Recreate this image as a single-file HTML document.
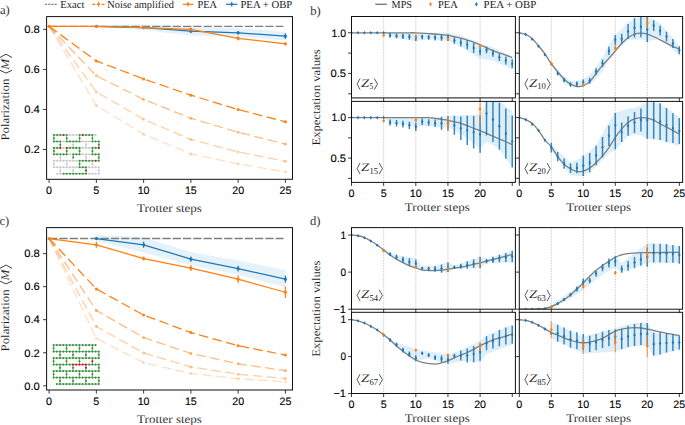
<!DOCTYPE html>
<html><head><meta charset="utf-8"><style>
html,body{margin:0;padding:0;background:#fff;}
svg{display:block;}
</style></head><body>
<svg text-rendering="geometricPrecision" width="685" height="425" viewBox="0 0 685 425">
<rect width="685" height="425" fill="#fff"/>
<polygon points="96.36,25.77 143.62,24.16 190.88,26.57 238.14,28.17 285.4,31.97 285.4,40.58 238.14,36.78 190.88,35.38 143.62,29.97 96.36,26.97" fill="#e6f2fa"/>
<line x1="49.1" y1="26.37" x2="283.4" y2="26.37" stroke="#7f7f7f" stroke-width="1.4" stroke-dasharray="8.2 2.1" />
<polyline points="49.1,26.37 96.36,60.9 143.62,79.02 190.88,95.14 238.14,109.45 285.4,121.86" fill="none" stroke="#ff7f0e" stroke-width="1.25" stroke-dasharray="9.5 4.5" stroke-opacity="1.0" stroke-linejoin="round" />
<circle cx="96.36" cy="60.9" r="1.5" fill="#ff7f0e" fill-opacity="1.0"/>
<circle cx="143.62" cy="79.02" r="1.5" fill="#ff7f0e" fill-opacity="1.0"/>
<circle cx="190.88" cy="95.14" r="1.5" fill="#ff7f0e" fill-opacity="1.0"/>
<circle cx="238.14" cy="109.45" r="1.5" fill="#ff7f0e" fill-opacity="1.0"/>
<circle cx="285.4" cy="121.86" r="1.5" fill="#ff7f0e" fill-opacity="1.0"/>
<polyline points="49.1,26.37 96.36,75.82 143.62,99.44 190.88,118.26 238.14,132.27 285.4,144.08" fill="none" stroke="#ff7f0e" stroke-width="1.25" stroke-dasharray="9.5 4.5" stroke-opacity="0.52" stroke-linejoin="round" />
<circle cx="96.36" cy="75.82" r="1.5" fill="#ff7f0e" fill-opacity="0.52"/>
<circle cx="143.62" cy="99.44" r="1.5" fill="#ff7f0e" fill-opacity="0.52"/>
<circle cx="190.88" cy="118.26" r="1.5" fill="#ff7f0e" fill-opacity="0.52"/>
<circle cx="238.14" cy="132.27" r="1.5" fill="#ff7f0e" fill-opacity="0.52"/>
<circle cx="285.4" cy="144.08" r="1.5" fill="#ff7f0e" fill-opacity="0.52"/>
<polyline points="49.1,26.37 96.36,92.03 143.62,119.26 190.88,139.48 238.14,151.89 285.4,161.3" fill="none" stroke="#ff7f0e" stroke-width="1.25" stroke-dasharray="9.5 4.5" stroke-opacity="0.38" stroke-linejoin="round" />
<circle cx="96.36" cy="92.03" r="1.5" fill="#ff7f0e" fill-opacity="0.38"/>
<circle cx="143.62" cy="119.26" r="1.5" fill="#ff7f0e" fill-opacity="0.38"/>
<circle cx="190.88" cy="139.48" r="1.5" fill="#ff7f0e" fill-opacity="0.38"/>
<circle cx="238.14" cy="151.89" r="1.5" fill="#ff7f0e" fill-opacity="0.38"/>
<circle cx="285.4" cy="161.3" r="1.5" fill="#ff7f0e" fill-opacity="0.38"/>
<polyline points="49.1,26.37 96.36,105.45 143.62,134.27 190.88,153.89 238.14,163.9 285.4,171.71" fill="none" stroke="#ff7f0e" stroke-width="1.25" stroke-dasharray="9.5 4.5" stroke-opacity="0.26" stroke-linejoin="round" />
<circle cx="96.36" cy="105.45" r="1.5" fill="#ff7f0e" fill-opacity="0.26"/>
<circle cx="143.62" cy="134.27" r="1.5" fill="#ff7f0e" fill-opacity="0.26"/>
<circle cx="190.88" cy="153.89" r="1.5" fill="#ff7f0e" fill-opacity="0.26"/>
<circle cx="238.14" cy="163.9" r="1.5" fill="#ff7f0e" fill-opacity="0.26"/>
<circle cx="285.4" cy="171.71" r="1.5" fill="#ff7f0e" fill-opacity="0.26"/>
<polyline points="96.36,26.37 143.62,27.57 190.88,31.17 238.14,32.77 285.4,36.18" fill="none" stroke="#1f77b4" stroke-width="1.25" stroke-linejoin="round" />
<line x1="96.36" y1="25.97" x2="96.36" y2="26.77" stroke="#1f77b4" stroke-width="1.2" />
<circle cx="96.36" cy="26.37" r="1.6" fill="#1f77b4"/>
<line x1="143.62" y1="26.77" x2="143.62" y2="28.37" stroke="#1f77b4" stroke-width="1.2" />
<circle cx="143.62" cy="27.57" r="1.6" fill="#1f77b4"/>
<line x1="190.88" y1="29.57" x2="190.88" y2="32.77" stroke="#1f77b4" stroke-width="1.2" />
<circle cx="190.88" cy="31.17" r="1.6" fill="#1f77b4"/>
<line x1="238.14" y1="30.97" x2="238.14" y2="34.58" stroke="#1f77b4" stroke-width="1.2" />
<circle cx="238.14" cy="32.77" r="1.6" fill="#1f77b4"/>
<line x1="285.4" y1="33.37" x2="285.4" y2="38.98" stroke="#1f77b4" stroke-width="1.2" />
<circle cx="285.4" cy="36.18" r="1.6" fill="#1f77b4"/>
<polyline points="49.1,26.37 96.36,26.37 143.62,27.57 190.88,29.37 238.14,38.38 285.4,43.78" fill="none" stroke="#ff7f0e" stroke-width="1.25" stroke-linejoin="round" />
<circle cx="49.1" cy="26.37" r="1.6" fill="#ff7f0e"/>
<line x1="96.36" y1="25.77" x2="96.36" y2="26.97" stroke="#ff7f0e" stroke-width="1.2" />
<circle cx="96.36" cy="26.37" r="1.6" fill="#ff7f0e"/>
<line x1="143.62" y1="26.77" x2="143.62" y2="28.37" stroke="#ff7f0e" stroke-width="1.2" />
<circle cx="143.62" cy="27.57" r="1.6" fill="#ff7f0e"/>
<line x1="190.88" y1="27.57" x2="190.88" y2="31.17" stroke="#ff7f0e" stroke-width="1.2" />
<circle cx="190.88" cy="29.37" r="1.6" fill="#ff7f0e"/>
<line x1="238.14" y1="36.18" x2="238.14" y2="40.58" stroke="#ff7f0e" stroke-width="1.2" />
<circle cx="238.14" cy="38.38" r="1.6" fill="#ff7f0e"/>
<line x1="285.4" y1="42.58" x2="285.4" y2="44.99" stroke="#ff7f0e" stroke-width="1.2" />
<circle cx="285.4" cy="43.78" r="1.6" fill="#ff7f0e"/>
<rect x="46.6" y="16.6" width="245.9" height="162.7" fill="none" stroke="#111" stroke-width="1.0"/>
<line x1="43.1" y1="29.37" x2="46.6" y2="29.37" stroke="#222" stroke-width="0.9" />
<text x="39.8" y="33.12" font-family='"Liberation Sans", sans-serif' font-size="10.8" text-anchor="end" textLength="15.6" lengthAdjust="spacingAndGlyphs" fill="#000" stroke="#000" stroke-width="0.22" stroke-opacity="0.6">0.8</text>
<line x1="43.1" y1="69.41" x2="46.6" y2="69.41" stroke="#222" stroke-width="0.9" />
<text x="39.8" y="73.16" font-family='"Liberation Sans", sans-serif' font-size="10.8" text-anchor="end" textLength="15.6" lengthAdjust="spacingAndGlyphs" fill="#000" stroke="#000" stroke-width="0.22" stroke-opacity="0.6">0.6</text>
<line x1="43.1" y1="109.45" x2="46.6" y2="109.45" stroke="#222" stroke-width="0.9" />
<text x="39.8" y="113.2" font-family='"Liberation Sans", sans-serif' font-size="10.8" text-anchor="end" textLength="15.6" lengthAdjust="spacingAndGlyphs" fill="#000" stroke="#000" stroke-width="0.22" stroke-opacity="0.6">0.4</text>
<line x1="43.1" y1="149.49" x2="46.6" y2="149.49" stroke="#222" stroke-width="0.9" />
<text x="39.8" y="153.24" font-family='"Liberation Sans", sans-serif' font-size="10.8" text-anchor="end" textLength="15.6" lengthAdjust="spacingAndGlyphs" fill="#000" stroke="#000" stroke-width="0.22" stroke-opacity="0.6">0.2</text>
<line x1="49.1" y1="179.3" x2="49.1" y2="182.9" stroke="#222" stroke-width="0.9" />
<text x="49.1" y="193.9" font-family='"Liberation Sans", sans-serif' font-size="10.8" text-anchor="middle" textLength="6" lengthAdjust="spacingAndGlyphs" fill="#000" stroke="#000" stroke-width="0.22" stroke-opacity="0.6">0</text>
<line x1="96.36" y1="179.3" x2="96.36" y2="182.9" stroke="#222" stroke-width="0.9" />
<text x="96.36" y="193.9" font-family='"Liberation Sans", sans-serif' font-size="10.8" text-anchor="middle" textLength="6" lengthAdjust="spacingAndGlyphs" fill="#000" stroke="#000" stroke-width="0.22" stroke-opacity="0.6">5</text>
<line x1="143.62" y1="179.3" x2="143.62" y2="182.9" stroke="#222" stroke-width="0.9" />
<text x="143.62" y="193.9" font-family='"Liberation Sans", sans-serif' font-size="10.8" text-anchor="middle" textLength="11.9" lengthAdjust="spacingAndGlyphs" fill="#000" stroke="#000" stroke-width="0.22" stroke-opacity="0.6">10</text>
<line x1="190.88" y1="179.3" x2="190.88" y2="182.9" stroke="#222" stroke-width="0.9" />
<text x="190.88" y="193.9" font-family='"Liberation Sans", sans-serif' font-size="10.8" text-anchor="middle" textLength="11.9" lengthAdjust="spacingAndGlyphs" fill="#000" stroke="#000" stroke-width="0.22" stroke-opacity="0.6">15</text>
<line x1="238.14" y1="179.3" x2="238.14" y2="182.9" stroke="#222" stroke-width="0.9" />
<text x="238.14" y="193.9" font-family='"Liberation Sans", sans-serif' font-size="10.8" text-anchor="middle" textLength="11.9" lengthAdjust="spacingAndGlyphs" fill="#000" stroke="#000" stroke-width="0.22" stroke-opacity="0.6">20</text>
<line x1="285.4" y1="179.3" x2="285.4" y2="182.9" stroke="#222" stroke-width="0.9" />
<text x="285.4" y="193.9" font-family='"Liberation Sans", sans-serif' font-size="10.8" text-anchor="middle" textLength="11.9" lengthAdjust="spacingAndGlyphs" fill="#000" stroke="#000" stroke-width="0.22" stroke-opacity="0.6">25</text>
<text x="169.5" y="211.9" font-family='"Liberation Serif", serif' font-size="11.7" text-anchor="middle" textLength="64.8" lengthAdjust="spacingAndGlyphs" fill="#1c1c1c" stroke="#fff" stroke-width="0.12" stroke-opacity="0.7">Trotter steps</text>
<polygon points="96.36,234.93 143.62,237.24 190.88,252.11 238.14,260.54 285.4,270.12 285.4,287.15 238.14,274.75 190.88,265.33 143.62,252.44 96.36,241.04" fill="#e6f2fa"/>
<line x1="49.1" y1="238.56" x2="283.4" y2="238.56" stroke="#7f7f7f" stroke-width="1.4" stroke-dasharray="8.2 2.1" />
<polyline points="49.1,238.56 96.36,288.96 143.62,315.07 190.88,332.59 238.14,345.64 285.4,355.06" fill="none" stroke="#ff7f0e" stroke-width="1.25" stroke-dasharray="9.5 4.5" stroke-opacity="1.0" stroke-linejoin="round" />
<circle cx="96.36" cy="288.96" r="1.5" fill="#ff7f0e" fill-opacity="1.0"/>
<circle cx="143.62" cy="315.07" r="1.5" fill="#ff7f0e" fill-opacity="1.0"/>
<circle cx="190.88" cy="332.59" r="1.5" fill="#ff7f0e" fill-opacity="1.0"/>
<circle cx="238.14" cy="345.64" r="1.5" fill="#ff7f0e" fill-opacity="1.0"/>
<circle cx="285.4" cy="355.06" r="1.5" fill="#ff7f0e" fill-opacity="1.0"/>
<polyline points="49.1,238.56 96.36,310.45 143.62,337.55 190.88,353.41 238.14,363.82 285.4,370.6" fill="none" stroke="#ff7f0e" stroke-width="1.25" stroke-dasharray="9.5 4.5" stroke-opacity="0.52" stroke-linejoin="round" />
<circle cx="96.36" cy="310.45" r="1.5" fill="#ff7f0e" fill-opacity="0.52"/>
<circle cx="143.62" cy="337.55" r="1.5" fill="#ff7f0e" fill-opacity="0.52"/>
<circle cx="190.88" cy="353.41" r="1.5" fill="#ff7f0e" fill-opacity="0.52"/>
<circle cx="238.14" cy="363.82" r="1.5" fill="#ff7f0e" fill-opacity="0.52"/>
<circle cx="285.4" cy="370.6" r="1.5" fill="#ff7f0e" fill-opacity="0.52"/>
<polyline points="49.1,238.56 96.36,326.48 143.62,352.92 190.88,366.96 238.14,374.23 285.4,378.53" fill="none" stroke="#ff7f0e" stroke-width="1.25" stroke-dasharray="9.5 4.5" stroke-opacity="0.38" stroke-linejoin="round" />
<circle cx="96.36" cy="326.48" r="1.5" fill="#ff7f0e" fill-opacity="0.38"/>
<circle cx="143.62" cy="352.92" r="1.5" fill="#ff7f0e" fill-opacity="0.38"/>
<circle cx="190.88" cy="366.96" r="1.5" fill="#ff7f0e" fill-opacity="0.38"/>
<circle cx="238.14" cy="374.23" r="1.5" fill="#ff7f0e" fill-opacity="0.38"/>
<circle cx="285.4" cy="378.53" r="1.5" fill="#ff7f0e" fill-opacity="0.38"/>
<polyline points="49.1,238.56 96.36,338.37 143.62,362.67 190.88,373.41 238.14,378.69 285.4,381.83" fill="none" stroke="#ff7f0e" stroke-width="1.25" stroke-dasharray="9.5 4.5" stroke-opacity="0.26" stroke-linejoin="round" />
<circle cx="96.36" cy="338.37" r="1.5" fill="#ff7f0e" fill-opacity="0.26"/>
<circle cx="143.62" cy="362.67" r="1.5" fill="#ff7f0e" fill-opacity="0.26"/>
<circle cx="190.88" cy="373.41" r="1.5" fill="#ff7f0e" fill-opacity="0.26"/>
<circle cx="238.14" cy="378.69" r="1.5" fill="#ff7f0e" fill-opacity="0.26"/>
<circle cx="285.4" cy="381.83" r="1.5" fill="#ff7f0e" fill-opacity="0.26"/>
<polyline points="96.36,238.56 143.62,244.84 190.88,259.05 238.14,268.64 285.4,279.21" fill="none" stroke="#1f77b4" stroke-width="1.25" stroke-linejoin="round" />
<line x1="96.36" y1="237.57" x2="96.36" y2="239.55" stroke="#1f77b4" stroke-width="1.2" />
<circle cx="96.36" cy="238.56" r="1.6" fill="#1f77b4"/>
<line x1="143.62" y1="241.87" x2="143.62" y2="247.82" stroke="#1f77b4" stroke-width="1.2" />
<circle cx="143.62" cy="244.84" r="1.6" fill="#1f77b4"/>
<line x1="190.88" y1="256.41" x2="190.88" y2="261.7" stroke="#1f77b4" stroke-width="1.2" />
<circle cx="190.88" cy="259.05" r="1.6" fill="#1f77b4"/>
<line x1="238.14" y1="265.66" x2="238.14" y2="271.61" stroke="#1f77b4" stroke-width="1.2" />
<circle cx="238.14" cy="268.64" r="1.6" fill="#1f77b4"/>
<line x1="285.4" y1="275.58" x2="285.4" y2="282.85" stroke="#1f77b4" stroke-width="1.2" />
<circle cx="285.4" cy="279.21" r="1.6" fill="#1f77b4"/>
<polyline points="49.1,238.56 96.36,244.84 143.62,258.56 190.88,268.14 238.14,279.21 285.4,292.27" fill="none" stroke="#ff7f0e" stroke-width="1.25" stroke-linejoin="round" />
<circle cx="49.1" cy="238.56" r="1.6" fill="#ff7f0e"/>
<line x1="96.36" y1="241.87" x2="96.36" y2="247.82" stroke="#ff7f0e" stroke-width="1.2" />
<circle cx="96.36" cy="244.84" r="1.6" fill="#ff7f0e"/>
<line x1="143.62" y1="256.57" x2="143.62" y2="260.54" stroke="#ff7f0e" stroke-width="1.2" />
<circle cx="143.62" cy="258.56" r="1.6" fill="#ff7f0e"/>
<line x1="190.88" y1="265.17" x2="190.88" y2="271.12" stroke="#ff7f0e" stroke-width="1.2" />
<circle cx="190.88" cy="268.14" r="1.6" fill="#ff7f0e"/>
<line x1="238.14" y1="275.25" x2="238.14" y2="283.18" stroke="#ff7f0e" stroke-width="1.2" />
<circle cx="238.14" cy="279.21" r="1.6" fill="#ff7f0e"/>
<line x1="285.4" y1="286.48" x2="285.4" y2="298.05" stroke="#ff7f0e" stroke-width="1.2" />
<circle cx="285.4" cy="292.27" r="1.6" fill="#ff7f0e"/>
<rect x="46.6" y="227.6" width="245.9" height="162.4" fill="none" stroke="#111" stroke-width="1.0"/>
<line x1="43.1" y1="253.6" x2="46.6" y2="253.6" stroke="#222" stroke-width="0.9" />
<text x="39.8" y="257.35" font-family='"Liberation Sans", sans-serif' font-size="10.8" text-anchor="end" textLength="15.6" lengthAdjust="spacingAndGlyphs" fill="#000" stroke="#000" stroke-width="0.22" stroke-opacity="0.6">0.8</text>
<line x1="43.1" y1="286.65" x2="46.6" y2="286.65" stroke="#222" stroke-width="0.9" />
<text x="39.8" y="290.4" font-family='"Liberation Sans", sans-serif' font-size="10.8" text-anchor="end" textLength="15.6" lengthAdjust="spacingAndGlyphs" fill="#000" stroke="#000" stroke-width="0.22" stroke-opacity="0.6">0.6</text>
<line x1="43.1" y1="319.7" x2="46.6" y2="319.7" stroke="#222" stroke-width="0.9" />
<text x="39.8" y="323.45" font-family='"Liberation Sans", sans-serif' font-size="10.8" text-anchor="end" textLength="15.6" lengthAdjust="spacingAndGlyphs" fill="#000" stroke="#000" stroke-width="0.22" stroke-opacity="0.6">0.4</text>
<line x1="43.1" y1="352.75" x2="46.6" y2="352.75" stroke="#222" stroke-width="0.9" />
<text x="39.8" y="356.5" font-family='"Liberation Sans", sans-serif' font-size="10.8" text-anchor="end" textLength="15.6" lengthAdjust="spacingAndGlyphs" fill="#000" stroke="#000" stroke-width="0.22" stroke-opacity="0.6">0.2</text>
<line x1="43.1" y1="385.8" x2="46.6" y2="385.8" stroke="#222" stroke-width="0.9" />
<text x="39.8" y="389.55" font-family='"Liberation Sans", sans-serif' font-size="10.8" text-anchor="end" textLength="15.6" lengthAdjust="spacingAndGlyphs" fill="#000" stroke="#000" stroke-width="0.22" stroke-opacity="0.6">0.0</text>
<line x1="49.1" y1="390" x2="49.1" y2="393.6" stroke="#222" stroke-width="0.9" />
<text x="49.1" y="404.6" font-family='"Liberation Sans", sans-serif' font-size="10.8" text-anchor="middle" textLength="6" lengthAdjust="spacingAndGlyphs" fill="#000" stroke="#000" stroke-width="0.22" stroke-opacity="0.6">0</text>
<line x1="96.36" y1="390" x2="96.36" y2="393.6" stroke="#222" stroke-width="0.9" />
<text x="96.36" y="404.6" font-family='"Liberation Sans", sans-serif' font-size="10.8" text-anchor="middle" textLength="6" lengthAdjust="spacingAndGlyphs" fill="#000" stroke="#000" stroke-width="0.22" stroke-opacity="0.6">5</text>
<line x1="143.62" y1="390" x2="143.62" y2="393.6" stroke="#222" stroke-width="0.9" />
<text x="143.62" y="404.6" font-family='"Liberation Sans", sans-serif' font-size="10.8" text-anchor="middle" textLength="11.9" lengthAdjust="spacingAndGlyphs" fill="#000" stroke="#000" stroke-width="0.22" stroke-opacity="0.6">10</text>
<line x1="190.88" y1="390" x2="190.88" y2="393.6" stroke="#222" stroke-width="0.9" />
<text x="190.88" y="404.6" font-family='"Liberation Sans", sans-serif' font-size="10.8" text-anchor="middle" textLength="11.9" lengthAdjust="spacingAndGlyphs" fill="#000" stroke="#000" stroke-width="0.22" stroke-opacity="0.6">15</text>
<line x1="238.14" y1="390" x2="238.14" y2="393.6" stroke="#222" stroke-width="0.9" />
<text x="238.14" y="404.6" font-family='"Liberation Sans", sans-serif' font-size="10.8" text-anchor="middle" textLength="11.9" lengthAdjust="spacingAndGlyphs" fill="#000" stroke="#000" stroke-width="0.22" stroke-opacity="0.6">20</text>
<line x1="285.4" y1="390" x2="285.4" y2="393.6" stroke="#222" stroke-width="0.9" />
<text x="285.4" y="404.6" font-family='"Liberation Sans", sans-serif' font-size="10.8" text-anchor="middle" textLength="11.9" lengthAdjust="spacingAndGlyphs" fill="#000" stroke="#000" stroke-width="0.22" stroke-opacity="0.6">25</text>
<text x="169.5" y="422.6" font-family='"Liberation Serif", serif' font-size="11.7" text-anchor="middle" textLength="64.8" lengthAdjust="spacingAndGlyphs" fill="#1c1c1c" stroke="#fff" stroke-width="0.12" stroke-opacity="0.7">Trotter steps</text>
<g transform="translate(8.9,97.75) rotate(-90)">
<text x="-42.85" y="0" font-family='"Liberation Serif", serif' font-size="11.7" textLength="62" lengthAdjust="spacingAndGlyphs" fill="#1c1c1c" stroke="#fff" stroke-width="0.12" stroke-opacity="0.7">Polarization</text>
<polyline points="27.45,-8.9 24.65,-2.9 27.45,3.1" fill="none" stroke="#000" stroke-width="0.75"/>
<text x="28.1" y="0" font-family='"Liberation Serif", serif' font-size="11.7" textLength="11" lengthAdjust="spacingAndGlyphs" font-style="italic" fill="#1c1c1c" stroke="#fff" stroke-width="0.12" stroke-opacity="0.7">M</text>
<polyline points="40.25,-8.9 43.55,-2.9 40.25,3.1" fill="none" stroke="#000" stroke-width="0.75"/>
</g>
<g transform="translate(8.9,308.6) rotate(-90)">
<text x="-42.85" y="0" font-family='"Liberation Serif", serif' font-size="11.7" textLength="62" lengthAdjust="spacingAndGlyphs" fill="#1c1c1c" stroke="#fff" stroke-width="0.12" stroke-opacity="0.7">Polarization</text>
<polyline points="27.45,-8.9 24.65,-2.9 27.45,3.1" fill="none" stroke="#000" stroke-width="0.75"/>
<text x="28.1" y="0" font-family='"Liberation Serif", serif' font-size="11.7" textLength="11" lengthAdjust="spacingAndGlyphs" font-style="italic" fill="#1c1c1c" stroke="#fff" stroke-width="0.12" stroke-opacity="0.7">M</text>
<polyline points="40.25,-8.9 43.55,-2.9 40.25,3.1" fill="none" stroke="#000" stroke-width="0.75"/>
</g>
<text x="0" y="14" font-family='"Liberation Serif", serif' font-size="12.6" fill="#1c1c1c" stroke="#fff" stroke-width="0.12" stroke-opacity="0.7">a)</text>
<text x="-0.5" y="225.2" font-family='"Liberation Serif", serif' font-size="12.6" fill="#1c1c1c" stroke="#fff" stroke-width="0.12" stroke-opacity="0.7">c)</text>
<text x="310.2" y="14.5" font-family='"Liberation Serif", serif' font-size="12.6" fill="#1c1c1c" stroke="#fff" stroke-width="0.12" stroke-opacity="0.7">b)</text>
<text x="310" y="225.2" font-family='"Liberation Serif", serif' font-size="12.6" fill="#1c1c1c" stroke="#fff" stroke-width="0.12" stroke-opacity="0.7">d)</text>
<line x1="44.9" y1="4.3" x2="47.1" y2="4.3" stroke="#555" stroke-width="0.9" />
<line x1="48.1" y1="4.3" x2="50.3" y2="4.3" stroke="#555" stroke-width="0.9" />
<line x1="51.3" y1="4.3" x2="53.5" y2="4.3" stroke="#555" stroke-width="0.9" />
<line x1="54.5" y1="4.3" x2="56.7" y2="4.3" stroke="#555" stroke-width="0.9" />
<text x="60.2" y="7.55" font-family='"Liberation Serif", serif' font-size="10.6" textLength="24.3" lengthAdjust="spacingAndGlyphs" fill="#1c1c1c" >Exact</text>
<line x1="92.3" y1="4.3" x2="104.9" y2="4.3" stroke="#ff7f0e" stroke-width="1.2" stroke-dasharray="3 1.6" />
<line x1="98.6" y1="2" x2="98.6" y2="6.6" stroke="#ff7f0e" stroke-width="1.1" />
<circle cx="98.6" cy="4.3" r="1.3" fill="#ff7f0e"/>
<text x="107.3" y="7.55" font-family='"Liberation Serif", serif' font-size="10.6" textLength="66.7" lengthAdjust="spacingAndGlyphs" fill="#1c1c1c" >Noise amplified</text>
<line x1="182.7" y1="4.3" x2="193.6" y2="4.3" stroke="#ff7f0e" stroke-width="1.2" />
<line x1="188.1" y1="2" x2="188.1" y2="6.6" stroke="#ff7f0e" stroke-width="1.1" />
<circle cx="188.1" cy="4.3" r="1.3" fill="#ff7f0e"/>
<text x="197.4" y="7.55" font-family='"Liberation Serif", serif' font-size="10.6" textLength="19.6" lengthAdjust="spacingAndGlyphs" fill="#1c1c1c" >PEA</text>
<line x1="226" y1="4.3" x2="237.4" y2="4.3" stroke="#1f77b4" stroke-width="1.2" />
<line x1="231.7" y1="2" x2="231.7" y2="6.6" stroke="#1f77b4" stroke-width="1.1" />
<circle cx="231.7" cy="4.3" r="1.3" fill="#1f77b4"/>
<text x="240.4" y="7.55" font-family='"Liberation Serif", serif' font-size="10.6" textLength="51.9" lengthAdjust="spacingAndGlyphs" fill="#1c1c1c" >PEA + OBP</text>
<line x1="375.3" y1="4.3" x2="386.9" y2="4.3" stroke="#7f7f7f" stroke-width="1.5" />
<text x="391.6" y="7.55" font-family='"Liberation Serif", serif' font-size="10.6" textLength="20.4" lengthAdjust="spacingAndGlyphs" fill="#1c1c1c" >MPS</text>
<polygon points="430.5,2 431.9,4.3 430.5,6.6 429.1,4.3" fill="#ff7f0e"/>
<text x="438" y="7.55" font-family='"Liberation Serif", serif' font-size="10.6" textLength="19.7" lengthAdjust="spacingAndGlyphs" fill="#1c1c1c" >PEA</text>
<polygon points="476.4,2 477.8,4.3 476.4,6.6 475,4.3" fill="#1f77b4"/>
<text x="483.6" y="7.55" font-family='"Liberation Serif", serif' font-size="10.6" textLength="52.6" lengthAdjust="spacingAndGlyphs" fill="#1c1c1c" >PEA + OBP</text>
<clipPath id="cp016"><rect x="351.5" y="16.5" width="163.9" height="81.4"/></clipPath>
<g clip-path="url(#cp016)">
<polygon points="383.65,32.78 390.08,32.78 396.51,32.78 402.94,33.05 409.37,33.32 415.8,33.59 422.23,33.19 428.66,32.78 435.09,32.78 441.52,32.78 447.95,32.78 454.38,34 460.81,35.22 467.24,37.94 473.67,40.65 480.1,43.36 486.53,45.4 492.96,47.43 499.39,50.42 505.82,53.4 512.25,56.39 512.25,69.41 505.82,66.43 499.39,63.44 492.96,60.46 486.53,59.64 480.1,58.83 473.67,54.76 467.24,50.69 460.81,46.62 454.38,43.77 447.95,40.92 441.52,40.38 435.09,39.83 428.66,39.29 422.23,40.11 415.8,40.92 409.37,40.11 402.94,39.29 396.51,38.48 390.08,35.63 383.65,32.78" fill="#dfeff9"/>
<line x1="383.65" y1="16.5" x2="383.65" y2="97.9" stroke="#000" stroke-width="0.9" stroke-opacity="0.05"/>
<line x1="383.65" y1="16.5" x2="383.65" y2="97.9" stroke="#c4c4c4" stroke-width="0.8" stroke-dasharray="1.2 1.5" />
<line x1="415.8" y1="16.5" x2="415.8" y2="97.9" stroke="#000" stroke-width="0.9" stroke-opacity="0.05"/>
<line x1="415.8" y1="16.5" x2="415.8" y2="97.9" stroke="#c4c4c4" stroke-width="0.8" stroke-dasharray="1.2 1.5" />
<line x1="447.95" y1="16.5" x2="447.95" y2="97.9" stroke="#000" stroke-width="0.9" stroke-opacity="0.05"/>
<line x1="447.95" y1="16.5" x2="447.95" y2="97.9" stroke="#c4c4c4" stroke-width="0.8" stroke-dasharray="1.2 1.5" />
<line x1="480.1" y1="16.5" x2="480.1" y2="97.9" stroke="#000" stroke-width="0.9" stroke-opacity="0.05"/>
<line x1="480.1" y1="16.5" x2="480.1" y2="97.9" stroke="#c4c4c4" stroke-width="0.8" stroke-dasharray="1.2 1.5" />
<path d="M351.5,32.78 C352.57,32.78 355.79,32.78 357.93,32.78 C360.07,32.78 362.22,32.78 364.36,32.78 C366.5,32.78 368.65,32.78 370.79,32.78 C372.93,32.78 375.08,32.78 377.22,32.78 C379.36,32.78 381.51,32.78 383.65,32.78 C385.79,32.78 387.94,32.78 390.08,32.78 C392.22,32.78 394.37,32.78 396.51,32.78 C398.65,32.78 400.8,32.78 402.94,32.78 C405.08,32.78 407.23,32.78 409.37,32.78 C411.51,32.78 413.66,32.71 415.8,32.78 C417.94,32.85 420.09,33.05 422.23,33.19 C424.37,33.32 426.52,33.46 428.66,33.59 C430.8,33.73 432.95,33.82 435.09,34 C437.23,34.18 439.38,34.44 441.52,34.65 C443.66,34.87 445.81,34.96 447.95,35.3 C450.09,35.64 452.24,36.21 454.38,36.69 C456.52,37.16 458.67,37.58 460.81,38.15 C462.95,38.72 465.1,39.44 467.24,40.11 C469.38,40.77 471.53,41.37 473.67,42.14 C475.81,42.91 477.96,43.8 480.1,44.75 C482.24,45.7 484.39,46.85 486.53,47.84 C488.67,48.83 490.82,49.83 492.96,50.69 C495.1,51.54 497.25,52.22 499.39,52.97 C501.53,53.71 503.68,54.41 505.82,55.16 C507.96,55.92 511.18,57.13 512.25,57.53" fill="none" stroke="#7f7f7f" stroke-width="1.3" stroke-linejoin="round" />
<polygon points="351.5,30.98 352.8,32.78 351.5,34.58 350.2,32.78" fill="#1f77b4"/>
<polygon points="357.93,30.98 359.23,32.78 357.93,34.58 356.63,32.78" fill="#1f77b4"/>
<polygon points="364.36,30.98 365.66,32.78 364.36,34.58 363.06,32.78" fill="#1f77b4"/>
<polygon points="370.79,30.98 372.09,32.78 370.79,34.58 369.49,32.78" fill="#1f77b4"/>
<polygon points="377.22,30.98 378.52,32.78 377.22,34.58 375.92,32.78" fill="#1f77b4"/>
<line x1="383.65" y1="32.37" x2="383.65" y2="33.19" stroke="#1f77b4" stroke-width="1.5" stroke-opacity="0.88"/>
<polygon points="383.65,30.98 384.95,32.78 383.65,34.58 382.35,32.78" fill="#1f77b4"/>
<line x1="390.08" y1="33.11" x2="390.08" y2="37.66" stroke="#1f77b4" stroke-width="1.5" stroke-opacity="0.88"/>
<polygon points="390.08,33.58 391.38,35.38 390.08,37.18 388.78,35.38" fill="#1f77b4"/>
<line x1="396.51" y1="33.43" x2="396.51" y2="38.32" stroke="#1f77b4" stroke-width="1.5" stroke-opacity="0.88"/>
<polygon points="396.51,34.07 397.81,35.87 396.51,37.67 395.21,35.87" fill="#1f77b4"/>
<line x1="402.94" y1="33.76" x2="402.94" y2="38.97" stroke="#1f77b4" stroke-width="1.5" stroke-opacity="0.88"/>
<polygon points="402.94,34.56 404.24,36.36 402.94,38.16 401.64,36.36" fill="#1f77b4"/>
<line x1="409.37" y1="34" x2="409.37" y2="39.7" stroke="#1f77b4" stroke-width="1.5" stroke-opacity="0.88"/>
<polygon points="409.37,35.05 410.67,36.85 409.37,38.65 408.07,36.85" fill="#1f77b4"/>
<line x1="415.8" y1="34.73" x2="415.8" y2="40.92" stroke="#1f77b4" stroke-width="1.5" stroke-opacity="0.88"/>
<polygon points="415.8,36.03 417.1,37.83 415.8,39.63 414.5,37.83" fill="#1f77b4"/>
<line x1="422.23" y1="34.41" x2="422.23" y2="39.29" stroke="#1f77b4" stroke-width="1.5" stroke-opacity="0.88"/>
<polygon points="422.23,35.05 423.53,36.85 422.23,38.65 420.93,36.85" fill="#1f77b4"/>
<line x1="428.66" y1="34.9" x2="428.66" y2="39.78" stroke="#1f77b4" stroke-width="1.5" stroke-opacity="0.88"/>
<polygon points="428.66,35.54 429.96,37.34 428.66,39.14 427.36,37.34" fill="#1f77b4"/>
<line x1="435.09" y1="34.73" x2="435.09" y2="40.43" stroke="#1f77b4" stroke-width="1.5" stroke-opacity="0.88"/>
<polygon points="435.09,35.78 436.39,37.58 435.09,39.38 433.79,37.58" fill="#1f77b4"/>
<line x1="441.52" y1="34.49" x2="441.52" y2="40.68" stroke="#1f77b4" stroke-width="1.5" stroke-opacity="0.88"/>
<polygon points="441.52,35.78 442.82,37.58 441.52,39.38 440.22,37.58" fill="#1f77b4"/>
<line x1="447.95" y1="34.41" x2="447.95" y2="40.92" stroke="#1f77b4" stroke-width="1.5" stroke-opacity="0.88"/>
<polygon points="447.95,35.86 449.25,37.66 447.95,39.46 446.65,37.66" fill="#1f77b4"/>
<line x1="454.38" y1="37.26" x2="454.38" y2="43.77" stroke="#1f77b4" stroke-width="1.5" stroke-opacity="0.88"/>
<polygon points="454.38,38.71 455.68,40.51 454.38,42.31 453.08,40.51" fill="#1f77b4"/>
<line x1="460.81" y1="38.8" x2="460.81" y2="46.62" stroke="#1f77b4" stroke-width="1.5" stroke-opacity="0.88"/>
<polygon points="460.81,40.91 462.11,42.71 460.81,44.51 459.51,42.71" fill="#1f77b4"/>
<line x1="467.24" y1="40.27" x2="467.24" y2="49.22" stroke="#1f77b4" stroke-width="1.5" stroke-opacity="0.88"/>
<polygon points="467.24,42.95 468.54,44.75 467.24,46.55 465.94,44.75" fill="#1f77b4"/>
<line x1="473.67" y1="43.12" x2="473.67" y2="52.89" stroke="#1f77b4" stroke-width="1.5" stroke-opacity="0.88"/>
<polygon points="473.67,46.2 474.97,48 473.67,49.8 472.37,48" fill="#1f77b4"/>
<line x1="480.1" y1="47.19" x2="480.1" y2="55.33" stroke="#1f77b4" stroke-width="1.5" stroke-opacity="0.88"/>
<polygon points="480.1,49.46 481.4,51.26 480.1,53.06 478.8,51.26" fill="#1f77b4"/>
<line x1="486.53" y1="46.54" x2="486.53" y2="53.37" stroke="#1f77b4" stroke-width="1.5" stroke-opacity="0.88"/>
<polygon points="486.53,48.16 487.83,49.96 486.53,51.76 485.23,49.96" fill="#1f77b4"/>
<line x1="492.96" y1="49.87" x2="492.96" y2="56.71" stroke="#1f77b4" stroke-width="1.5" stroke-opacity="0.88"/>
<polygon points="492.96,51.49 494.26,53.29 492.96,55.09 491.66,53.29" fill="#1f77b4"/>
<line x1="499.39" y1="53.46" x2="499.39" y2="60.94" stroke="#1f77b4" stroke-width="1.5" stroke-opacity="0.88"/>
<polygon points="499.39,55.4 500.69,57.2 499.39,59 498.09,57.2" fill="#1f77b4"/>
<line x1="505.82" y1="56.39" x2="505.82" y2="64.53" stroke="#1f77b4" stroke-width="1.5" stroke-opacity="0.88"/>
<polygon points="505.82,58.66 507.12,60.46 505.82,62.26 504.52,60.46" fill="#1f77b4"/>
<line x1="512.25" y1="59.23" x2="512.25" y2="68.19" stroke="#1f77b4" stroke-width="1.5" stroke-opacity="0.88"/>
<polygon points="512.25,61.91 513.55,63.71 512.25,65.51 510.95,63.71" fill="#1f77b4"/>
<line x1="383.65" y1="34.65" x2="383.65" y2="36.28" stroke="#ff7f0e" stroke-width="1.3" stroke-opacity="0.7"/>
<line x1="415.8" y1="35.63" x2="415.8" y2="38.07" stroke="#ff7f0e" stroke-width="1.3" stroke-opacity="0.7"/>
<line x1="447.95" y1="37.18" x2="447.95" y2="40.43" stroke="#ff7f0e" stroke-width="1.3" stroke-opacity="0.7"/>
<line x1="480.1" y1="44.66" x2="480.1" y2="47.92" stroke="#ff7f0e" stroke-width="1.3" stroke-opacity="0.7"/>
<polygon points="383.65,33.57 385.15,35.47 383.65,37.37 382.15,35.47" fill="#ff7f0e"/>
<polygon points="415.8,34.95 417.3,36.85 415.8,38.75 414.3,36.85" fill="#ff7f0e"/>
<polygon points="447.95,36.9 449.45,38.8 447.95,40.7 446.45,38.8" fill="#ff7f0e"/>
<polygon points="480.1,44.39 481.6,46.29 480.1,48.19 478.6,46.29" fill="#ff7f0e"/>
</g>
<rect x="351.5" y="16.5" width="163.9" height="81.4" fill="none" stroke="#111" stroke-width="1.0"/>
<line x1="348.1" y1="93.83" x2="351.5" y2="93.83" stroke="#222" stroke-width="0.9" />
<line x1="348.1" y1="73.48" x2="351.5" y2="73.48" stroke="#222" stroke-width="0.9" />
<line x1="348.1" y1="53.13" x2="351.5" y2="53.13" stroke="#222" stroke-width="0.9" />
<line x1="348.1" y1="32.78" x2="351.5" y2="32.78" stroke="#222" stroke-width="0.9" />
<text x="346" y="36.53" font-family='"Liberation Sans", sans-serif' font-size="10.8" text-anchor="end" textLength="14.6" lengthAdjust="spacingAndGlyphs" fill="#000" stroke="#000" stroke-width="0.22" stroke-opacity="0.6">1.0</text>
<text x="346" y="77.23" font-family='"Liberation Sans", sans-serif' font-size="10.8" text-anchor="end" textLength="15.6" lengthAdjust="spacingAndGlyphs" fill="#000" stroke="#000" stroke-width="0.22" stroke-opacity="0.6">0.5</text>
<line x1="351.5" y1="97.9" x2="351.5" y2="101.4" stroke="#222" stroke-width="0.9" />
<line x1="383.65" y1="97.9" x2="383.65" y2="101.4" stroke="#222" stroke-width="0.9" />
<line x1="415.8" y1="97.9" x2="415.8" y2="101.4" stroke="#222" stroke-width="0.9" />
<line x1="447.95" y1="97.9" x2="447.95" y2="101.4" stroke="#222" stroke-width="0.9" />
<line x1="480.1" y1="97.9" x2="480.1" y2="101.4" stroke="#222" stroke-width="0.9" />
<line x1="512.25" y1="97.9" x2="512.25" y2="101.4" stroke="#222" stroke-width="0.9" />
<polyline points="360.1,78.5 357.1,84.1 360.1,89.7" fill="none" stroke="#111" stroke-width="0.7"/>
<text x="361.1" y="86.7" font-family='"Liberation Serif", serif' font-size="12.0" textLength="8.2" lengthAdjust="spacingAndGlyphs" font-style="italic" fill="#1c1c1c" stroke="#fff" stroke-width="0.12" stroke-opacity="0.7">Z</text>
<text x="369.4" y="89.3" font-family='"Liberation Serif", serif' font-size="9.0" textLength="3.7" lengthAdjust="spacingAndGlyphs" fill="#1c1c1c" >5</text>
<polyline points="374.3,78.5 377.5,84.1 374.3,89.7" fill="none" stroke="#111" stroke-width="0.7"/>
<clipPath id="cp116"><rect x="519.3" y="16.5" width="163.3" height="81.4"/></clipPath>
<g clip-path="url(#cp116)">
<polygon points="551.3,61.68 557.7,70.22 564.1,76.08 570.5,80.81 576.9,81.62 583.3,79.18 589.7,74.62 596.1,66.97 602.5,57.85 608.9,44.18 615.3,35.22 621.7,28.71 628.1,22.2 634.5,19.35 640.9,16.5 647.3,16.5 653.7,19.76 660.1,23.01 666.5,30.61 672.9,38.21 679.3,45.8 679.3,55.57 672.9,50.15 666.5,44.72 660.1,39.29 653.7,40.11 647.3,40.92 640.9,39.29 634.5,39.7 628.1,40.11 621.7,45.93 615.3,51.75 608.9,60.86 602.5,71.53 596.1,79.18 589.7,83.66 583.3,86.75 576.9,87.56 570.5,86.75 564.1,83.41 557.7,75.35 551.3,65.34" fill="#dfeff9"/>
<line x1="551.3" y1="16.5" x2="551.3" y2="97.9" stroke="#000" stroke-width="0.9" stroke-opacity="0.05"/>
<line x1="551.3" y1="16.5" x2="551.3" y2="97.9" stroke="#c4c4c4" stroke-width="0.8" stroke-dasharray="1.2 1.5" />
<line x1="583.3" y1="16.5" x2="583.3" y2="97.9" stroke="#000" stroke-width="0.9" stroke-opacity="0.05"/>
<line x1="583.3" y1="16.5" x2="583.3" y2="97.9" stroke="#c4c4c4" stroke-width="0.8" stroke-dasharray="1.2 1.5" />
<line x1="615.3" y1="16.5" x2="615.3" y2="97.9" stroke="#000" stroke-width="0.9" stroke-opacity="0.05"/>
<line x1="615.3" y1="16.5" x2="615.3" y2="97.9" stroke="#c4c4c4" stroke-width="0.8" stroke-dasharray="1.2 1.5" />
<line x1="647.3" y1="16.5" x2="647.3" y2="97.9" stroke="#000" stroke-width="0.9" stroke-opacity="0.05"/>
<line x1="647.3" y1="16.5" x2="647.3" y2="97.9" stroke="#c4c4c4" stroke-width="0.8" stroke-dasharray="1.2 1.5" />
<path d="M519.3,32.78 C520.37,33.05 523.57,33.46 525.7,34.41 C527.83,35.36 529.97,36.58 532.1,38.48 C534.23,40.38 536.37,43.23 538.5,45.8 C540.63,48.38 542.77,50.96 544.9,53.94 C547.03,56.93 549.17,60.73 551.3,63.71 C553.43,66.7 555.57,69.27 557.7,71.85 C559.83,74.43 561.97,77.14 564.1,79.18 C566.23,81.21 568.37,82.84 570.5,84.06 C572.63,85.28 574.77,86.23 576.9,86.5 C579.03,86.78 581.17,86.5 583.3,85.69 C585.43,84.88 587.57,83.66 589.7,81.62 C591.83,79.59 593.97,76.19 596.1,73.48 C598.23,70.77 600.37,67.85 602.5,65.34 C604.63,62.83 606.77,60.82 608.9,58.42 C611.03,56.02 613.17,53.43 615.3,50.93 C617.43,48.44 619.57,45.65 621.7,43.44 C623.83,41.23 625.97,39.21 628.1,37.66 C630.23,36.12 632.37,34.91 634.5,34.16 C636.63,33.42 638.77,33.19 640.9,33.19 C643.03,33.19 645.17,33.57 647.3,34.16 C649.43,34.76 651.57,35.82 653.7,36.77 C655.83,37.72 657.97,38.8 660.1,39.86 C662.23,40.92 664.37,42.05 666.5,43.12 C668.63,44.19 670.77,45.3 672.9,46.29 C675.03,47.28 678.23,48.6 679.3,49.06" fill="none" stroke="#7f7f7f" stroke-width="1.3" stroke-linejoin="round" />
<polygon points="519.3,30.98 520.6,32.78 519.3,34.58 518,32.78" fill="#1f77b4"/>
<line x1="525.7" y1="33.92" x2="525.7" y2="34.9" stroke="#1f77b4" stroke-width="1.5" stroke-opacity="0.88"/>
<polygon points="525.7,32.61 527,34.41 525.7,36.21 524.4,34.41" fill="#1f77b4"/>
<line x1="532.1" y1="38.64" x2="532.1" y2="39.94" stroke="#1f77b4" stroke-width="1.5" stroke-opacity="0.88"/>
<polygon points="532.1,37.49 533.4,39.29 532.1,41.09 530.8,39.29" fill="#1f77b4"/>
<line x1="538.5" y1="45.4" x2="538.5" y2="47.03" stroke="#1f77b4" stroke-width="1.5" stroke-opacity="0.88"/>
<polygon points="538.5,44.41 539.8,46.21 538.5,48.01 537.2,46.21" fill="#1f77b4"/>
<line x1="544.9" y1="53.78" x2="544.9" y2="55.73" stroke="#1f77b4" stroke-width="1.5" stroke-opacity="0.88"/>
<polygon points="544.9,52.96 546.2,54.76 544.9,56.56 543.6,54.76" fill="#1f77b4"/>
<line x1="551.3" y1="62.08" x2="551.3" y2="65.34" stroke="#1f77b4" stroke-width="1.5" stroke-opacity="0.88"/>
<polygon points="551.3,61.91 552.6,63.71 551.3,65.51 550,63.71" fill="#1f77b4"/>
<line x1="557.7" y1="71.69" x2="557.7" y2="75.27" stroke="#1f77b4" stroke-width="1.5" stroke-opacity="0.88"/>
<polygon points="557.7,71.68 559,73.48 557.7,75.28 556.4,73.48" fill="#1f77b4"/>
<line x1="564.1" y1="77.71" x2="564.1" y2="82.27" stroke="#1f77b4" stroke-width="1.5" stroke-opacity="0.88"/>
<polygon points="564.1,78.19 565.4,79.99 564.1,81.79 562.8,79.99" fill="#1f77b4"/>
<line x1="570.5" y1="82.19" x2="570.5" y2="86.75" stroke="#1f77b4" stroke-width="1.5" stroke-opacity="0.88"/>
<polygon points="570.5,82.67 571.8,84.47 570.5,86.27 569.2,84.47" fill="#1f77b4"/>
<line x1="576.9" y1="81.29" x2="576.9" y2="86.83" stroke="#1f77b4" stroke-width="1.5" stroke-opacity="0.88"/>
<polygon points="576.9,82.26 578.2,84.06 576.9,85.86 575.6,84.06" fill="#1f77b4"/>
<line x1="583.3" y1="79.42" x2="583.3" y2="85.45" stroke="#1f77b4" stroke-width="1.5" stroke-opacity="0.88"/>
<polygon points="583.3,80.63 584.6,82.43 583.3,84.23 582,82.43" fill="#1f77b4"/>
<line x1="589.7" y1="77.79" x2="589.7" y2="83.82" stroke="#1f77b4" stroke-width="1.5" stroke-opacity="0.88"/>
<polygon points="589.7,79.01 591,80.81 589.7,82.61 588.4,80.81" fill="#1f77b4"/>
<line x1="596.1" y1="68.27" x2="596.1" y2="74.78" stroke="#1f77b4" stroke-width="1.5" stroke-opacity="0.88"/>
<polygon points="596.1,69.73 597.4,71.53 596.1,73.33 594.8,71.53" fill="#1f77b4"/>
<line x1="602.5" y1="59.4" x2="602.5" y2="67.05" stroke="#1f77b4" stroke-width="1.5" stroke-opacity="0.88"/>
<polygon points="602.5,61.42 603.8,63.22 602.5,65.02 601.2,63.22" fill="#1f77b4"/>
<line x1="608.9" y1="46.86" x2="608.9" y2="55" stroke="#1f77b4" stroke-width="1.5" stroke-opacity="0.88"/>
<polygon points="608.9,49.13 610.2,50.93 608.9,52.73 607.6,50.93" fill="#1f77b4"/>
<line x1="615.3" y1="34.98" x2="615.3" y2="44.75" stroke="#1f77b4" stroke-width="1.5" stroke-opacity="0.88"/>
<polygon points="615.3,38.06 616.6,39.86 615.3,41.66 614,39.86" fill="#1f77b4"/>
<line x1="621.7" y1="33.84" x2="621.7" y2="43.61" stroke="#1f77b4" stroke-width="1.5" stroke-opacity="0.88"/>
<polygon points="621.7,36.92 623,38.72 621.7,40.52 620.4,38.72" fill="#1f77b4"/>
<line x1="628.1" y1="23.99" x2="628.1" y2="38.64" stroke="#1f77b4" stroke-width="1.5" stroke-opacity="0.88"/>
<polygon points="628.1,29.51 629.4,31.31 628.1,33.11 626.8,31.31" fill="#1f77b4"/>
<line x1="634.5" y1="17.97" x2="634.5" y2="37.5" stroke="#1f77b4" stroke-width="1.5" stroke-opacity="0.88"/>
<polygon points="634.5,25.93 635.8,27.73 634.5,29.53 633.2,27.73" fill="#1f77b4"/>
<line x1="640.9" y1="16.17" x2="640.9" y2="37.34" stroke="#1f77b4" stroke-width="1.5" stroke-opacity="0.88"/>
<polygon points="640.9,24.96 642.2,26.76 640.9,28.56 639.6,26.76" fill="#1f77b4"/>
<line x1="647.3" y1="16.17" x2="647.3" y2="42.22" stroke="#1f77b4" stroke-width="1.5" stroke-opacity="0.88"/>
<polygon points="647.3,27.4 648.6,29.2 647.3,31 646,29.2" fill="#1f77b4"/>
<line x1="653.7" y1="20.33" x2="653.7" y2="30.91" stroke="#1f77b4" stroke-width="1.5" stroke-opacity="0.88"/>
<polygon points="653.7,23.82 655,25.62 653.7,27.42 652.4,25.62" fill="#1f77b4"/>
<line x1="660.1" y1="25.7" x2="660.1" y2="35.47" stroke="#1f77b4" stroke-width="1.5" stroke-opacity="0.88"/>
<polygon points="660.1,28.78 661.4,30.58 660.1,32.38 658.8,30.58" fill="#1f77b4"/>
<line x1="666.5" y1="31.64" x2="666.5" y2="41.41" stroke="#1f77b4" stroke-width="1.5" stroke-opacity="0.88"/>
<polygon points="666.5,34.72 667.8,36.52 666.5,38.32 665.2,36.52" fill="#1f77b4"/>
<line x1="672.9" y1="38.97" x2="672.9" y2="47.92" stroke="#1f77b4" stroke-width="1.5" stroke-opacity="0.88"/>
<polygon points="672.9,41.64 674.2,43.44 672.9,45.24 671.6,43.44" fill="#1f77b4"/>
<line x1="679.3" y1="46.21" x2="679.3" y2="54.35" stroke="#1f77b4" stroke-width="1.5" stroke-opacity="0.88"/>
<polygon points="679.3,48.48 680.6,50.28 679.3,52.08 678,50.28" fill="#1f77b4"/>
<line x1="551.3" y1="62.49" x2="551.3" y2="64.93" stroke="#ff7f0e" stroke-width="1.3" stroke-opacity="0.7"/>
<line x1="583.3" y1="83.25" x2="583.3" y2="86.5" stroke="#ff7f0e" stroke-width="1.3" stroke-opacity="0.7"/>
<line x1="615.3" y1="43.93" x2="615.3" y2="52.07" stroke="#ff7f0e" stroke-width="1.3" stroke-opacity="0.7"/>
<line x1="647.3" y1="17.31" x2="647.3" y2="28.71" stroke="#ff7f0e" stroke-width="1.3" stroke-opacity="0.7"/>
<polygon points="551.3,61.81 552.8,63.71 551.3,65.61 549.8,63.71" fill="#ff7f0e"/>
<polygon points="583.3,82.98 584.8,84.88 583.3,86.78 581.8,84.88" fill="#ff7f0e"/>
<polygon points="615.3,46.1 616.8,48 615.3,49.9 613.8,48" fill="#ff7f0e"/>
<polygon points="647.3,21.11 648.8,23.01 647.3,24.91 645.8,23.01" fill="#ff7f0e"/>
</g>
<rect x="519.3" y="16.5" width="163.3" height="81.4" fill="none" stroke="#111" stroke-width="1.0"/>
<line x1="515.9" y1="93.83" x2="519.3" y2="93.83" stroke="#222" stroke-width="0.9" />
<line x1="515.9" y1="73.48" x2="519.3" y2="73.48" stroke="#222" stroke-width="0.9" />
<line x1="515.9" y1="53.13" x2="519.3" y2="53.13" stroke="#222" stroke-width="0.9" />
<line x1="515.9" y1="32.78" x2="519.3" y2="32.78" stroke="#222" stroke-width="0.9" />
<line x1="519.3" y1="97.9" x2="519.3" y2="101.4" stroke="#222" stroke-width="0.9" />
<line x1="551.3" y1="97.9" x2="551.3" y2="101.4" stroke="#222" stroke-width="0.9" />
<line x1="583.3" y1="97.9" x2="583.3" y2="101.4" stroke="#222" stroke-width="0.9" />
<line x1="615.3" y1="97.9" x2="615.3" y2="101.4" stroke="#222" stroke-width="0.9" />
<line x1="647.3" y1="97.9" x2="647.3" y2="101.4" stroke="#222" stroke-width="0.9" />
<line x1="679.3" y1="97.9" x2="679.3" y2="101.4" stroke="#222" stroke-width="0.9" />
<polyline points="527.9,78.5 524.9,84.1 527.9,89.7" fill="none" stroke="#111" stroke-width="0.7"/>
<text x="528.9" y="86.7" font-family='"Liberation Serif", serif' font-size="12.0" textLength="8.2" lengthAdjust="spacingAndGlyphs" font-style="italic" fill="#1c1c1c" stroke="#fff" stroke-width="0.12" stroke-opacity="0.7">Z</text>
<text x="537.2" y="89.3" font-family='"Liberation Serif", serif' font-size="9.0" textLength="8.6" lengthAdjust="spacingAndGlyphs" fill="#1c1c1c" >10</text>
<polyline points="547,78.5 550.2,84.1 547,89.7" fill="none" stroke="#111" stroke-width="0.7"/>
<clipPath id="cp0101"><rect x="351.5" y="101.4" width="163.9" height="81"/></clipPath>
<g clip-path="url(#cp0101)">
<polygon points="383.65,117.6 390.08,117.6 396.51,117.6 402.94,117.6 409.37,117.6 415.8,117.6 422.23,116.79 428.66,116.79 435.09,116.79 441.52,116.79 447.95,115.98 454.38,115.58 460.81,115.17 467.24,114.9 473.67,114.63 480.1,114.36 486.53,101.4 492.96,101.4 499.39,101.4 505.82,106.26 512.25,111.12 512.25,167.82 505.82,158.1 499.39,148.38 492.96,145.14 486.53,141.9 480.1,148.38 473.67,143.52 467.24,138.66 460.81,133.8 454.38,130.56 447.95,127.32 441.52,127.32 435.09,126.78 428.66,126.24 422.23,125.7 415.8,126.92 409.37,126 402.94,125.09 396.51,124.18 390.08,123.27 383.65,117.6" fill="#dfeff9"/>
<line x1="383.65" y1="101.4" x2="383.65" y2="182.4" stroke="#000" stroke-width="0.9" stroke-opacity="0.05"/>
<line x1="383.65" y1="101.4" x2="383.65" y2="182.4" stroke="#c4c4c4" stroke-width="0.8" stroke-dasharray="1.2 1.5" />
<line x1="415.8" y1="101.4" x2="415.8" y2="182.4" stroke="#000" stroke-width="0.9" stroke-opacity="0.05"/>
<line x1="415.8" y1="101.4" x2="415.8" y2="182.4" stroke="#c4c4c4" stroke-width="0.8" stroke-dasharray="1.2 1.5" />
<line x1="447.95" y1="101.4" x2="447.95" y2="182.4" stroke="#000" stroke-width="0.9" stroke-opacity="0.05"/>
<line x1="447.95" y1="101.4" x2="447.95" y2="182.4" stroke="#c4c4c4" stroke-width="0.8" stroke-dasharray="1.2 1.5" />
<line x1="480.1" y1="101.4" x2="480.1" y2="182.4" stroke="#000" stroke-width="0.9" stroke-opacity="0.05"/>
<line x1="480.1" y1="101.4" x2="480.1" y2="182.4" stroke="#c4c4c4" stroke-width="0.8" stroke-dasharray="1.2 1.5" />
<path d="M351.5,117.6 C352.57,117.6 355.79,117.6 357.93,117.6 C360.07,117.6 362.22,117.6 364.36,117.6 C366.5,117.6 368.65,117.6 370.79,117.6 C372.93,117.6 375.08,117.6 377.22,117.6 C379.36,117.6 381.51,117.6 383.65,117.6 C385.79,117.6 387.94,117.6 390.08,117.6 C392.22,117.6 394.37,117.6 396.51,117.6 C398.65,117.6 400.8,117.6 402.94,117.6 C405.08,117.6 407.23,117.6 409.37,117.6 C411.51,117.6 413.66,117.6 415.8,117.6 C417.94,117.6 420.09,117.6 422.23,117.6 C424.37,117.6 426.52,117.46 428.66,117.6 C430.8,117.73 432.95,118.11 435.09,118.41 C437.23,118.71 439.38,119.06 441.52,119.38 C443.66,119.71 445.81,119.95 447.95,120.35 C450.09,120.76 452.24,121.31 454.38,121.81 C456.52,122.31 458.67,122.7 460.81,123.35 C462.95,124 465.1,124.88 467.24,125.7 C469.38,126.52 471.53,127.47 473.67,128.29 C475.81,129.12 477.96,129.79 480.1,130.64 C482.24,131.49 484.39,132.46 486.53,133.4 C488.67,134.33 490.82,135.3 492.96,136.23 C495.1,137.16 497.25,138.07 499.39,138.98 C501.53,139.9 503.68,140.78 505.82,141.74 C507.96,142.7 511.18,144.24 512.25,144.74" fill="none" stroke="#7f7f7f" stroke-width="1.3" stroke-linejoin="round" />
<polygon points="351.5,115.8 352.8,117.6 351.5,119.4 350.2,117.6" fill="#1f77b4"/>
<polygon points="357.93,115.8 359.23,117.6 357.93,119.4 356.63,117.6" fill="#1f77b4"/>
<polygon points="364.36,115.8 365.66,117.6 364.36,119.4 363.06,117.6" fill="#1f77b4"/>
<polygon points="370.79,115.8 372.09,117.6 370.79,119.4 369.49,117.6" fill="#1f77b4"/>
<polygon points="377.22,115.8 378.52,117.6 377.22,119.4 375.92,117.6" fill="#1f77b4"/>
<polygon points="383.65,115.8 384.95,117.6 383.65,119.4 382.35,117.6" fill="#1f77b4"/>
<line x1="390.08" y1="119.46" x2="390.08" y2="125.46" stroke="#1f77b4" stroke-width="1.5" stroke-opacity="0.88"/>
<polygon points="390.08,120.66 391.38,122.46 390.08,124.26 388.78,122.46" fill="#1f77b4"/>
<line x1="396.51" y1="120.03" x2="396.51" y2="126.51" stroke="#1f77b4" stroke-width="1.5" stroke-opacity="0.88"/>
<polygon points="396.51,121.47 397.81,123.27 396.51,125.07 395.21,123.27" fill="#1f77b4"/>
<line x1="402.94" y1="120.68" x2="402.94" y2="127.48" stroke="#1f77b4" stroke-width="1.5" stroke-opacity="0.88"/>
<polygon points="402.94,122.28 404.24,124.08 402.94,125.88 401.64,124.08" fill="#1f77b4"/>
<line x1="409.37" y1="121.65" x2="409.37" y2="128.94" stroke="#1f77b4" stroke-width="1.5" stroke-opacity="0.88"/>
<polygon points="409.37,123.5 410.67,125.3 409.37,127.09 408.07,125.3" fill="#1f77b4"/>
<line x1="415.8" y1="122.86" x2="415.8" y2="130.97" stroke="#1f77b4" stroke-width="1.5" stroke-opacity="0.88"/>
<polygon points="415.8,125.12 417.1,126.92 415.8,128.72 414.5,126.92" fill="#1f77b4"/>
<line x1="422.23" y1="118.41" x2="422.23" y2="124.89" stroke="#1f77b4" stroke-width="1.5" stroke-opacity="0.88"/>
<polygon points="422.23,119.85 423.53,121.65 422.23,123.45 420.93,121.65" fill="#1f77b4"/>
<line x1="428.66" y1="119.22" x2="428.66" y2="125.7" stroke="#1f77b4" stroke-width="1.5" stroke-opacity="0.88"/>
<polygon points="428.66,120.66 429.96,122.46 428.66,124.26 427.36,122.46" fill="#1f77b4"/>
<line x1="435.09" y1="119.62" x2="435.09" y2="126.92" stroke="#1f77b4" stroke-width="1.5" stroke-opacity="0.88"/>
<polygon points="435.09,121.47 436.39,123.27 435.09,125.07 433.79,123.27" fill="#1f77b4"/>
<line x1="441.52" y1="116.87" x2="441.52" y2="129.83" stroke="#1f77b4" stroke-width="1.5" stroke-opacity="0.88"/>
<polygon points="441.52,121.55 442.82,123.35 441.52,125.15 440.22,123.35" fill="#1f77b4"/>
<line x1="447.95" y1="115.98" x2="447.95" y2="130.56" stroke="#1f77b4" stroke-width="1.5" stroke-opacity="0.88"/>
<polygon points="447.95,121.47 449.25,123.27 447.95,125.07 446.65,123.27" fill="#1f77b4"/>
<line x1="454.38" y1="115.9" x2="454.38" y2="134.69" stroke="#1f77b4" stroke-width="1.5" stroke-opacity="0.88"/>
<polygon points="454.38,123.5 455.68,125.3 454.38,127.09 453.08,125.3" fill="#1f77b4"/>
<line x1="460.81" y1="116.47" x2="460.81" y2="140.12" stroke="#1f77b4" stroke-width="1.5" stroke-opacity="0.88"/>
<polygon points="460.81,126.49 462.11,128.29 460.81,130.09 459.51,128.29" fill="#1f77b4"/>
<line x1="467.24" y1="115.74" x2="467.24" y2="144.9" stroke="#1f77b4" stroke-width="1.5" stroke-opacity="0.88"/>
<polygon points="467.24,128.52 468.54,130.32 467.24,132.12 465.94,130.32" fill="#1f77b4"/>
<line x1="473.67" y1="115.98" x2="473.67" y2="148.38" stroke="#1f77b4" stroke-width="1.5" stroke-opacity="0.88"/>
<polygon points="473.67,130.38 474.97,132.18 473.67,133.98 472.37,132.18" fill="#1f77b4"/>
<line x1="480.1" y1="115.57" x2="480.1" y2="152.84" stroke="#1f77b4" stroke-width="1.5" stroke-opacity="0.88"/>
<polygon points="480.1,132.4 481.4,134.2 480.1,136 478.8,134.2" fill="#1f77b4"/>
<line x1="486.53" y1="91.68" x2="486.53" y2="135.42" stroke="#1f77b4" stroke-width="1.5" stroke-opacity="0.88"/>
<polygon points="486.53,111.75 487.83,113.55 486.53,115.35 485.23,113.55" fill="#1f77b4"/>
<line x1="492.96" y1="96.7" x2="492.96" y2="142.06" stroke="#1f77b4" stroke-width="1.5" stroke-opacity="0.88"/>
<polygon points="492.96,117.58 494.26,119.38 492.96,121.18 491.66,119.38" fill="#1f77b4"/>
<line x1="499.39" y1="102.86" x2="499.39" y2="149.84" stroke="#1f77b4" stroke-width="1.5" stroke-opacity="0.88"/>
<polygon points="499.39,124.55 500.69,126.35 499.39,128.15 498.09,126.35" fill="#1f77b4"/>
<line x1="505.82" y1="108.53" x2="505.82" y2="158.75" stroke="#1f77b4" stroke-width="1.5" stroke-opacity="0.88"/>
<polygon points="505.82,131.84 507.12,133.64 505.82,135.44 504.52,133.64" fill="#1f77b4"/>
<line x1="512.25" y1="115.58" x2="512.25" y2="167.42" stroke="#1f77b4" stroke-width="1.5" stroke-opacity="0.88"/>
<polygon points="512.25,139.69 513.55,141.5 512.25,143.3 510.95,141.5" fill="#1f77b4"/>
<line x1="383.65" y1="119.62" x2="383.65" y2="122.06" stroke="#ff7f0e" stroke-width="1.3" stroke-opacity="0.7"/>
<line x1="415.8" y1="117.6" x2="415.8" y2="122.46" stroke="#ff7f0e" stroke-width="1.3" stroke-opacity="0.7"/>
<line x1="447.95" y1="116.3" x2="447.95" y2="130.88" stroke="#ff7f0e" stroke-width="1.3" stroke-opacity="0.7"/>
<line x1="480.1" y1="92.9" x2="480.1" y2="125.3" stroke="#ff7f0e" stroke-width="1.3" stroke-opacity="0.7"/>
<polygon points="383.65,118.94 385.15,120.84 383.65,122.74 382.15,120.84" fill="#ff7f0e"/>
<polygon points="415.8,118.13 417.3,120.03 415.8,121.93 414.3,120.03" fill="#ff7f0e"/>
<polygon points="447.95,121.69 449.45,123.59 447.95,125.49 446.45,123.59" fill="#ff7f0e"/>
<polygon points="480.1,107.19 481.6,109.09 480.1,111 478.6,109.09" fill="#ff7f0e"/>
</g>
<rect x="351.5" y="101.4" width="163.9" height="81" fill="none" stroke="#111" stroke-width="1.0"/>
<line x1="348.1" y1="178.35" x2="351.5" y2="178.35" stroke="#222" stroke-width="0.9" />
<line x1="348.1" y1="158.1" x2="351.5" y2="158.1" stroke="#222" stroke-width="0.9" />
<line x1="348.1" y1="137.85" x2="351.5" y2="137.85" stroke="#222" stroke-width="0.9" />
<line x1="348.1" y1="117.6" x2="351.5" y2="117.6" stroke="#222" stroke-width="0.9" />
<text x="346" y="121.35" font-family='"Liberation Sans", sans-serif' font-size="10.8" text-anchor="end" textLength="14.6" lengthAdjust="spacingAndGlyphs" fill="#000" stroke="#000" stroke-width="0.22" stroke-opacity="0.6">1.0</text>
<text x="346" y="161.85" font-family='"Liberation Sans", sans-serif' font-size="10.8" text-anchor="end" textLength="15.6" lengthAdjust="spacingAndGlyphs" fill="#000" stroke="#000" stroke-width="0.22" stroke-opacity="0.6">0.5</text>
<line x1="351.5" y1="182.4" x2="351.5" y2="185.9" stroke="#222" stroke-width="0.9" />
<text x="351.5" y="196.6" font-family='"Liberation Sans", sans-serif' font-size="10.8" text-anchor="middle" textLength="6" lengthAdjust="spacingAndGlyphs" fill="#000" stroke="#000" stroke-width="0.22" stroke-opacity="0.6">0</text>
<line x1="383.65" y1="182.4" x2="383.65" y2="185.9" stroke="#222" stroke-width="0.9" />
<text x="383.65" y="196.6" font-family='"Liberation Sans", sans-serif' font-size="10.8" text-anchor="middle" textLength="6" lengthAdjust="spacingAndGlyphs" fill="#000" stroke="#000" stroke-width="0.22" stroke-opacity="0.6">5</text>
<line x1="415.8" y1="182.4" x2="415.8" y2="185.9" stroke="#222" stroke-width="0.9" />
<text x="415.8" y="196.6" font-family='"Liberation Sans", sans-serif' font-size="10.8" text-anchor="middle" textLength="11.9" lengthAdjust="spacingAndGlyphs" fill="#000" stroke="#000" stroke-width="0.22" stroke-opacity="0.6">10</text>
<line x1="447.95" y1="182.4" x2="447.95" y2="185.9" stroke="#222" stroke-width="0.9" />
<text x="447.95" y="196.6" font-family='"Liberation Sans", sans-serif' font-size="10.8" text-anchor="middle" textLength="11.9" lengthAdjust="spacingAndGlyphs" fill="#000" stroke="#000" stroke-width="0.22" stroke-opacity="0.6">15</text>
<line x1="480.1" y1="182.4" x2="480.1" y2="185.9" stroke="#222" stroke-width="0.9" />
<text x="480.1" y="196.6" font-family='"Liberation Sans", sans-serif' font-size="10.8" text-anchor="middle" textLength="11.9" lengthAdjust="spacingAndGlyphs" fill="#000" stroke="#000" stroke-width="0.22" stroke-opacity="0.6">20</text>
<line x1="512.25" y1="182.4" x2="512.25" y2="185.9" stroke="#222" stroke-width="0.9" />
<polyline points="360.1,163 357.1,168.6 360.1,174.2" fill="none" stroke="#111" stroke-width="0.7"/>
<text x="361.1" y="171.2" font-family='"Liberation Serif", serif' font-size="12.0" textLength="8.2" lengthAdjust="spacingAndGlyphs" font-style="italic" fill="#1c1c1c" stroke="#fff" stroke-width="0.12" stroke-opacity="0.7">Z</text>
<text x="369.4" y="173.8" font-family='"Liberation Serif", serif' font-size="9.0" textLength="8.6" lengthAdjust="spacingAndGlyphs" fill="#1c1c1c" >15</text>
<polyline points="379.2,163 382.4,168.6 379.2,174.2" fill="none" stroke="#111" stroke-width="0.7"/>
<clipPath id="cp1101"><rect x="519.3" y="101.4" width="163.3" height="81"/></clipPath>
<g clip-path="url(#cp1101)">
<polygon points="551.3,144.33 557.7,150.46 564.1,156.59 570.5,162.72 576.9,159.68 583.3,156.64 589.7,151.09 596.1,145.55 602.5,133.6 608.9,121.65 615.3,112.74 621.7,110.72 628.1,108.69 634.5,107.88 640.9,105.45 647.3,102.21 653.7,102.21 660.1,103.83 666.5,107.88 672.9,112.34 679.3,116.79 679.3,146.27 672.9,144.09 666.5,141.9 660.1,140.28 653.7,139.47 647.3,139.06 640.9,135.42 634.5,134.61 628.1,136.23 621.7,143.12 615.3,150 608.9,153.24 602.5,160.12 596.1,167.01 589.7,171.67 583.3,176.32 576.9,175.92 570.5,175.52 564.1,167.28 557.7,159.05 551.3,150.81" fill="#dfeff9"/>
<line x1="551.3" y1="101.4" x2="551.3" y2="182.4" stroke="#000" stroke-width="0.9" stroke-opacity="0.05"/>
<line x1="551.3" y1="101.4" x2="551.3" y2="182.4" stroke="#c4c4c4" stroke-width="0.8" stroke-dasharray="1.2 1.5" />
<line x1="583.3" y1="101.4" x2="583.3" y2="182.4" stroke="#000" stroke-width="0.9" stroke-opacity="0.05"/>
<line x1="583.3" y1="101.4" x2="583.3" y2="182.4" stroke="#c4c4c4" stroke-width="0.8" stroke-dasharray="1.2 1.5" />
<line x1="615.3" y1="101.4" x2="615.3" y2="182.4" stroke="#000" stroke-width="0.9" stroke-opacity="0.05"/>
<line x1="615.3" y1="101.4" x2="615.3" y2="182.4" stroke="#c4c4c4" stroke-width="0.8" stroke-dasharray="1.2 1.5" />
<line x1="647.3" y1="101.4" x2="647.3" y2="182.4" stroke="#000" stroke-width="0.9" stroke-opacity="0.05"/>
<line x1="647.3" y1="101.4" x2="647.3" y2="182.4" stroke="#c4c4c4" stroke-width="0.8" stroke-dasharray="1.2 1.5" />
<path d="M519.3,117.6 C520.37,117.94 523.57,118.68 525.7,119.62 C527.83,120.57 529.97,121.45 532.1,123.27 C534.23,125.09 536.37,127.77 538.5,130.56 C540.63,133.35 542.77,137.32 544.9,140.04 C547.03,142.75 549.17,144.07 551.3,146.84 C553.43,149.61 555.57,153.75 557.7,156.64 C559.83,159.53 561.97,162.16 564.1,164.18 C566.23,166.19 568.37,167.5 570.5,168.71 C572.63,169.93 574.77,171.07 576.9,171.47 C579.03,171.86 581.17,171.63 583.3,171.06 C585.43,170.49 587.57,169.45 589.7,168.06 C591.83,166.67 593.97,164.74 596.1,162.72 C598.23,160.69 600.37,158.44 602.5,155.91 C604.63,153.39 606.77,150.65 608.9,147.57 C611.03,144.49 613.17,140.55 615.3,137.44 C617.43,134.34 619.57,131.44 621.7,128.94 C623.83,126.44 625.97,124.15 628.1,122.46 C630.23,120.77 632.37,119.62 634.5,118.81 C636.63,118 638.77,117.72 640.9,117.6 C643.03,117.48 645.17,117.64 647.3,118.09 C649.43,118.53 651.57,119.31 653.7,120.27 C655.83,121.23 657.97,122.69 660.1,123.84 C662.23,124.98 664.37,126.02 666.5,127.16 C668.63,128.29 670.77,129.49 672.9,130.64 C675.03,131.79 678.23,133.48 679.3,134.04" fill="none" stroke="#7f7f7f" stroke-width="1.3" stroke-linejoin="round" />
<polygon points="519.3,115.8 520.6,117.6 519.3,119.4 518,117.6" fill="#1f77b4"/>
<line x1="525.7" y1="119.22" x2="525.7" y2="120.03" stroke="#1f77b4" stroke-width="1.5" stroke-opacity="0.88"/>
<polygon points="525.7,117.83 527,119.62 525.7,121.42 524.4,119.62" fill="#1f77b4"/>
<line x1="532.1" y1="123.59" x2="532.1" y2="124.57" stroke="#1f77b4" stroke-width="1.5" stroke-opacity="0.88"/>
<polygon points="532.1,122.28 533.4,124.08 532.1,125.88 530.8,124.08" fill="#1f77b4"/>
<line x1="538.5" y1="129.91" x2="538.5" y2="131.21" stroke="#1f77b4" stroke-width="1.5" stroke-opacity="0.88"/>
<polygon points="538.5,128.76 539.8,130.56 538.5,132.36 537.2,130.56" fill="#1f77b4"/>
<line x1="544.9" y1="139.47" x2="544.9" y2="141.09" stroke="#1f77b4" stroke-width="1.5" stroke-opacity="0.88"/>
<polygon points="544.9,138.48 546.2,140.28 544.9,142.08 543.6,140.28" fill="#1f77b4"/>
<line x1="551.3" y1="142.71" x2="551.3" y2="152.43" stroke="#1f77b4" stroke-width="1.5" stroke-opacity="0.88"/>
<polygon points="551.3,145.77 552.6,147.57 551.3,149.37 550,147.57" fill="#1f77b4"/>
<line x1="557.7" y1="151.94" x2="557.7" y2="161.34" stroke="#1f77b4" stroke-width="1.5" stroke-opacity="0.88"/>
<polygon points="557.7,154.84 559,156.64 557.7,158.44 556.4,156.64" fill="#1f77b4"/>
<line x1="564.1" y1="158.42" x2="564.1" y2="168.63" stroke="#1f77b4" stroke-width="1.5" stroke-opacity="0.88"/>
<polygon points="564.1,161.73 565.4,163.53 564.1,165.33 562.8,163.53" fill="#1f77b4"/>
<line x1="570.5" y1="163.2" x2="570.5" y2="172.92" stroke="#1f77b4" stroke-width="1.5" stroke-opacity="0.88"/>
<polygon points="570.5,166.26 571.8,168.06 570.5,169.86 569.2,168.06" fill="#1f77b4"/>
<line x1="576.9" y1="162.8" x2="576.9" y2="173.33" stroke="#1f77b4" stroke-width="1.5" stroke-opacity="0.88"/>
<polygon points="576.9,166.26 578.2,168.06 576.9,169.86 575.6,168.06" fill="#1f77b4"/>
<line x1="583.3" y1="155.59" x2="583.3" y2="176" stroke="#1f77b4" stroke-width="1.5" stroke-opacity="0.88"/>
<polygon points="583.3,164 584.6,165.8 583.3,167.6 582,165.8" fill="#1f77b4"/>
<line x1="589.7" y1="153" x2="589.7" y2="172.44" stroke="#1f77b4" stroke-width="1.5" stroke-opacity="0.88"/>
<polygon points="589.7,160.92 591,162.72 589.7,164.52 588.4,162.72" fill="#1f77b4"/>
<line x1="596.1" y1="145.79" x2="596.1" y2="165.23" stroke="#1f77b4" stroke-width="1.5" stroke-opacity="0.88"/>
<polygon points="596.1,153.71 597.4,155.51 596.1,157.31 594.8,155.51" fill="#1f77b4"/>
<line x1="602.5" y1="137.04" x2="602.5" y2="157.45" stroke="#1f77b4" stroke-width="1.5" stroke-opacity="0.88"/>
<polygon points="602.5,145.45 603.8,147.25 602.5,149.05 601.2,147.25" fill="#1f77b4"/>
<line x1="608.9" y1="125.38" x2="608.9" y2="146.11" stroke="#1f77b4" stroke-width="1.5" stroke-opacity="0.88"/>
<polygon points="608.9,133.94 610.2,135.74 608.9,137.54 607.6,135.74" fill="#1f77b4"/>
<line x1="615.3" y1="113.06" x2="615.3" y2="149.19" stroke="#1f77b4" stroke-width="1.5" stroke-opacity="0.88"/>
<polygon points="615.3,123.5 616.6,125.3 615.3,127.09 614,125.3" fill="#1f77b4"/>
<line x1="621.7" y1="122.46" x2="621.7" y2="141.9" stroke="#1f77b4" stroke-width="1.5" stroke-opacity="0.88"/>
<polygon points="621.7,130.38 623,132.18 621.7,133.98 620.4,132.18" fill="#1f77b4"/>
<line x1="628.1" y1="116.3" x2="628.1" y2="135.74" stroke="#1f77b4" stroke-width="1.5" stroke-opacity="0.88"/>
<polygon points="628.1,124.22 629.4,126.02 628.1,127.82 626.8,126.02" fill="#1f77b4"/>
<line x1="634.5" y1="111.93" x2="634.5" y2="132.99" stroke="#1f77b4" stroke-width="1.5" stroke-opacity="0.88"/>
<polygon points="634.5,120.66 635.8,122.46 634.5,124.26 633.2,122.46" fill="#1f77b4"/>
<line x1="640.9" y1="108.45" x2="640.9" y2="131.61" stroke="#1f77b4" stroke-width="1.5" stroke-opacity="0.88"/>
<polygon points="640.9,118.23 642.2,120.03 640.9,121.83 639.6,120.03" fill="#1f77b4"/>
<line x1="647.3" y1="101.4" x2="647.3" y2="138.66" stroke="#1f77b4" stroke-width="1.5" stroke-opacity="0.88"/>
<polygon points="647.3,118.23 648.6,120.03 647.3,121.83 646,120.03" fill="#1f77b4"/>
<line x1="653.7" y1="101.4" x2="653.7" y2="138.66" stroke="#1f77b4" stroke-width="1.5" stroke-opacity="0.88"/>
<polygon points="653.7,118.23 655,120.03 653.7,121.83 652.4,120.03" fill="#1f77b4"/>
<line x1="660.1" y1="103.34" x2="660.1" y2="140.12" stroke="#1f77b4" stroke-width="1.5" stroke-opacity="0.88"/>
<polygon points="660.1,119.93 661.4,121.73 660.1,123.53 658.8,121.73" fill="#1f77b4"/>
<line x1="666.5" y1="107.88" x2="666.5" y2="141.9" stroke="#1f77b4" stroke-width="1.5" stroke-opacity="0.88"/>
<polygon points="666.5,123.09 667.8,124.89 666.5,126.69 665.2,124.89" fill="#1f77b4"/>
<line x1="672.9" y1="113.31" x2="672.9" y2="142.95" stroke="#1f77b4" stroke-width="1.5" stroke-opacity="0.88"/>
<polygon points="672.9,126.33 674.2,128.13 672.9,129.93 671.6,128.13" fill="#1f77b4"/>
<line x1="679.3" y1="118.09" x2="679.3" y2="144.01" stroke="#1f77b4" stroke-width="1.5" stroke-opacity="0.88"/>
<polygon points="679.3,129.25 680.6,131.05 679.3,132.85 678,131.05" fill="#1f77b4"/>
</g>
<rect x="519.3" y="101.4" width="163.3" height="81" fill="none" stroke="#111" stroke-width="1.0"/>
<line x1="515.9" y1="178.35" x2="519.3" y2="178.35" stroke="#222" stroke-width="0.9" />
<line x1="515.9" y1="158.1" x2="519.3" y2="158.1" stroke="#222" stroke-width="0.9" />
<line x1="515.9" y1="137.85" x2="519.3" y2="137.85" stroke="#222" stroke-width="0.9" />
<line x1="515.9" y1="117.6" x2="519.3" y2="117.6" stroke="#222" stroke-width="0.9" />
<line x1="519.3" y1="182.4" x2="519.3" y2="185.9" stroke="#222" stroke-width="0.9" />
<text x="519.3" y="196.6" font-family='"Liberation Sans", sans-serif' font-size="10.8" text-anchor="middle" textLength="6" lengthAdjust="spacingAndGlyphs" fill="#000" stroke="#000" stroke-width="0.22" stroke-opacity="0.6">0</text>
<line x1="551.3" y1="182.4" x2="551.3" y2="185.9" stroke="#222" stroke-width="0.9" />
<text x="551.3" y="196.6" font-family='"Liberation Sans", sans-serif' font-size="10.8" text-anchor="middle" textLength="6" lengthAdjust="spacingAndGlyphs" fill="#000" stroke="#000" stroke-width="0.22" stroke-opacity="0.6">5</text>
<line x1="583.3" y1="182.4" x2="583.3" y2="185.9" stroke="#222" stroke-width="0.9" />
<text x="583.3" y="196.6" font-family='"Liberation Sans", sans-serif' font-size="10.8" text-anchor="middle" textLength="11.9" lengthAdjust="spacingAndGlyphs" fill="#000" stroke="#000" stroke-width="0.22" stroke-opacity="0.6">10</text>
<line x1="615.3" y1="182.4" x2="615.3" y2="185.9" stroke="#222" stroke-width="0.9" />
<text x="615.3" y="196.6" font-family='"Liberation Sans", sans-serif' font-size="10.8" text-anchor="middle" textLength="11.9" lengthAdjust="spacingAndGlyphs" fill="#000" stroke="#000" stroke-width="0.22" stroke-opacity="0.6">15</text>
<line x1="647.3" y1="182.4" x2="647.3" y2="185.9" stroke="#222" stroke-width="0.9" />
<text x="647.3" y="196.6" font-family='"Liberation Sans", sans-serif' font-size="10.8" text-anchor="middle" textLength="11.9" lengthAdjust="spacingAndGlyphs" fill="#000" stroke="#000" stroke-width="0.22" stroke-opacity="0.6">20</text>
<line x1="679.3" y1="182.4" x2="679.3" y2="185.9" stroke="#222" stroke-width="0.9" />
<text x="679.3" y="196.6" font-family='"Liberation Sans", sans-serif' font-size="10.8" text-anchor="middle" textLength="11.9" lengthAdjust="spacingAndGlyphs" fill="#000" stroke="#000" stroke-width="0.22" stroke-opacity="0.6">25</text>
<polyline points="527.9,163 524.9,168.6 527.9,174.2" fill="none" stroke="#111" stroke-width="0.7"/>
<text x="528.9" y="171.2" font-family='"Liberation Serif", serif' font-size="12.0" textLength="8.2" lengthAdjust="spacingAndGlyphs" font-style="italic" fill="#1c1c1c" stroke="#fff" stroke-width="0.12" stroke-opacity="0.7">Z</text>
<text x="537.2" y="173.8" font-family='"Liberation Serif", serif' font-size="9.0" textLength="8.6" lengthAdjust="spacingAndGlyphs" fill="#1c1c1c" >20</text>
<polyline points="547,163 550.2,168.6 547,174.2" fill="none" stroke="#111" stroke-width="0.7"/>
<clipPath id="cp0227"><rect x="351.5" y="227.6" width="163.9" height="81.6"/></clipPath>
<g clip-path="url(#cp0227)">
<polygon points="383.65,249.85 390.08,252.82 396.51,254.68 402.94,256.53 409.37,257.27 415.8,258.01 422.23,266.17 428.66,265.99 435.09,265.8 441.52,263.95 447.95,262.09 454.38,265.43 460.81,263.39 467.24,261.35 473.67,259.31 480.1,257.27 486.53,258.76 492.96,256.72 499.39,254.68 505.82,252.64 512.25,250.6 512.25,262.47 505.82,262.65 499.39,262.84 492.96,263.02 486.53,263.21 480.1,267.66 473.67,267.94 467.24,268.21 460.81,268.49 454.38,268.77 447.95,272.85 441.52,272.11 435.09,271.37 428.66,270.63 422.23,269.88 415.8,268.4 409.37,265.62 402.94,262.84 396.51,259.31 390.08,255.79 383.65,250.6" fill="#dfeff9"/>
<line x1="383.65" y1="227.6" x2="383.65" y2="309.2" stroke="#000" stroke-width="0.9" stroke-opacity="0.05"/>
<line x1="383.65" y1="227.6" x2="383.65" y2="309.2" stroke="#c4c4c4" stroke-width="0.8" stroke-dasharray="1.2 1.5" />
<line x1="415.8" y1="227.6" x2="415.8" y2="309.2" stroke="#000" stroke-width="0.9" stroke-opacity="0.05"/>
<line x1="415.8" y1="227.6" x2="415.8" y2="309.2" stroke="#c4c4c4" stroke-width="0.8" stroke-dasharray="1.2 1.5" />
<line x1="447.95" y1="227.6" x2="447.95" y2="309.2" stroke="#000" stroke-width="0.9" stroke-opacity="0.05"/>
<line x1="447.95" y1="227.6" x2="447.95" y2="309.2" stroke="#c4c4c4" stroke-width="0.8" stroke-dasharray="1.2 1.5" />
<line x1="480.1" y1="227.6" x2="480.1" y2="309.2" stroke="#000" stroke-width="0.9" stroke-opacity="0.05"/>
<line x1="480.1" y1="227.6" x2="480.1" y2="309.2" stroke="#c4c4c4" stroke-width="0.8" stroke-dasharray="1.2 1.5" />
<path d="M351.5,235.02 C352.57,235.14 355.79,235.33 357.93,235.76 C360.07,236.19 362.22,236.75 364.36,237.61 C366.5,238.48 368.65,239.72 370.79,240.95 C372.93,242.19 375.08,243.52 377.22,245.03 C379.36,246.54 381.51,248.33 383.65,250 C385.79,251.67 387.94,253.51 390.08,255.05 C392.22,256.58 394.37,257.92 396.51,259.2 C398.65,260.48 400.8,261.62 402.94,262.73 C405.08,263.83 407.23,264.95 409.37,265.8 C411.51,266.66 413.66,267.13 415.8,267.84 C417.94,268.56 420.09,269.66 422.23,270.11 C424.37,270.55 426.52,270.42 428.66,270.51 C430.8,270.61 432.95,270.77 435.09,270.7 C437.23,270.63 439.38,270.35 441.52,270.11 C443.66,269.86 445.81,269.53 447.95,269.22 C450.09,268.9 452.24,268.57 454.38,268.21 C456.52,267.86 458.67,267.5 460.81,267.1 C462.95,266.7 465.1,266.27 467.24,265.8 C469.38,265.34 471.53,264.81 473.67,264.32 C475.81,263.83 477.96,263.36 480.1,262.84 C482.24,262.31 484.39,261.72 486.53,261.17 C488.67,260.61 490.82,260.05 492.96,259.5 C495.1,258.94 497.25,258.39 499.39,257.83 C501.53,257.27 503.68,256.73 505.82,256.16 C507.96,255.59 511.18,254.71 512.25,254.42" fill="none" stroke="#7f7f7f" stroke-width="1.3" stroke-linejoin="round" />
<line x1="351.5" y1="234.83" x2="351.5" y2="235.2" stroke="#1f77b4" stroke-width="1.5" stroke-opacity="0.88"/>
<polygon points="351.5,233.22 352.8,235.02 351.5,236.82 350.2,235.02" fill="#1f77b4"/>
<line x1="357.93" y1="235.57" x2="357.93" y2="235.95" stroke="#1f77b4" stroke-width="1.5" stroke-opacity="0.88"/>
<polygon points="357.93,233.96 359.23,235.76 357.93,237.56 356.63,235.76" fill="#1f77b4"/>
<line x1="364.36" y1="237.58" x2="364.36" y2="237.95" stroke="#1f77b4" stroke-width="1.5" stroke-opacity="0.88"/>
<polygon points="364.36,235.96 365.66,237.76 364.36,239.56 363.06,237.76" fill="#1f77b4"/>
<line x1="370.79" y1="240.8" x2="370.79" y2="241.18" stroke="#1f77b4" stroke-width="1.5" stroke-opacity="0.88"/>
<polygon points="370.79,239.19 372.09,240.99 370.79,242.79 369.49,240.99" fill="#1f77b4"/>
<line x1="377.22" y1="245.03" x2="377.22" y2="245.4" stroke="#1f77b4" stroke-width="1.5" stroke-opacity="0.88"/>
<polygon points="377.22,243.42 378.52,245.22 377.22,247.02 375.92,245.22" fill="#1f77b4"/>
<line x1="383.65" y1="250" x2="383.65" y2="250.37" stroke="#1f77b4" stroke-width="1.5" stroke-opacity="0.88"/>
<polygon points="383.65,248.39 384.95,250.19 383.65,251.99 382.35,250.19" fill="#1f77b4"/>
<line x1="390.08" y1="252.53" x2="390.08" y2="256.09" stroke="#1f77b4" stroke-width="1.5" stroke-opacity="0.88"/>
<polygon points="390.08,252.51 391.38,254.31 390.08,256.11 388.78,254.31" fill="#1f77b4"/>
<line x1="396.51" y1="254.79" x2="396.51" y2="259.76" stroke="#1f77b4" stroke-width="1.5" stroke-opacity="0.88"/>
<polygon points="396.51,255.47 397.81,257.27 396.51,259.07 395.21,257.27" fill="#1f77b4"/>
<line x1="402.94" y1="256.68" x2="402.94" y2="263.06" stroke="#1f77b4" stroke-width="1.5" stroke-opacity="0.88"/>
<polygon points="402.94,258.07 404.24,259.87 402.94,261.67 401.64,259.87" fill="#1f77b4"/>
<line x1="409.37" y1="258.2" x2="409.37" y2="265.99" stroke="#1f77b4" stroke-width="1.5" stroke-opacity="0.88"/>
<polygon points="409.37,260.29 410.67,262.09 409.37,263.89 408.07,262.09" fill="#1f77b4"/>
<line x1="415.8" y1="259.87" x2="415.8" y2="267.29" stroke="#1f77b4" stroke-width="1.5" stroke-opacity="0.88"/>
<polygon points="415.8,261.78 417.1,263.58 415.8,265.38 414.5,263.58" fill="#1f77b4"/>
<line x1="422.23" y1="267.1" x2="422.23" y2="269.33" stroke="#1f77b4" stroke-width="1.5" stroke-opacity="0.88"/>
<polygon points="422.23,266.41 423.53,268.21 422.23,270.01 420.93,268.21" fill="#1f77b4"/>
<line x1="428.66" y1="266.84" x2="428.66" y2="270.55" stroke="#1f77b4" stroke-width="1.5" stroke-opacity="0.88"/>
<polygon points="428.66,266.9 429.96,268.7 428.66,270.5 427.36,268.7" fill="#1f77b4"/>
<line x1="435.09" y1="266.1" x2="435.09" y2="271.66" stroke="#1f77b4" stroke-width="1.5" stroke-opacity="0.88"/>
<polygon points="435.09,267.08 436.39,268.88 435.09,270.68 433.79,268.88" fill="#1f77b4"/>
<line x1="441.52" y1="264.51" x2="441.52" y2="272.67" stroke="#1f77b4" stroke-width="1.5" stroke-opacity="0.88"/>
<polygon points="441.52,266.79 442.82,268.59 441.52,270.39 440.22,268.59" fill="#1f77b4"/>
<line x1="447.95" y1="262.47" x2="447.95" y2="272.11" stroke="#1f77b4" stroke-width="1.5" stroke-opacity="0.88"/>
<polygon points="447.95,265.49 449.25,267.29 447.95,269.09 446.65,267.29" fill="#1f77b4"/>
<line x1="454.38" y1="265.66" x2="454.38" y2="268.92" stroke="#1f77b4" stroke-width="1.5" stroke-opacity="0.88"/>
<polygon points="454.38,265.49 455.68,267.29 454.38,269.09 453.08,267.29" fill="#1f77b4"/>
<line x1="460.81" y1="263.84" x2="460.81" y2="268.73" stroke="#1f77b4" stroke-width="1.5" stroke-opacity="0.88"/>
<polygon points="460.81,264.49 462.11,266.29 460.81,268.09 459.51,266.29" fill="#1f77b4"/>
<line x1="467.24" y1="261.35" x2="467.24" y2="268.77" stroke="#1f77b4" stroke-width="1.5" stroke-opacity="0.88"/>
<polygon points="467.24,263.26 468.54,265.06 467.24,266.86 465.94,265.06" fill="#1f77b4"/>
<line x1="473.67" y1="259.13" x2="473.67" y2="268.03" stroke="#1f77b4" stroke-width="1.5" stroke-opacity="0.88"/>
<polygon points="473.67,261.78 474.97,263.58 473.67,265.38 472.37,263.58" fill="#1f77b4"/>
<line x1="480.1" y1="256.86" x2="480.1" y2="268.36" stroke="#1f77b4" stroke-width="1.5" stroke-opacity="0.88"/>
<polygon points="480.1,260.81 481.4,262.61 480.1,264.41 478.8,262.61" fill="#1f77b4"/>
<line x1="486.53" y1="259.09" x2="486.53" y2="263.17" stroke="#1f77b4" stroke-width="1.5" stroke-opacity="0.88"/>
<polygon points="486.53,259.33 487.83,261.13 486.53,262.93 485.23,261.13" fill="#1f77b4"/>
<line x1="492.96" y1="256.83" x2="492.96" y2="262.98" stroke="#1f77b4" stroke-width="1.5" stroke-opacity="0.88"/>
<polygon points="492.96,258.11 494.26,259.91 492.96,261.71 491.66,259.91" fill="#1f77b4"/>
<line x1="499.39" y1="254.79" x2="499.39" y2="262.21" stroke="#1f77b4" stroke-width="1.5" stroke-opacity="0.88"/>
<polygon points="499.39,256.7 500.69,258.5 499.39,260.3 498.09,258.5" fill="#1f77b4"/>
<line x1="505.82" y1="253.04" x2="505.82" y2="261.95" stroke="#1f77b4" stroke-width="1.5" stroke-opacity="0.88"/>
<polygon points="505.82,255.7 507.12,257.5 505.82,259.3 504.52,257.5" fill="#1f77b4"/>
<line x1="512.25" y1="250.63" x2="512.25" y2="262.13" stroke="#1f77b4" stroke-width="1.5" stroke-opacity="0.88"/>
<polygon points="512.25,254.58 513.55,256.38 512.25,258.18 510.95,256.38" fill="#1f77b4"/>
<line x1="383.65" y1="249.93" x2="383.65" y2="251.41" stroke="#ff7f0e" stroke-width="1.3" stroke-opacity="0.7"/>
<line x1="415.8" y1="265.17" x2="415.8" y2="267.4" stroke="#ff7f0e" stroke-width="1.3" stroke-opacity="0.7"/>
<line x1="447.95" y1="267.18" x2="447.95" y2="269.4" stroke="#ff7f0e" stroke-width="1.3" stroke-opacity="0.7"/>
<line x1="480.1" y1="261.54" x2="480.1" y2="264.51" stroke="#ff7f0e" stroke-width="1.3" stroke-opacity="0.7"/>
<polygon points="383.65,248.77 385.15,250.67 383.65,252.57 382.15,250.67" fill="#ff7f0e"/>
<polygon points="415.8,264.39 417.3,266.29 415.8,268.19 414.3,266.29" fill="#ff7f0e"/>
<polygon points="447.95,266.39 449.45,268.29 447.95,270.19 446.45,268.29" fill="#ff7f0e"/>
<polygon points="480.1,261.12 481.6,263.02 480.1,264.92 478.6,263.02" fill="#ff7f0e"/>
</g>
<rect x="351.5" y="227.6" width="163.9" height="81.6" fill="none" stroke="#111" stroke-width="1.0"/>
<line x1="348.1" y1="309.2" x2="351.5" y2="309.2" stroke="#222" stroke-width="0.9" />
<line x1="348.1" y1="272.11" x2="351.5" y2="272.11" stroke="#222" stroke-width="0.9" />
<line x1="348.1" y1="235.02" x2="351.5" y2="235.02" stroke="#222" stroke-width="0.9" />
<text x="346" y="238.77" font-family='"Liberation Sans", sans-serif' font-size="10.8" text-anchor="end" textLength="5.6" lengthAdjust="spacingAndGlyphs" fill="#000" stroke="#000" stroke-width="0.22" stroke-opacity="0.6">1</text>
<text x="346" y="275.86" font-family='"Liberation Sans", sans-serif' font-size="10.8" text-anchor="end" textLength="5.6" lengthAdjust="spacingAndGlyphs" fill="#000" stroke="#000" stroke-width="0.22" stroke-opacity="0.6">0</text>
<text x="346" y="312.95" font-family='"Liberation Sans", sans-serif' font-size="10.8" text-anchor="end" textLength="12.6" lengthAdjust="spacingAndGlyphs" fill="#000" stroke="#000" stroke-width="0.22" stroke-opacity="0.6">−1</text>
<line x1="351.5" y1="309.2" x2="351.5" y2="312.7" stroke="#222" stroke-width="0.9" />
<line x1="383.65" y1="309.2" x2="383.65" y2="312.7" stroke="#222" stroke-width="0.9" />
<line x1="415.8" y1="309.2" x2="415.8" y2="312.7" stroke="#222" stroke-width="0.9" />
<line x1="447.95" y1="309.2" x2="447.95" y2="312.7" stroke="#222" stroke-width="0.9" />
<line x1="480.1" y1="309.2" x2="480.1" y2="312.7" stroke="#222" stroke-width="0.9" />
<line x1="512.25" y1="309.2" x2="512.25" y2="312.7" stroke="#222" stroke-width="0.9" />
<polyline points="360.1,289.8 357.1,295.4 360.1,301" fill="none" stroke="#111" stroke-width="0.7"/>
<text x="361.1" y="298" font-family='"Liberation Serif", serif' font-size="12.0" textLength="8.2" lengthAdjust="spacingAndGlyphs" font-style="italic" fill="#1c1c1c" stroke="#fff" stroke-width="0.12" stroke-opacity="0.7">Z</text>
<text x="369.4" y="300.6" font-family='"Liberation Serif", serif' font-size="9.0" textLength="8.6" lengthAdjust="spacingAndGlyphs" fill="#1c1c1c" >54</text>
<polyline points="379.2,289.8 382.4,295.4 379.2,301" fill="none" stroke="#111" stroke-width="0.7"/>
<clipPath id="cp1227"><rect x="519.3" y="227.6" width="163.3" height="81.6"/></clipPath>
<g clip-path="url(#cp1227)">
<polygon points="551.3,305.49 557.7,300.67 564.1,295.85 570.5,291.4 576.9,286.02 583.3,280.64 589.7,274.89 596.1,269.14 602.5,264.88 608.9,260.61 615.3,255.05 621.7,263.02 628.1,258.06 634.5,253.1 640.9,248.14 647.3,243.18 653.7,243.55 660.1,244.2 666.5,244.85 672.9,245.5 679.3,246.15 679.3,263.02 672.9,262.98 666.5,262.93 660.1,262.88 653.7,262.84 647.3,263.02 640.9,265.34 634.5,267.66 628.1,269.98 621.7,272.29 615.3,267.66 608.9,270.63 602.5,274.89 596.1,279.16 589.7,284.53 583.3,289.91 576.9,294.36 570.5,298.81 564.1,301.78 557.7,304.56 551.3,307.35" fill="#dfeff9"/>
<line x1="551.3" y1="227.6" x2="551.3" y2="309.2" stroke="#000" stroke-width="0.9" stroke-opacity="0.05"/>
<line x1="551.3" y1="227.6" x2="551.3" y2="309.2" stroke="#c4c4c4" stroke-width="0.8" stroke-dasharray="1.2 1.5" />
<line x1="583.3" y1="227.6" x2="583.3" y2="309.2" stroke="#000" stroke-width="0.9" stroke-opacity="0.05"/>
<line x1="583.3" y1="227.6" x2="583.3" y2="309.2" stroke="#c4c4c4" stroke-width="0.8" stroke-dasharray="1.2 1.5" />
<line x1="615.3" y1="227.6" x2="615.3" y2="309.2" stroke="#000" stroke-width="0.9" stroke-opacity="0.05"/>
<line x1="615.3" y1="227.6" x2="615.3" y2="309.2" stroke="#c4c4c4" stroke-width="0.8" stroke-dasharray="1.2 1.5" />
<line x1="647.3" y1="227.6" x2="647.3" y2="309.2" stroke="#000" stroke-width="0.9" stroke-opacity="0.05"/>
<line x1="647.3" y1="227.6" x2="647.3" y2="309.2" stroke="#c4c4c4" stroke-width="0.8" stroke-dasharray="1.2 1.5" />
<path d="M519.3,309.2 C520.37,309.2 523.57,309.2 525.7,309.2 C527.83,309.2 529.97,309.23 532.1,309.2 C534.23,309.17 536.37,309.14 538.5,309.01 C540.63,308.89 542.77,308.86 544.9,308.46 C547.03,308.06 549.17,307.41 551.3,306.6 C553.43,305.8 555.57,304.81 557.7,303.64 C559.83,302.46 561.97,300.98 564.1,299.56 C566.23,298.13 568.37,296.87 570.5,295.11 C572.63,293.34 574.77,291.03 576.9,288.99 C579.03,286.95 581.17,285 583.3,282.87 C585.43,280.73 587.57,278.29 589.7,276.19 C591.83,274.09 593.97,272.05 596.1,270.25 C598.23,268.46 600.37,266.92 602.5,265.43 C604.63,263.95 606.77,262.71 608.9,261.35 C611.03,259.99 613.17,258.35 615.3,257.27 C617.43,256.2 619.57,255.5 621.7,254.9 C623.83,254.3 625.97,253.98 628.1,253.67 C630.23,253.37 632.37,253.24 634.5,253.08 C636.63,252.92 638.77,252.78 640.9,252.71 C643.03,252.64 645.17,252.66 647.3,252.64 C649.43,252.61 651.57,252.58 653.7,252.56 C655.83,252.54 657.97,252.54 660.1,252.53 C662.23,252.51 664.37,252.5 666.5,252.49 C668.63,252.48 670.77,252.46 672.9,252.45 C675.03,252.44 678.23,252.45 679.3,252.45" fill="none" stroke="#7f7f7f" stroke-width="1.3" stroke-linejoin="round" />
<line x1="519.3" y1="309.01" x2="519.3" y2="309.39" stroke="#1f77b4" stroke-width="1.5" stroke-opacity="0.88"/>
<polygon points="519.3,307.4 520.6,309.2 519.3,311 518,309.2" fill="#1f77b4"/>
<line x1="525.7" y1="309.01" x2="525.7" y2="309.39" stroke="#1f77b4" stroke-width="1.5" stroke-opacity="0.88"/>
<polygon points="525.7,307.4 527,309.2 525.7,311 524.4,309.2" fill="#1f77b4"/>
<line x1="532.1" y1="309.01" x2="532.1" y2="309.39" stroke="#1f77b4" stroke-width="1.5" stroke-opacity="0.88"/>
<polygon points="532.1,307.4 533.4,309.2 532.1,311 530.8,309.2" fill="#1f77b4"/>
<line x1="538.5" y1="309.01" x2="538.5" y2="309.39" stroke="#1f77b4" stroke-width="1.5" stroke-opacity="0.88"/>
<polygon points="538.5,307.4 539.8,309.2 538.5,311 537.2,309.2" fill="#1f77b4"/>
<line x1="544.9" y1="308.64" x2="544.9" y2="309.01" stroke="#1f77b4" stroke-width="1.5" stroke-opacity="0.88"/>
<polygon points="544.9,307.03 546.2,308.83 544.9,310.63 543.6,308.83" fill="#1f77b4"/>
<line x1="551.3" y1="306.6" x2="551.3" y2="308.09" stroke="#1f77b4" stroke-width="1.5" stroke-opacity="0.88"/>
<polygon points="551.3,305.55 552.6,307.35 551.3,309.15 550,307.35" fill="#1f77b4"/>
<line x1="557.7" y1="302.52" x2="557.7" y2="304.75" stroke="#1f77b4" stroke-width="1.5" stroke-opacity="0.88"/>
<polygon points="557.7,301.84 559,303.64 557.7,305.44 556.4,303.64" fill="#1f77b4"/>
<line x1="564.1" y1="298.07" x2="564.1" y2="301.04" stroke="#1f77b4" stroke-width="1.5" stroke-opacity="0.88"/>
<polygon points="564.1,297.76 565.4,299.56 564.1,301.36 562.8,299.56" fill="#1f77b4"/>
<line x1="570.5" y1="292.88" x2="570.5" y2="296.59" stroke="#1f77b4" stroke-width="1.5" stroke-opacity="0.88"/>
<polygon points="570.5,292.93 571.8,294.73 570.5,296.53 569.2,294.73" fill="#1f77b4"/>
<line x1="576.9" y1="286.39" x2="576.9" y2="291.58" stroke="#1f77b4" stroke-width="1.5" stroke-opacity="0.88"/>
<polygon points="576.9,287.19 578.2,288.99 576.9,290.79 575.6,288.99" fill="#1f77b4"/>
<line x1="583.3" y1="278.41" x2="583.3" y2="285.83" stroke="#1f77b4" stroke-width="1.5" stroke-opacity="0.88"/>
<polygon points="583.3,280.32 584.6,282.12 583.3,283.92 582,282.12" fill="#1f77b4"/>
<line x1="589.7" y1="278.04" x2="589.7" y2="283.24" stroke="#1f77b4" stroke-width="1.5" stroke-opacity="0.88"/>
<polygon points="589.7,278.84 591,280.64 589.7,282.44 588.4,280.64" fill="#1f77b4"/>
<line x1="596.1" y1="270.63" x2="596.1" y2="276.56" stroke="#1f77b4" stroke-width="1.5" stroke-opacity="0.88"/>
<polygon points="596.1,271.79 597.4,273.59 596.1,275.39 594.8,273.59" fill="#1f77b4"/>
<line x1="602.5" y1="263.95" x2="602.5" y2="271.37" stroke="#1f77b4" stroke-width="1.5" stroke-opacity="0.88"/>
<polygon points="602.5,265.86 603.8,267.66 602.5,269.46 601.2,267.66" fill="#1f77b4"/>
<line x1="608.9" y1="258.57" x2="608.9" y2="267.47" stroke="#1f77b4" stroke-width="1.5" stroke-opacity="0.88"/>
<polygon points="608.9,261.22 610.2,263.02 608.9,264.82 607.6,263.02" fill="#1f77b4"/>
<line x1="615.3" y1="256.16" x2="615.3" y2="266.55" stroke="#1f77b4" stroke-width="1.5" stroke-opacity="0.88"/>
<polygon points="615.3,259.55 616.6,261.35 615.3,263.15 614,261.35" fill="#1f77b4"/>
<line x1="621.7" y1="265.43" x2="621.7" y2="272.85" stroke="#1f77b4" stroke-width="1.5" stroke-opacity="0.88"/>
<polygon points="621.7,267.34 623,269.14 621.7,270.94 620.4,269.14" fill="#1f77b4"/>
<line x1="628.1" y1="260.98" x2="628.1" y2="270.63" stroke="#1f77b4" stroke-width="1.5" stroke-opacity="0.88"/>
<polygon points="628.1,264 629.4,265.8 628.1,267.6 626.8,265.8" fill="#1f77b4"/>
<line x1="634.5" y1="257.05" x2="634.5" y2="268.18" stroke="#1f77b4" stroke-width="1.5" stroke-opacity="0.88"/>
<polygon points="634.5,260.81 635.8,262.61 634.5,264.41 633.2,262.61" fill="#1f77b4"/>
<line x1="640.9" y1="253.19" x2="640.9" y2="265.8" stroke="#1f77b4" stroke-width="1.5" stroke-opacity="0.88"/>
<polygon points="640.9,257.7 642.2,259.5 640.9,261.3 639.6,259.5" fill="#1f77b4"/>
<line x1="647.3" y1="247.44" x2="647.3" y2="266.73" stroke="#1f77b4" stroke-width="1.5" stroke-opacity="0.88"/>
<polygon points="647.3,255.29 648.6,257.09 647.3,258.89 646,257.09" fill="#1f77b4"/>
<line x1="653.7" y1="243.66" x2="653.7" y2="262.5" stroke="#1f77b4" stroke-width="1.5" stroke-opacity="0.88"/>
<polygon points="653.7,251.28 655,253.08 653.7,254.88 652.4,253.08" fill="#1f77b4"/>
<line x1="660.1" y1="243.81" x2="660.1" y2="262.35" stroke="#1f77b4" stroke-width="1.5" stroke-opacity="0.88"/>
<polygon points="660.1,251.28 661.4,253.08 660.1,254.88 658.8,253.08" fill="#1f77b4"/>
<line x1="666.5" y1="244.11" x2="666.5" y2="262.65" stroke="#1f77b4" stroke-width="1.5" stroke-opacity="0.88"/>
<polygon points="666.5,251.58 667.8,253.38 666.5,255.18 665.2,253.38" fill="#1f77b4"/>
<line x1="672.9" y1="245.03" x2="672.9" y2="262.84" stroke="#1f77b4" stroke-width="1.5" stroke-opacity="0.88"/>
<polygon points="672.9,252.13 674.2,253.93 672.9,255.73 671.6,253.93" fill="#1f77b4"/>
<line x1="679.3" y1="246" x2="679.3" y2="263.8" stroke="#1f77b4" stroke-width="1.5" stroke-opacity="0.88"/>
<polygon points="679.3,253.1 680.6,254.9 679.3,256.7 678,254.9" fill="#1f77b4"/>
<line x1="551.3" y1="305.86" x2="551.3" y2="307.35" stroke="#ff7f0e" stroke-width="1.3" stroke-opacity="0.7"/>
<line x1="583.3" y1="284.72" x2="583.3" y2="288.43" stroke="#ff7f0e" stroke-width="1.3" stroke-opacity="0.7"/>
<line x1="615.3" y1="271" x2="615.3" y2="274.71" stroke="#ff7f0e" stroke-width="1.3" stroke-opacity="0.7"/>
<line x1="647.3" y1="244.29" x2="647.3" y2="262.84" stroke="#ff7f0e" stroke-width="1.3" stroke-opacity="0.7"/>
<polygon points="551.3,304.7 552.8,306.6 551.3,308.5 549.8,306.6" fill="#ff7f0e"/>
<polygon points="583.3,284.67 584.8,286.57 583.3,288.47 581.8,286.57" fill="#ff7f0e"/>
<polygon points="615.3,270.95 616.8,272.85 615.3,274.75 613.8,272.85" fill="#ff7f0e"/>
<polygon points="647.3,251.66 648.8,253.56 647.3,255.46 645.8,253.56" fill="#ff7f0e"/>
</g>
<rect x="519.3" y="227.6" width="163.3" height="81.6" fill="none" stroke="#111" stroke-width="1.0"/>
<line x1="515.9" y1="309.2" x2="519.3" y2="309.2" stroke="#222" stroke-width="0.9" />
<line x1="515.9" y1="272.11" x2="519.3" y2="272.11" stroke="#222" stroke-width="0.9" />
<line x1="515.9" y1="235.02" x2="519.3" y2="235.02" stroke="#222" stroke-width="0.9" />
<line x1="519.3" y1="309.2" x2="519.3" y2="312.7" stroke="#222" stroke-width="0.9" />
<line x1="551.3" y1="309.2" x2="551.3" y2="312.7" stroke="#222" stroke-width="0.9" />
<line x1="583.3" y1="309.2" x2="583.3" y2="312.7" stroke="#222" stroke-width="0.9" />
<line x1="615.3" y1="309.2" x2="615.3" y2="312.7" stroke="#222" stroke-width="0.9" />
<line x1="647.3" y1="309.2" x2="647.3" y2="312.7" stroke="#222" stroke-width="0.9" />
<line x1="679.3" y1="309.2" x2="679.3" y2="312.7" stroke="#222" stroke-width="0.9" />
<polyline points="527.9,289.8 524.9,295.4 527.9,301" fill="none" stroke="#111" stroke-width="0.7"/>
<text x="528.9" y="298" font-family='"Liberation Serif", serif' font-size="12.0" textLength="8.2" lengthAdjust="spacingAndGlyphs" font-style="italic" fill="#1c1c1c" stroke="#fff" stroke-width="0.12" stroke-opacity="0.7">Z</text>
<text x="537.2" y="300.6" font-family='"Liberation Serif", serif' font-size="9.0" textLength="8.6" lengthAdjust="spacingAndGlyphs" fill="#1c1c1c" >63</text>
<polyline points="547,289.8 550.2,295.4 547,301" fill="none" stroke="#111" stroke-width="0.7"/>
<clipPath id="cp0312"><rect x="351.5" y="312.3" width="163.9" height="81.2"/></clipPath>
<g clip-path="url(#cp0312)">
<polygon points="383.65,334.08 390.08,338.51 396.51,342.93 402.94,344.9 409.37,346.87 415.8,348.84 422.23,350.13 428.66,351.42 435.09,352.32 441.52,353.22 447.95,354.12 454.38,352.22 460.81,350.32 467.24,346.99 473.67,343.67 480.1,340.35 486.53,335.55 492.96,332.88 499.39,330.2 505.82,327.52 512.25,324.85 512.25,344.78 505.82,347.09 499.39,349.39 492.96,351.7 486.53,354.01 480.1,362.5 473.67,362 467.24,361.51 460.81,361.02 454.38,362.87 447.95,364.71 441.52,362.62 435.09,360.53 428.66,358.44 422.23,359.82 415.8,361.2 409.37,356.34 402.94,351.49 396.51,346.63 390.08,340.9 383.65,335.18" fill="#dfeff9"/>
<line x1="383.65" y1="312.3" x2="383.65" y2="393.5" stroke="#000" stroke-width="0.9" stroke-opacity="0.05"/>
<line x1="383.65" y1="312.3" x2="383.65" y2="393.5" stroke="#c4c4c4" stroke-width="0.8" stroke-dasharray="1.2 1.5" />
<line x1="415.8" y1="312.3" x2="415.8" y2="393.5" stroke="#000" stroke-width="0.9" stroke-opacity="0.05"/>
<line x1="415.8" y1="312.3" x2="415.8" y2="393.5" stroke="#c4c4c4" stroke-width="0.8" stroke-dasharray="1.2 1.5" />
<line x1="447.95" y1="312.3" x2="447.95" y2="393.5" stroke="#000" stroke-width="0.9" stroke-opacity="0.05"/>
<line x1="447.95" y1="312.3" x2="447.95" y2="393.5" stroke="#c4c4c4" stroke-width="0.8" stroke-dasharray="1.2 1.5" />
<line x1="480.1" y1="312.3" x2="480.1" y2="393.5" stroke="#000" stroke-width="0.9" stroke-opacity="0.05"/>
<line x1="480.1" y1="312.3" x2="480.1" y2="393.5" stroke="#c4c4c4" stroke-width="0.8" stroke-dasharray="1.2 1.5" />
<path d="M351.5,319.68 C352.57,319.87 355.79,320.24 357.93,320.79 C360.07,321.34 362.22,322.08 364.36,323 C366.5,323.93 368.65,325.16 370.79,326.33 C372.93,327.49 375.08,328.62 377.22,330.02 C379.36,331.41 381.51,333.04 383.65,334.7 C385.79,336.37 387.94,338.15 390.08,340.02 C392.22,341.88 394.37,344.02 396.51,345.89 C398.65,347.75 400.8,349.53 402.94,351.2 C405.08,352.88 407.23,354.46 409.37,355.93 C411.51,357.4 413.66,358.95 415.8,360.02 C417.94,361.1 420.09,361.8 422.23,362.39 C424.37,362.97 426.52,363.24 428.66,363.53 C430.8,363.82 432.95,364.23 435.09,364.12 C437.23,364.01 439.38,363.41 441.52,362.87 C443.66,362.32 445.81,361.68 447.95,360.84 C450.09,359.99 452.24,358.76 454.38,357.81 C456.52,356.86 458.67,355.99 460.81,355.11 C462.95,354.23 465.1,353.48 467.24,352.53 C469.38,351.58 471.53,350.55 473.67,349.39 C475.81,348.24 477.96,346.73 480.1,345.59 C482.24,344.45 484.39,343.53 486.53,342.57 C488.67,341.6 490.82,340.58 492.96,339.8 C495.1,339.02 497.25,338.49 499.39,337.88 C501.53,337.26 503.68,336.74 505.82,336.11 C507.96,335.47 511.18,334.41 512.25,334.08" fill="none" stroke="#7f7f7f" stroke-width="1.3" stroke-linejoin="round" />
<line x1="351.5" y1="319.5" x2="351.5" y2="319.87" stroke="#1f77b4" stroke-width="1.5" stroke-opacity="0.88"/>
<polygon points="351.5,317.88 352.8,319.68 351.5,321.48 350.2,319.68" fill="#1f77b4"/>
<line x1="357.93" y1="320.6" x2="357.93" y2="320.97" stroke="#1f77b4" stroke-width="1.5" stroke-opacity="0.88"/>
<polygon points="357.93,318.99 359.23,320.79 357.93,322.59 356.63,320.79" fill="#1f77b4"/>
<line x1="364.36" y1="322.82" x2="364.36" y2="323.19" stroke="#1f77b4" stroke-width="1.5" stroke-opacity="0.88"/>
<polygon points="364.36,321.2 365.66,323 364.36,324.8 363.06,323" fill="#1f77b4"/>
<line x1="370.79" y1="326.14" x2="370.79" y2="326.51" stroke="#1f77b4" stroke-width="1.5" stroke-opacity="0.88"/>
<polygon points="370.79,324.53 372.09,326.33 370.79,328.13 369.49,326.33" fill="#1f77b4"/>
<line x1="377.22" y1="329.83" x2="377.22" y2="330.2" stroke="#1f77b4" stroke-width="1.5" stroke-opacity="0.88"/>
<polygon points="377.22,328.22 378.52,330.02 377.22,331.82 375.92,330.02" fill="#1f77b4"/>
<line x1="383.65" y1="334.93" x2="383.65" y2="335.66" stroke="#1f77b4" stroke-width="1.5" stroke-opacity="0.88"/>
<polygon points="383.65,333.49 384.95,335.29 383.65,337.09 382.35,335.29" fill="#1f77b4"/>
<line x1="390.08" y1="338.25" x2="390.08" y2="341.79" stroke="#1f77b4" stroke-width="1.5" stroke-opacity="0.88"/>
<polygon points="390.08,338.22 391.38,340.02 390.08,341.82 388.78,340.02" fill="#1f77b4"/>
<line x1="396.51" y1="342.6" x2="396.51" y2="346.81" stroke="#1f77b4" stroke-width="1.5" stroke-opacity="0.88"/>
<polygon points="396.51,342.91 397.81,344.71 396.51,346.51 395.21,344.71" fill="#1f77b4"/>
<line x1="402.94" y1="347.66" x2="402.94" y2="352.38" stroke="#1f77b4" stroke-width="1.5" stroke-opacity="0.88"/>
<polygon points="402.94,348.22 404.24,350.02 402.94,351.82 401.64,350.02" fill="#1f77b4"/>
<line x1="409.37" y1="351.53" x2="409.37" y2="356.7" stroke="#1f77b4" stroke-width="1.5" stroke-opacity="0.88"/>
<polygon points="409.37,352.32 410.67,354.12 409.37,355.92 408.07,354.12" fill="#1f77b4"/>
<line x1="415.8" y1="355.26" x2="415.8" y2="361.17" stroke="#1f77b4" stroke-width="1.5" stroke-opacity="0.88"/>
<polygon points="415.8,356.41 417.1,358.21 415.8,360.01 414.5,358.21" fill="#1f77b4"/>
<line x1="422.23" y1="351.87" x2="422.23" y2="354.67" stroke="#1f77b4" stroke-width="1.5" stroke-opacity="0.88"/>
<polygon points="422.23,351.47 423.53,353.27 422.23,355.07 420.93,353.27" fill="#1f77b4"/>
<line x1="428.66" y1="353.34" x2="428.66" y2="356.89" stroke="#1f77b4" stroke-width="1.5" stroke-opacity="0.88"/>
<polygon points="428.66,353.31 429.96,355.11 428.66,356.91 427.36,355.11" fill="#1f77b4"/>
<line x1="435.09" y1="355.26" x2="435.09" y2="359.99" stroke="#1f77b4" stroke-width="1.5" stroke-opacity="0.88"/>
<polygon points="435.09,355.82 436.39,357.62 435.09,359.42 433.79,357.62" fill="#1f77b4"/>
<line x1="441.52" y1="355.48" x2="441.52" y2="362.13" stroke="#1f77b4" stroke-width="1.5" stroke-opacity="0.88"/>
<polygon points="441.52,357.01 442.82,358.81 441.52,360.61 440.22,358.81" fill="#1f77b4"/>
<line x1="447.95" y1="356.04" x2="447.95" y2="363.42" stroke="#1f77b4" stroke-width="1.5" stroke-opacity="0.88"/>
<polygon points="447.95,357.93 449.25,359.73 447.95,361.53 446.65,359.73" fill="#1f77b4"/>
<line x1="454.38" y1="353.79" x2="454.38" y2="358.21" stroke="#1f77b4" stroke-width="1.5" stroke-opacity="0.88"/>
<polygon points="454.38,354.2 455.68,356 454.38,357.8 453.08,356" fill="#1f77b4"/>
<line x1="460.81" y1="350.5" x2="460.81" y2="360.47" stroke="#1f77b4" stroke-width="1.5" stroke-opacity="0.88"/>
<polygon points="460.81,353.68 462.11,355.48 460.81,357.28 459.51,355.48" fill="#1f77b4"/>
<line x1="467.24" y1="348.47" x2="467.24" y2="362.5" stroke="#1f77b4" stroke-width="1.5" stroke-opacity="0.88"/>
<polygon points="467.24,353.68 468.54,355.48 467.24,357.28 465.94,355.48" fill="#1f77b4"/>
<line x1="473.67" y1="345.89" x2="473.67" y2="362.13" stroke="#1f77b4" stroke-width="1.5" stroke-opacity="0.88"/>
<polygon points="473.67,352.21 474.97,354.01 473.67,355.81 472.37,354.01" fill="#1f77b4"/>
<line x1="480.1" y1="343.16" x2="480.1" y2="360.87" stroke="#1f77b4" stroke-width="1.5" stroke-opacity="0.88"/>
<polygon points="480.1,350.21 481.4,352.01 480.1,353.81 478.8,352.01" fill="#1f77b4"/>
<line x1="486.53" y1="336.29" x2="486.53" y2="350.32" stroke="#1f77b4" stroke-width="1.5" stroke-opacity="0.88"/>
<polygon points="486.53,341.5 487.83,343.3 486.53,345.1 485.23,343.3" fill="#1f77b4"/>
<line x1="492.96" y1="333.71" x2="492.96" y2="348.47" stroke="#1f77b4" stroke-width="1.5" stroke-opacity="0.88"/>
<polygon points="492.96,339.29 494.26,341.09 492.96,342.89 491.66,341.09" fill="#1f77b4"/>
<line x1="499.39" y1="330.09" x2="499.39" y2="346.33" stroke="#1f77b4" stroke-width="1.5" stroke-opacity="0.88"/>
<polygon points="499.39,336.41 500.69,338.21 499.39,340.01 498.09,338.21" fill="#1f77b4"/>
<line x1="505.82" y1="327.62" x2="505.82" y2="344.6" stroke="#1f77b4" stroke-width="1.5" stroke-opacity="0.88"/>
<polygon points="505.82,334.31 507.12,336.11 505.82,337.91 504.52,336.11" fill="#1f77b4"/>
<line x1="512.25" y1="325.4" x2="512.25" y2="343.86" stroke="#1f77b4" stroke-width="1.5" stroke-opacity="0.88"/>
<polygon points="512.25,332.83 513.55,334.63 512.25,336.43 510.95,334.63" fill="#1f77b4"/>
<line x1="383.65" y1="333.71" x2="383.65" y2="335.18" stroke="#ff7f0e" stroke-width="1.3" stroke-opacity="0.7"/>
<line x1="415.8" y1="349.1" x2="415.8" y2="351.31" stroke="#ff7f0e" stroke-width="1.3" stroke-opacity="0.7"/>
<line x1="447.95" y1="353.82" x2="447.95" y2="356.78" stroke="#ff7f0e" stroke-width="1.3" stroke-opacity="0.7"/>
<line x1="480.1" y1="342.2" x2="480.1" y2="351.05" stroke="#ff7f0e" stroke-width="1.3" stroke-opacity="0.7"/>
<polygon points="383.65,332.55 385.15,334.45 383.65,336.35 382.15,334.45" fill="#ff7f0e"/>
<polygon points="415.8,348.31 417.3,350.21 415.8,352.11 414.3,350.21" fill="#ff7f0e"/>
<polygon points="447.95,353.4 449.45,355.3 447.95,357.2 446.45,355.3" fill="#ff7f0e"/>
<polygon points="480.1,344.73 481.6,346.63 480.1,348.53 478.6,346.63" fill="#ff7f0e"/>
</g>
<rect x="351.5" y="312.3" width="163.9" height="81.2" fill="none" stroke="#111" stroke-width="1.0"/>
<line x1="348.1" y1="393.5" x2="351.5" y2="393.5" stroke="#222" stroke-width="0.9" />
<line x1="348.1" y1="356.59" x2="351.5" y2="356.59" stroke="#222" stroke-width="0.9" />
<line x1="348.1" y1="319.68" x2="351.5" y2="319.68" stroke="#222" stroke-width="0.9" />
<text x="346" y="323.43" font-family='"Liberation Sans", sans-serif' font-size="10.8" text-anchor="end" textLength="5.6" lengthAdjust="spacingAndGlyphs" fill="#000" stroke="#000" stroke-width="0.22" stroke-opacity="0.6">1</text>
<text x="346" y="360.34" font-family='"Liberation Sans", sans-serif' font-size="10.8" text-anchor="end" textLength="5.6" lengthAdjust="spacingAndGlyphs" fill="#000" stroke="#000" stroke-width="0.22" stroke-opacity="0.6">0</text>
<text x="346" y="397.25" font-family='"Liberation Sans", sans-serif' font-size="10.8" text-anchor="end" textLength="12.6" lengthAdjust="spacingAndGlyphs" fill="#000" stroke="#000" stroke-width="0.22" stroke-opacity="0.6">−1</text>
<line x1="351.5" y1="393.5" x2="351.5" y2="397" stroke="#222" stroke-width="0.9" />
<text x="351.5" y="407.7" font-family='"Liberation Sans", sans-serif' font-size="10.8" text-anchor="middle" textLength="6" lengthAdjust="spacingAndGlyphs" fill="#000" stroke="#000" stroke-width="0.22" stroke-opacity="0.6">0</text>
<line x1="383.65" y1="393.5" x2="383.65" y2="397" stroke="#222" stroke-width="0.9" />
<text x="383.65" y="407.7" font-family='"Liberation Sans", sans-serif' font-size="10.8" text-anchor="middle" textLength="6" lengthAdjust="spacingAndGlyphs" fill="#000" stroke="#000" stroke-width="0.22" stroke-opacity="0.6">5</text>
<line x1="415.8" y1="393.5" x2="415.8" y2="397" stroke="#222" stroke-width="0.9" />
<text x="415.8" y="407.7" font-family='"Liberation Sans", sans-serif' font-size="10.8" text-anchor="middle" textLength="11.9" lengthAdjust="spacingAndGlyphs" fill="#000" stroke="#000" stroke-width="0.22" stroke-opacity="0.6">10</text>
<line x1="447.95" y1="393.5" x2="447.95" y2="397" stroke="#222" stroke-width="0.9" />
<text x="447.95" y="407.7" font-family='"Liberation Sans", sans-serif' font-size="10.8" text-anchor="middle" textLength="11.9" lengthAdjust="spacingAndGlyphs" fill="#000" stroke="#000" stroke-width="0.22" stroke-opacity="0.6">15</text>
<line x1="480.1" y1="393.5" x2="480.1" y2="397" stroke="#222" stroke-width="0.9" />
<text x="480.1" y="407.7" font-family='"Liberation Sans", sans-serif' font-size="10.8" text-anchor="middle" textLength="11.9" lengthAdjust="spacingAndGlyphs" fill="#000" stroke="#000" stroke-width="0.22" stroke-opacity="0.6">20</text>
<line x1="512.25" y1="393.5" x2="512.25" y2="397" stroke="#222" stroke-width="0.9" />
<polyline points="360.1,374.1 357.1,379.7 360.1,385.3" fill="none" stroke="#111" stroke-width="0.7"/>
<text x="361.1" y="382.3" font-family='"Liberation Serif", serif' font-size="12.0" textLength="8.2" lengthAdjust="spacingAndGlyphs" font-style="italic" fill="#1c1c1c" stroke="#fff" stroke-width="0.12" stroke-opacity="0.7">Z</text>
<text x="369.4" y="384.9" font-family='"Liberation Serif", serif' font-size="9.0" textLength="8.6" lengthAdjust="spacingAndGlyphs" fill="#1c1c1c" >67</text>
<polyline points="379.2,374.1 382.4,379.7 379.2,385.3" fill="none" stroke="#111" stroke-width="0.7"/>
<clipPath id="cp1312"><rect x="519.3" y="312.3" width="163.3" height="81.2"/></clipPath>
<g clip-path="url(#cp1312)">
<polygon points="551.3,321.9 557.7,324.85 564.1,327.8 570.5,330.75 576.9,333.71 583.3,336.66 589.7,334.96 596.1,333.26 602.5,331.57 608.9,329.87 615.3,328.17 621.7,326.33 628.1,324.48 634.5,322.63 640.9,322.63 647.3,322.63 653.7,332.6 660.1,333.13 666.5,333.65 672.9,334.18 679.3,334.7 679.3,349.58 672.9,351.33 666.5,353.08 660.1,354.84 653.7,356.59 647.3,346 640.9,346 634.5,346 628.1,347.87 621.7,349.74 615.3,351.61 608.9,352.01 602.5,352.42 596.1,352.83 589.7,353.23 583.3,353.64 576.9,350.54 570.5,347.44 564.1,344.34 557.7,341.24 551.3,338.14" fill="#dfeff9"/>
<line x1="551.3" y1="312.3" x2="551.3" y2="393.5" stroke="#000" stroke-width="0.9" stroke-opacity="0.05"/>
<line x1="551.3" y1="312.3" x2="551.3" y2="393.5" stroke="#c4c4c4" stroke-width="0.8" stroke-dasharray="1.2 1.5" />
<line x1="583.3" y1="312.3" x2="583.3" y2="393.5" stroke="#000" stroke-width="0.9" stroke-opacity="0.05"/>
<line x1="583.3" y1="312.3" x2="583.3" y2="393.5" stroke="#c4c4c4" stroke-width="0.8" stroke-dasharray="1.2 1.5" />
<line x1="615.3" y1="312.3" x2="615.3" y2="393.5" stroke="#000" stroke-width="0.9" stroke-opacity="0.05"/>
<line x1="615.3" y1="312.3" x2="615.3" y2="393.5" stroke="#c4c4c4" stroke-width="0.8" stroke-dasharray="1.2 1.5" />
<line x1="647.3" y1="312.3" x2="647.3" y2="393.5" stroke="#000" stroke-width="0.9" stroke-opacity="0.05"/>
<line x1="647.3" y1="312.3" x2="647.3" y2="393.5" stroke="#c4c4c4" stroke-width="0.8" stroke-dasharray="1.2 1.5" />
<path d="M519.3,319.68 C520.37,319.8 523.57,319.99 525.7,320.42 C527.83,320.85 529.97,321.47 532.1,322.27 C534.23,323.07 536.37,324.11 538.5,325.22 C540.63,326.33 542.77,327.68 544.9,328.91 C547.03,330.14 549.17,331.57 551.3,332.6 C553.43,333.63 555.57,334.22 557.7,335.11 C559.83,336 561.97,337.04 564.1,337.91 C566.23,338.79 568.37,339.64 570.5,340.35 C572.63,341.06 574.77,341.8 576.9,342.2 C579.03,342.6 581.17,342.75 583.3,342.75 C585.43,342.75 587.57,342.53 589.7,342.2 C591.83,341.86 593.97,341.38 596.1,340.72 C598.23,340.06 600.37,339.21 602.5,338.21 C604.63,337.21 606.77,335.88 608.9,334.7 C611.03,333.52 613.17,332.06 615.3,331.12 C617.43,330.19 619.57,329.6 621.7,329.09 C623.83,328.59 625.97,328.34 628.1,328.1 C630.23,327.85 632.37,327.63 634.5,327.62 C636.63,327.6 638.77,327.79 640.9,328.02 C643.03,328.26 645.17,328.61 647.3,329.02 C649.43,329.43 651.57,330.02 653.7,330.5 C655.83,330.98 657.97,331.43 660.1,331.9 C662.23,332.37 664.37,332.94 666.5,333.34 C668.63,333.74 670.77,333.95 672.9,334.3 C675.03,334.64 678.23,335.22 679.3,335.41" fill="none" stroke="#7f7f7f" stroke-width="1.3" stroke-linejoin="round" />
<line x1="519.3" y1="319.5" x2="519.3" y2="319.87" stroke="#1f77b4" stroke-width="1.5" stroke-opacity="0.88"/>
<polygon points="519.3,317.88 520.6,319.68 519.3,321.48 518,319.68" fill="#1f77b4"/>
<line x1="525.7" y1="320.24" x2="525.7" y2="320.6" stroke="#1f77b4" stroke-width="1.5" stroke-opacity="0.88"/>
<polygon points="525.7,318.62 527,320.42 525.7,322.22 524.4,320.42" fill="#1f77b4"/>
<line x1="532.1" y1="322.08" x2="532.1" y2="322.45" stroke="#1f77b4" stroke-width="1.5" stroke-opacity="0.88"/>
<polygon points="532.1,320.47 533.4,322.27 532.1,324.07 530.8,322.27" fill="#1f77b4"/>
<line x1="538.5" y1="325.03" x2="538.5" y2="325.4" stroke="#1f77b4" stroke-width="1.5" stroke-opacity="0.88"/>
<polygon points="538.5,323.42 539.8,325.22 538.5,327.02 537.2,325.22" fill="#1f77b4"/>
<line x1="544.9" y1="328.72" x2="544.9" y2="329.09" stroke="#1f77b4" stroke-width="1.5" stroke-opacity="0.88"/>
<polygon points="544.9,327.11 546.2,328.91 544.9,330.71 543.6,328.91" fill="#1f77b4"/>
<line x1="551.3" y1="332.23" x2="551.3" y2="334.45" stroke="#1f77b4" stroke-width="1.5" stroke-opacity="0.88"/>
<polygon points="551.3,331.54 552.6,333.34 551.3,335.14 550,333.34" fill="#1f77b4"/>
<line x1="557.7" y1="324.85" x2="557.7" y2="341.83" stroke="#1f77b4" stroke-width="1.5" stroke-opacity="0.88"/>
<polygon points="557.7,331.54 559,333.34 557.7,335.14 556.4,333.34" fill="#1f77b4"/>
<line x1="564.1" y1="327.62" x2="564.1" y2="344.6" stroke="#1f77b4" stroke-width="1.5" stroke-opacity="0.88"/>
<polygon points="564.1,334.31 565.4,336.11 564.1,337.91 562.8,336.11" fill="#1f77b4"/>
<line x1="570.5" y1="330.83" x2="570.5" y2="347.81" stroke="#1f77b4" stroke-width="1.5" stroke-opacity="0.88"/>
<polygon points="570.5,337.52 571.8,339.32 570.5,341.12 569.2,339.32" fill="#1f77b4"/>
<line x1="576.9" y1="332.23" x2="576.9" y2="349.21" stroke="#1f77b4" stroke-width="1.5" stroke-opacity="0.88"/>
<polygon points="576.9,338.92 578.2,340.72 576.9,342.52 575.6,340.72" fill="#1f77b4"/>
<line x1="583.3" y1="334.08" x2="583.3" y2="350.32" stroke="#1f77b4" stroke-width="1.5" stroke-opacity="0.88"/>
<polygon points="583.3,340.4 584.6,342.2 583.3,344 582,342.2" fill="#1f77b4"/>
<line x1="589.7" y1="335.7" x2="589.7" y2="351.94" stroke="#1f77b4" stroke-width="1.5" stroke-opacity="0.88"/>
<polygon points="589.7,342.02 591,343.82 589.7,345.62 588.4,343.82" fill="#1f77b4"/>
<line x1="596.1" y1="334.08" x2="596.1" y2="350.32" stroke="#1f77b4" stroke-width="1.5" stroke-opacity="0.88"/>
<polygon points="596.1,340.4 597.4,342.2 596.1,344 594.8,342.2" fill="#1f77b4"/>
<line x1="602.5" y1="331.86" x2="602.5" y2="348.1" stroke="#1f77b4" stroke-width="1.5" stroke-opacity="0.88"/>
<polygon points="602.5,338.18 603.8,339.98 602.5,341.78 601.2,339.98" fill="#1f77b4"/>
<line x1="608.9" y1="330.09" x2="608.9" y2="346.33" stroke="#1f77b4" stroke-width="1.5" stroke-opacity="0.88"/>
<polygon points="608.9,336.41 610.2,338.21 608.9,340.01 607.6,338.21" fill="#1f77b4"/>
<line x1="615.3" y1="329.43" x2="615.3" y2="344.19" stroke="#1f77b4" stroke-width="1.5" stroke-opacity="0.88"/>
<polygon points="615.3,335.01 616.6,336.81 615.3,338.61 614,336.81" fill="#1f77b4"/>
<line x1="621.7" y1="328.95" x2="621.7" y2="348.88" stroke="#1f77b4" stroke-width="1.5" stroke-opacity="0.88"/>
<polygon points="621.7,337.11 623,338.91 621.7,340.71 620.4,338.91" fill="#1f77b4"/>
<line x1="628.1" y1="325.7" x2="628.1" y2="347.11" stroke="#1f77b4" stroke-width="1.5" stroke-opacity="0.88"/>
<polygon points="628.1,334.6 629.4,336.4 628.1,338.2 626.8,336.4" fill="#1f77b4"/>
<line x1="634.5" y1="323.93" x2="634.5" y2="346.07" stroke="#1f77b4" stroke-width="1.5" stroke-opacity="0.88"/>
<polygon points="634.5,333.2 635.8,335 634.5,336.8 633.2,335" fill="#1f77b4"/>
<line x1="640.9" y1="322.93" x2="640.9" y2="345.08" stroke="#1f77b4" stroke-width="1.5" stroke-opacity="0.88"/>
<polygon points="640.9,332.2 642.2,334 640.9,335.8 639.6,334" fill="#1f77b4"/>
<line x1="647.3" y1="322.93" x2="647.3" y2="345.08" stroke="#1f77b4" stroke-width="1.5" stroke-opacity="0.88"/>
<polygon points="647.3,332.2 648.6,334 647.3,335.8 646,334" fill="#1f77b4"/>
<line x1="653.7" y1="332.67" x2="653.7" y2="355.56" stroke="#1f77b4" stroke-width="1.5" stroke-opacity="0.88"/>
<polygon points="653.7,342.32 655,344.12 653.7,345.92 652.4,344.12" fill="#1f77b4"/>
<line x1="660.1" y1="332.34" x2="660.1" y2="354.49" stroke="#1f77b4" stroke-width="1.5" stroke-opacity="0.88"/>
<polygon points="660.1,341.61 661.4,343.41 660.1,345.21 658.8,343.41" fill="#1f77b4"/>
<line x1="666.5" y1="333.34" x2="666.5" y2="352.53" stroke="#1f77b4" stroke-width="1.5" stroke-opacity="0.88"/>
<polygon points="666.5,341.13 667.8,342.93 666.5,344.73 665.2,342.93" fill="#1f77b4"/>
<line x1="672.9" y1="334.08" x2="672.9" y2="351.05" stroke="#1f77b4" stroke-width="1.5" stroke-opacity="0.88"/>
<polygon points="672.9,340.77 674.2,342.57 672.9,344.37 671.6,342.57" fill="#1f77b4"/>
<line x1="679.3" y1="335.55" x2="679.3" y2="349.58" stroke="#1f77b4" stroke-width="1.5" stroke-opacity="0.88"/>
<polygon points="679.3,340.77 680.6,342.57 679.3,344.37 678,342.57" fill="#1f77b4"/>
<line x1="551.3" y1="321.16" x2="551.3" y2="338.14" stroke="#ff7f0e" stroke-width="1.3" stroke-opacity="0.7"/>
<line x1="583.3" y1="337.88" x2="583.3" y2="354.12" stroke="#ff7f0e" stroke-width="1.3" stroke-opacity="0.7"/>
<line x1="615.3" y1="332.23" x2="615.3" y2="352.16" stroke="#ff7f0e" stroke-width="1.3" stroke-opacity="0.7"/>
<line x1="647.3" y1="334.63" x2="647.3" y2="357.14" stroke="#ff7f0e" stroke-width="1.3" stroke-opacity="0.7"/>
<polygon points="551.3,327.75 552.8,329.65 551.3,331.55 549.8,329.65" fill="#ff7f0e"/>
<polygon points="583.3,344.1 584.8,346 583.3,347.9 581.8,346" fill="#ff7f0e"/>
<polygon points="615.3,340.3 616.8,342.2 615.3,344.1 613.8,342.2" fill="#ff7f0e"/>
<polygon points="647.3,343.99 648.8,345.89 647.3,347.79 645.8,345.89" fill="#ff7f0e"/>
</g>
<rect x="519.3" y="312.3" width="163.3" height="81.2" fill="none" stroke="#111" stroke-width="1.0"/>
<line x1="515.9" y1="393.5" x2="519.3" y2="393.5" stroke="#222" stroke-width="0.9" />
<line x1="515.9" y1="356.59" x2="519.3" y2="356.59" stroke="#222" stroke-width="0.9" />
<line x1="515.9" y1="319.68" x2="519.3" y2="319.68" stroke="#222" stroke-width="0.9" />
<line x1="519.3" y1="393.5" x2="519.3" y2="397" stroke="#222" stroke-width="0.9" />
<text x="519.3" y="407.7" font-family='"Liberation Sans", sans-serif' font-size="10.8" text-anchor="middle" textLength="6" lengthAdjust="spacingAndGlyphs" fill="#000" stroke="#000" stroke-width="0.22" stroke-opacity="0.6">0</text>
<line x1="551.3" y1="393.5" x2="551.3" y2="397" stroke="#222" stroke-width="0.9" />
<text x="551.3" y="407.7" font-family='"Liberation Sans", sans-serif' font-size="10.8" text-anchor="middle" textLength="6" lengthAdjust="spacingAndGlyphs" fill="#000" stroke="#000" stroke-width="0.22" stroke-opacity="0.6">5</text>
<line x1="583.3" y1="393.5" x2="583.3" y2="397" stroke="#222" stroke-width="0.9" />
<text x="583.3" y="407.7" font-family='"Liberation Sans", sans-serif' font-size="10.8" text-anchor="middle" textLength="11.9" lengthAdjust="spacingAndGlyphs" fill="#000" stroke="#000" stroke-width="0.22" stroke-opacity="0.6">10</text>
<line x1="615.3" y1="393.5" x2="615.3" y2="397" stroke="#222" stroke-width="0.9" />
<text x="615.3" y="407.7" font-family='"Liberation Sans", sans-serif' font-size="10.8" text-anchor="middle" textLength="11.9" lengthAdjust="spacingAndGlyphs" fill="#000" stroke="#000" stroke-width="0.22" stroke-opacity="0.6">15</text>
<line x1="647.3" y1="393.5" x2="647.3" y2="397" stroke="#222" stroke-width="0.9" />
<text x="647.3" y="407.7" font-family='"Liberation Sans", sans-serif' font-size="10.8" text-anchor="middle" textLength="11.9" lengthAdjust="spacingAndGlyphs" fill="#000" stroke="#000" stroke-width="0.22" stroke-opacity="0.6">20</text>
<line x1="679.3" y1="393.5" x2="679.3" y2="397" stroke="#222" stroke-width="0.9" />
<text x="679.3" y="407.7" font-family='"Liberation Sans", sans-serif' font-size="10.8" text-anchor="middle" textLength="11.9" lengthAdjust="spacingAndGlyphs" fill="#000" stroke="#000" stroke-width="0.22" stroke-opacity="0.6">25</text>
<polyline points="527.9,374.1 524.9,379.7 527.9,385.3" fill="none" stroke="#111" stroke-width="0.7"/>
<text x="528.9" y="382.3" font-family='"Liberation Serif", serif' font-size="12.0" textLength="8.2" lengthAdjust="spacingAndGlyphs" font-style="italic" fill="#1c1c1c" stroke="#fff" stroke-width="0.12" stroke-opacity="0.7">Z</text>
<text x="537.2" y="384.9" font-family='"Liberation Serif", serif' font-size="9.0" textLength="8.6" lengthAdjust="spacingAndGlyphs" fill="#1c1c1c" >85</text>
<polyline points="547,374.1 550.2,379.7 547,385.3" fill="none" stroke="#111" stroke-width="0.7"/>
<text x="437.3" y="211.2" font-family='"Liberation Serif", serif' font-size="11.7" text-anchor="middle" textLength="64.9" lengthAdjust="spacingAndGlyphs" fill="#1c1c1c" stroke="#fff" stroke-width="0.12" stroke-opacity="0.7">Trotter steps</text>
<text x="598.7" y="211.2" font-family='"Liberation Serif", serif' font-size="11.7" text-anchor="middle" textLength="64.9" lengthAdjust="spacingAndGlyphs" fill="#1c1c1c" stroke="#fff" stroke-width="0.12" stroke-opacity="0.7">Trotter steps</text>
<text x="437.3" y="422.3" font-family='"Liberation Serif", serif' font-size="11.7" text-anchor="middle" textLength="64.9" lengthAdjust="spacingAndGlyphs" fill="#1c1c1c" stroke="#fff" stroke-width="0.12" stroke-opacity="0.7">Trotter steps</text>
<text x="598.7" y="422.3" font-family='"Liberation Serif", serif' font-size="11.7" text-anchor="middle" textLength="64.9" lengthAdjust="spacingAndGlyphs" fill="#1c1c1c" stroke="#fff" stroke-width="0.12" stroke-opacity="0.7">Trotter steps</text>
<g transform="translate(320.4,97.5) rotate(-90)">
<text x="0" y="0" font-family='"Liberation Serif", serif' font-size="11.7" text-anchor="middle" textLength="96.2" lengthAdjust="spacingAndGlyphs" fill="#1c1c1c" stroke="#fff" stroke-width="0.12" stroke-opacity="0.7">Expectation values</text>
</g>
<g transform="translate(320.4,308.7) rotate(-90)">
<text x="0" y="0" font-family='"Liberation Serif", serif' font-size="11.7" text-anchor="middle" textLength="96.2" lengthAdjust="spacingAndGlyphs" fill="#1c1c1c" stroke="#fff" stroke-width="0.12" stroke-opacity="0.7">Expectation values</text>
</g>
<line x1="53.9" y1="135" x2="57.11" y2="135" stroke="#4a924a" stroke-width="0.7" />
<line x1="57.11" y1="135" x2="60.32" y2="135" stroke="#4a924a" stroke-width="0.7" />
<line x1="60.32" y1="135" x2="63.53" y2="135" stroke="#4a924a" stroke-width="0.7" />
<line x1="63.53" y1="135" x2="66.74" y2="135" stroke="#4a924a" stroke-width="0.7" />
<line x1="66.74" y1="135" x2="69.95" y2="135" stroke="#d0d0d0" stroke-width="0.7" />
<line x1="69.95" y1="135" x2="73.16" y2="135" stroke="#d0d0d0" stroke-width="0.7" />
<line x1="73.16" y1="135" x2="76.37" y2="135" stroke="#d0d0d0" stroke-width="0.7" />
<line x1="76.37" y1="135" x2="79.58" y2="135" stroke="#d0d0d0" stroke-width="0.7" />
<line x1="79.58" y1="135" x2="82.79" y2="135" stroke="#4a924a" stroke-width="0.7" />
<line x1="82.79" y1="135" x2="86" y2="135" stroke="#4a924a" stroke-width="0.7" />
<line x1="86" y1="135" x2="89.21" y2="135" stroke="#4a924a" stroke-width="0.7" />
<line x1="89.21" y1="135" x2="92.42" y2="135" stroke="#4a924a" stroke-width="0.7" />
<line x1="92.42" y1="135" x2="95.63" y2="135" stroke="#d0d0d0" stroke-width="0.7" />
<line x1="53.9" y1="135" x2="53.9" y2="138.22" stroke="#4a924a" stroke-width="0.7" />
<line x1="53.9" y1="138.22" x2="53.9" y2="141.45" stroke="#4a924a" stroke-width="0.7" />
<line x1="66.74" y1="135" x2="66.74" y2="138.22" stroke="#4a924a" stroke-width="0.7" />
<line x1="66.74" y1="138.22" x2="66.74" y2="141.45" stroke="#4a924a" stroke-width="0.7" />
<line x1="79.58" y1="135" x2="79.58" y2="138.22" stroke="#4a924a" stroke-width="0.7" />
<line x1="79.58" y1="138.22" x2="79.58" y2="141.45" stroke="#4a924a" stroke-width="0.7" />
<line x1="92.42" y1="135" x2="92.42" y2="138.22" stroke="#4a924a" stroke-width="0.7" />
<line x1="92.42" y1="138.22" x2="92.42" y2="141.45" stroke="#4a924a" stroke-width="0.7" />
<line x1="53.9" y1="141.45" x2="57.11" y2="141.45" stroke="#4a924a" stroke-width="0.7" />
<line x1="57.11" y1="141.45" x2="60.32" y2="141.45" stroke="#4a924a" stroke-width="0.7" />
<line x1="60.32" y1="141.45" x2="63.53" y2="141.45" stroke="#d0d0d0" stroke-width="0.7" />
<line x1="63.53" y1="141.45" x2="66.74" y2="141.45" stroke="#d0d0d0" stroke-width="0.7" />
<line x1="66.74" y1="141.45" x2="69.95" y2="141.45" stroke="#4a924a" stroke-width="0.7" />
<line x1="69.95" y1="141.45" x2="73.16" y2="141.45" stroke="#4a924a" stroke-width="0.7" />
<line x1="73.16" y1="141.45" x2="76.37" y2="141.45" stroke="#4a924a" stroke-width="0.7" />
<line x1="76.37" y1="141.45" x2="79.58" y2="141.45" stroke="#4a924a" stroke-width="0.7" />
<line x1="79.58" y1="141.45" x2="82.79" y2="141.45" stroke="#d0d0d0" stroke-width="0.7" />
<line x1="82.79" y1="141.45" x2="86" y2="141.45" stroke="#d0d0d0" stroke-width="0.7" />
<line x1="86" y1="141.45" x2="89.21" y2="141.45" stroke="#d0d0d0" stroke-width="0.7" />
<line x1="89.21" y1="141.45" x2="92.42" y2="141.45" stroke="#d0d0d0" stroke-width="0.7" />
<line x1="92.42" y1="141.45" x2="95.63" y2="141.45" stroke="#4a924a" stroke-width="0.7" />
<line x1="95.63" y1="141.45" x2="98.84" y2="141.45" stroke="#4a924a" stroke-width="0.7" />
<line x1="60.32" y1="141.45" x2="60.32" y2="144.68" stroke="#4a924a" stroke-width="0.7" />
<line x1="60.32" y1="144.68" x2="60.32" y2="147.9" stroke="#4a924a" stroke-width="0.7" />
<line x1="73.16" y1="141.45" x2="73.16" y2="144.68" stroke="#d0d0d0" stroke-width="0.7" />
<line x1="73.16" y1="144.68" x2="73.16" y2="147.9" stroke="#d0d0d0" stroke-width="0.7" />
<line x1="86" y1="141.45" x2="86" y2="144.68" stroke="#d0d0d0" stroke-width="0.7" />
<line x1="86" y1="144.68" x2="86" y2="147.9" stroke="#d0d0d0" stroke-width="0.7" />
<line x1="98.84" y1="141.45" x2="98.84" y2="144.68" stroke="#4a924a" stroke-width="0.7" />
<line x1="98.84" y1="144.68" x2="98.84" y2="147.9" stroke="#4a924a" stroke-width="0.7" />
<line x1="53.9" y1="147.9" x2="57.11" y2="147.9" stroke="#4a924a" stroke-width="0.7" />
<line x1="57.11" y1="147.9" x2="60.32" y2="147.9" stroke="#4a924a" stroke-width="0.7" />
<line x1="60.32" y1="147.9" x2="63.53" y2="147.9" stroke="#d0d0d0" stroke-width="0.7" />
<line x1="63.53" y1="147.9" x2="66.74" y2="147.9" stroke="#d0d0d0" stroke-width="0.7" />
<line x1="66.74" y1="147.9" x2="69.95" y2="147.9" stroke="#4a924a" stroke-width="0.7" />
<line x1="69.95" y1="147.9" x2="73.16" y2="147.9" stroke="#4a924a" stroke-width="0.7" />
<line x1="73.16" y1="147.9" x2="76.37" y2="147.9" stroke="#4a924a" stroke-width="0.7" />
<line x1="76.37" y1="147.9" x2="79.58" y2="147.9" stroke="#4a924a" stroke-width="0.7" />
<line x1="79.58" y1="147.9" x2="82.79" y2="147.9" stroke="#d0d0d0" stroke-width="0.7" />
<line x1="82.79" y1="147.9" x2="86" y2="147.9" stroke="#d0d0d0" stroke-width="0.7" />
<line x1="86" y1="147.9" x2="89.21" y2="147.9" stroke="#d0d0d0" stroke-width="0.7" />
<line x1="89.21" y1="147.9" x2="92.42" y2="147.9" stroke="#d0d0d0" stroke-width="0.7" />
<line x1="92.42" y1="147.9" x2="95.63" y2="147.9" stroke="#4a924a" stroke-width="0.7" />
<line x1="95.63" y1="147.9" x2="98.84" y2="147.9" stroke="#4a924a" stroke-width="0.7" />
<line x1="53.9" y1="147.9" x2="53.9" y2="151.12" stroke="#4a924a" stroke-width="0.7" />
<line x1="53.9" y1="151.12" x2="53.9" y2="154.35" stroke="#4a924a" stroke-width="0.7" />
<line x1="66.74" y1="147.9" x2="66.74" y2="151.12" stroke="#4a924a" stroke-width="0.7" />
<line x1="66.74" y1="151.12" x2="66.74" y2="154.35" stroke="#4a924a" stroke-width="0.7" />
<line x1="79.58" y1="147.9" x2="79.58" y2="151.12" stroke="#4a924a" stroke-width="0.7" />
<line x1="79.58" y1="151.12" x2="79.58" y2="154.35" stroke="#4a924a" stroke-width="0.7" />
<line x1="92.42" y1="147.9" x2="92.42" y2="151.12" stroke="#4a924a" stroke-width="0.7" />
<line x1="92.42" y1="151.12" x2="92.42" y2="154.35" stroke="#4a924a" stroke-width="0.7" />
<line x1="53.9" y1="154.35" x2="57.11" y2="154.35" stroke="#4a924a" stroke-width="0.7" />
<line x1="57.11" y1="154.35" x2="60.32" y2="154.35" stroke="#4a924a" stroke-width="0.7" />
<line x1="60.32" y1="154.35" x2="63.53" y2="154.35" stroke="#4a924a" stroke-width="0.7" />
<line x1="63.53" y1="154.35" x2="66.74" y2="154.35" stroke="#4a924a" stroke-width="0.7" />
<line x1="66.74" y1="154.35" x2="69.95" y2="154.35" stroke="#d0d0d0" stroke-width="0.7" />
<line x1="69.95" y1="154.35" x2="73.16" y2="154.35" stroke="#d0d0d0" stroke-width="0.7" />
<line x1="73.16" y1="154.35" x2="76.37" y2="154.35" stroke="#4a924a" stroke-width="0.7" />
<line x1="76.37" y1="154.35" x2="79.58" y2="154.35" stroke="#4a924a" stroke-width="0.7" />
<line x1="79.58" y1="154.35" x2="82.79" y2="154.35" stroke="#d0d0d0" stroke-width="0.7" />
<line x1="82.79" y1="154.35" x2="86" y2="154.35" stroke="#d0d0d0" stroke-width="0.7" />
<line x1="86" y1="154.35" x2="89.21" y2="154.35" stroke="#d0d0d0" stroke-width="0.7" />
<line x1="89.21" y1="154.35" x2="92.42" y2="154.35" stroke="#d0d0d0" stroke-width="0.7" />
<line x1="92.42" y1="154.35" x2="95.63" y2="154.35" stroke="#4a924a" stroke-width="0.7" />
<line x1="95.63" y1="154.35" x2="98.84" y2="154.35" stroke="#4a924a" stroke-width="0.7" />
<line x1="60.32" y1="154.35" x2="60.32" y2="157.57" stroke="#d0d0d0" stroke-width="0.7" />
<line x1="60.32" y1="157.57" x2="60.32" y2="160.8" stroke="#d0d0d0" stroke-width="0.7" />
<line x1="73.16" y1="154.35" x2="73.16" y2="157.57" stroke="#4a924a" stroke-width="0.7" />
<line x1="73.16" y1="157.57" x2="73.16" y2="160.8" stroke="#d0d0d0" stroke-width="0.7" />
<line x1="86" y1="154.35" x2="86" y2="157.57" stroke="#d0d0d0" stroke-width="0.7" />
<line x1="86" y1="157.57" x2="86" y2="160.8" stroke="#d0d0d0" stroke-width="0.7" />
<line x1="98.84" y1="154.35" x2="98.84" y2="157.57" stroke="#4a924a" stroke-width="0.7" />
<line x1="98.84" y1="157.57" x2="98.84" y2="160.8" stroke="#4a924a" stroke-width="0.7" />
<line x1="53.9" y1="160.8" x2="57.11" y2="160.8" stroke="#d0d0d0" stroke-width="0.7" />
<line x1="57.11" y1="160.8" x2="60.32" y2="160.8" stroke="#d0d0d0" stroke-width="0.7" />
<line x1="60.32" y1="160.8" x2="63.53" y2="160.8" stroke="#d0d0d0" stroke-width="0.7" />
<line x1="63.53" y1="160.8" x2="66.74" y2="160.8" stroke="#d0d0d0" stroke-width="0.7" />
<line x1="66.74" y1="160.8" x2="69.95" y2="160.8" stroke="#d0d0d0" stroke-width="0.7" />
<line x1="69.95" y1="160.8" x2="73.16" y2="160.8" stroke="#d0d0d0" stroke-width="0.7" />
<line x1="73.16" y1="160.8" x2="76.37" y2="160.8" stroke="#d0d0d0" stroke-width="0.7" />
<line x1="76.37" y1="160.8" x2="79.58" y2="160.8" stroke="#d0d0d0" stroke-width="0.7" />
<line x1="79.58" y1="160.8" x2="82.79" y2="160.8" stroke="#4a924a" stroke-width="0.7" />
<line x1="82.79" y1="160.8" x2="86" y2="160.8" stroke="#4a924a" stroke-width="0.7" />
<line x1="86" y1="160.8" x2="89.21" y2="160.8" stroke="#4a924a" stroke-width="0.7" />
<line x1="89.21" y1="160.8" x2="92.42" y2="160.8" stroke="#4a924a" stroke-width="0.7" />
<line x1="92.42" y1="160.8" x2="95.63" y2="160.8" stroke="#4a924a" stroke-width="0.7" />
<line x1="95.63" y1="160.8" x2="98.84" y2="160.8" stroke="#4a924a" stroke-width="0.7" />
<line x1="53.9" y1="160.8" x2="53.9" y2="164.03" stroke="#d0d0d0" stroke-width="0.7" />
<line x1="53.9" y1="164.03" x2="53.9" y2="167.25" stroke="#d0d0d0" stroke-width="0.7" />
<line x1="66.74" y1="160.8" x2="66.74" y2="164.03" stroke="#d0d0d0" stroke-width="0.7" />
<line x1="66.74" y1="164.03" x2="66.74" y2="167.25" stroke="#d0d0d0" stroke-width="0.7" />
<line x1="79.58" y1="160.8" x2="79.58" y2="164.03" stroke="#4a924a" stroke-width="0.7" />
<line x1="79.58" y1="164.03" x2="79.58" y2="167.25" stroke="#4a924a" stroke-width="0.7" />
<line x1="92.42" y1="160.8" x2="92.42" y2="164.03" stroke="#d0d0d0" stroke-width="0.7" />
<line x1="92.42" y1="164.03" x2="92.42" y2="167.25" stroke="#d0d0d0" stroke-width="0.7" />
<line x1="53.9" y1="167.25" x2="57.11" y2="167.25" stroke="#d0d0d0" stroke-width="0.7" />
<line x1="57.11" y1="167.25" x2="60.32" y2="167.25" stroke="#d0d0d0" stroke-width="0.7" />
<line x1="60.32" y1="167.25" x2="63.53" y2="167.25" stroke="#d0d0d0" stroke-width="0.7" />
<line x1="63.53" y1="167.25" x2="66.74" y2="167.25" stroke="#d0d0d0" stroke-width="0.7" />
<line x1="66.74" y1="167.25" x2="69.95" y2="167.25" stroke="#d0d0d0" stroke-width="0.7" />
<line x1="69.95" y1="167.25" x2="73.16" y2="167.25" stroke="#d0d0d0" stroke-width="0.7" />
<line x1="73.16" y1="167.25" x2="76.37" y2="167.25" stroke="#d0d0d0" stroke-width="0.7" />
<line x1="76.37" y1="167.25" x2="79.58" y2="167.25" stroke="#d0d0d0" stroke-width="0.7" />
<line x1="79.58" y1="167.25" x2="82.79" y2="167.25" stroke="#4a924a" stroke-width="0.7" />
<line x1="82.79" y1="167.25" x2="86" y2="167.25" stroke="#4a924a" stroke-width="0.7" />
<line x1="86" y1="167.25" x2="89.21" y2="167.25" stroke="#d0d0d0" stroke-width="0.7" />
<line x1="89.21" y1="167.25" x2="92.42" y2="167.25" stroke="#d0d0d0" stroke-width="0.7" />
<line x1="92.42" y1="167.25" x2="95.63" y2="167.25" stroke="#d0d0d0" stroke-width="0.7" />
<line x1="95.63" y1="167.25" x2="98.84" y2="167.25" stroke="#d0d0d0" stroke-width="0.7" />
<line x1="60.32" y1="167.25" x2="60.32" y2="170.47" stroke="#d0d0d0" stroke-width="0.7" />
<line x1="60.32" y1="170.47" x2="60.32" y2="173.7" stroke="#d0d0d0" stroke-width="0.7" />
<line x1="73.16" y1="167.25" x2="73.16" y2="170.47" stroke="#d0d0d0" stroke-width="0.7" />
<line x1="73.16" y1="170.47" x2="73.16" y2="173.7" stroke="#d0d0d0" stroke-width="0.7" />
<line x1="86" y1="167.25" x2="86" y2="170.47" stroke="#4a924a" stroke-width="0.7" />
<line x1="86" y1="170.47" x2="86" y2="173.7" stroke="#4a924a" stroke-width="0.7" />
<line x1="98.84" y1="167.25" x2="98.84" y2="170.47" stroke="#d0d0d0" stroke-width="0.7" />
<line x1="98.84" y1="170.47" x2="98.84" y2="173.7" stroke="#d0d0d0" stroke-width="0.7" />
<line x1="57.11" y1="173.7" x2="60.32" y2="173.7" stroke="#d0d0d0" stroke-width="0.7" />
<line x1="60.32" y1="173.7" x2="63.53" y2="173.7" stroke="#d0d0d0" stroke-width="0.7" />
<line x1="63.53" y1="173.7" x2="66.74" y2="173.7" stroke="#4a924a" stroke-width="0.7" />
<line x1="66.74" y1="173.7" x2="69.95" y2="173.7" stroke="#4a924a" stroke-width="0.7" />
<line x1="69.95" y1="173.7" x2="73.16" y2="173.7" stroke="#4a924a" stroke-width="0.7" />
<line x1="73.16" y1="173.7" x2="76.37" y2="173.7" stroke="#4a924a" stroke-width="0.7" />
<line x1="76.37" y1="173.7" x2="79.58" y2="173.7" stroke="#4a924a" stroke-width="0.7" />
<line x1="79.58" y1="173.7" x2="82.79" y2="173.7" stroke="#4a924a" stroke-width="0.7" />
<line x1="82.79" y1="173.7" x2="86" y2="173.7" stroke="#4a924a" stroke-width="0.7" />
<line x1="86" y1="173.7" x2="89.21" y2="173.7" stroke="#d0d0d0" stroke-width="0.7" />
<line x1="89.21" y1="173.7" x2="92.42" y2="173.7" stroke="#d0d0d0" stroke-width="0.7" />
<line x1="92.42" y1="173.7" x2="95.63" y2="173.7" stroke="#d0d0d0" stroke-width="0.7" />
<line x1="95.63" y1="173.7" x2="98.84" y2="173.7" stroke="#d0d0d0" stroke-width="0.7" />
<circle cx="53.9" cy="135" r="1.05" fill="#34963a"/>
<circle cx="57.11" cy="135" r="1.05" fill="#34963a"/>
<circle cx="60.32" cy="135" r="1.05" fill="#34963a"/>
<circle cx="63.53" cy="135" r="1.05" fill="#c81414"/>
<circle cx="66.74" cy="135" r="1.05" fill="#34963a"/>
<circle cx="69.95" cy="135" r="1.05" fill="#c8c8c8"/>
<circle cx="73.16" cy="135" r="1.05" fill="#c8c8c8"/>
<circle cx="76.37" cy="135" r="1.05" fill="#c8c8c8"/>
<circle cx="79.58" cy="135" r="1.05" fill="#34963a"/>
<circle cx="82.79" cy="135" r="1.05" fill="#c81414"/>
<circle cx="86" cy="135" r="1.05" fill="#34963a"/>
<circle cx="89.21" cy="135" r="1.05" fill="#34963a"/>
<circle cx="92.42" cy="135" r="1.05" fill="#34963a"/>
<circle cx="95.63" cy="135" r="1.05" fill="#c8c8c8"/>
<circle cx="53.9" cy="138.22" r="1.05" fill="#34963a"/>
<circle cx="66.74" cy="138.22" r="1.05" fill="#34963a"/>
<circle cx="79.58" cy="138.22" r="1.05" fill="#34963a"/>
<circle cx="92.42" cy="138.22" r="1.05" fill="#34963a"/>
<circle cx="53.9" cy="141.45" r="1.05" fill="#34963a"/>
<circle cx="57.11" cy="141.45" r="1.05" fill="#34963a"/>
<circle cx="60.32" cy="141.45" r="1.05" fill="#34963a"/>
<circle cx="63.53" cy="141.45" r="1.05" fill="#c8c8c8"/>
<circle cx="66.74" cy="141.45" r="1.05" fill="#34963a"/>
<circle cx="69.95" cy="141.45" r="1.05" fill="#34963a"/>
<circle cx="73.16" cy="141.45" r="1.05" fill="#34963a"/>
<circle cx="76.37" cy="141.45" r="1.05" fill="#34963a"/>
<circle cx="79.58" cy="141.45" r="1.05" fill="#34963a"/>
<circle cx="82.79" cy="141.45" r="1.05" fill="#c8c8c8"/>
<circle cx="86" cy="141.45" r="1.05" fill="#c8c8c8"/>
<circle cx="89.21" cy="141.45" r="1.05" fill="#c8c8c8"/>
<circle cx="92.42" cy="141.45" r="1.05" fill="#34963a"/>
<circle cx="95.63" cy="141.45" r="1.05" fill="#34963a"/>
<circle cx="98.84" cy="141.45" r="1.05" fill="#34963a"/>
<circle cx="60.32" cy="144.68" r="1.05" fill="#34963a"/>
<circle cx="73.16" cy="144.68" r="1.05" fill="#c8c8c8"/>
<circle cx="86" cy="144.68" r="1.05" fill="#c8c8c8"/>
<circle cx="98.84" cy="144.68" r="1.05" fill="#34963a"/>
<circle cx="53.9" cy="147.9" r="1.05" fill="#34963a"/>
<circle cx="57.11" cy="147.9" r="1.05" fill="#34963a"/>
<circle cx="60.32" cy="147.9" r="1.05" fill="#c81414"/>
<circle cx="63.53" cy="147.9" r="1.05" fill="#c8c8c8"/>
<circle cx="66.74" cy="147.9" r="1.05" fill="#c81414"/>
<circle cx="69.95" cy="147.9" r="1.05" fill="#34963a"/>
<circle cx="73.16" cy="147.9" r="1.05" fill="#34963a"/>
<circle cx="76.37" cy="147.9" r="1.05" fill="#34963a"/>
<circle cx="79.58" cy="147.9" r="1.05" fill="#34963a"/>
<circle cx="82.79" cy="147.9" r="1.05" fill="#c8c8c8"/>
<circle cx="86" cy="147.9" r="1.05" fill="#c8c8c8"/>
<circle cx="89.21" cy="147.9" r="1.05" fill="#c8c8c8"/>
<circle cx="92.42" cy="147.9" r="1.05" fill="#34963a"/>
<circle cx="95.63" cy="147.9" r="1.05" fill="#34963a"/>
<circle cx="98.84" cy="147.9" r="1.05" fill="#c81414"/>
<circle cx="53.9" cy="151.12" r="1.05" fill="#34963a"/>
<circle cx="66.74" cy="151.12" r="1.05" fill="#34963a"/>
<circle cx="79.58" cy="151.12" r="1.05" fill="#34963a"/>
<circle cx="92.42" cy="151.12" r="1.05" fill="#34963a"/>
<circle cx="53.9" cy="154.35" r="1.05" fill="#34963a"/>
<circle cx="57.11" cy="154.35" r="1.05" fill="#34963a"/>
<circle cx="60.32" cy="154.35" r="1.05" fill="#34963a"/>
<circle cx="63.53" cy="154.35" r="1.05" fill="#34963a"/>
<circle cx="66.74" cy="154.35" r="1.05" fill="#34963a"/>
<circle cx="69.95" cy="154.35" r="1.05" fill="#c8c8c8"/>
<circle cx="73.16" cy="154.35" r="1.05" fill="#34963a"/>
<circle cx="76.37" cy="154.35" r="1.05" fill="#34963a"/>
<circle cx="79.58" cy="154.35" r="1.05" fill="#34963a"/>
<circle cx="82.79" cy="154.35" r="1.05" fill="#c8c8c8"/>
<circle cx="86" cy="154.35" r="1.05" fill="#c8c8c8"/>
<circle cx="89.21" cy="154.35" r="1.05" fill="#c8c8c8"/>
<circle cx="92.42" cy="154.35" r="1.05" fill="#34963a"/>
<circle cx="95.63" cy="154.35" r="1.05" fill="#34963a"/>
<circle cx="98.84" cy="154.35" r="1.05" fill="#34963a"/>
<circle cx="60.32" cy="157.57" r="1.05" fill="#c8c8c8"/>
<circle cx="73.16" cy="157.57" r="1.05" fill="#34963a"/>
<circle cx="86" cy="157.57" r="1.05" fill="#c8c8c8"/>
<circle cx="98.84" cy="157.57" r="1.05" fill="#34963a"/>
<circle cx="53.9" cy="160.8" r="1.05" fill="#c8c8c8"/>
<circle cx="57.11" cy="160.8" r="1.05" fill="#c8c8c8"/>
<circle cx="60.32" cy="160.8" r="1.05" fill="#c8c8c8"/>
<circle cx="63.53" cy="160.8" r="1.05" fill="#c8c8c8"/>
<circle cx="66.74" cy="160.8" r="1.05" fill="#c8c8c8"/>
<circle cx="69.95" cy="160.8" r="1.05" fill="#c8c8c8"/>
<circle cx="73.16" cy="160.8" r="1.05" fill="#c8c8c8"/>
<circle cx="76.37" cy="160.8" r="1.05" fill="#c8c8c8"/>
<circle cx="79.58" cy="160.8" r="1.05" fill="#34963a"/>
<circle cx="82.79" cy="160.8" r="1.05" fill="#34963a"/>
<circle cx="86" cy="160.8" r="1.05" fill="#34963a"/>
<circle cx="89.21" cy="160.8" r="1.05" fill="#34963a"/>
<circle cx="92.42" cy="160.8" r="1.05" fill="#34963a"/>
<circle cx="95.63" cy="160.8" r="1.05" fill="#c81414"/>
<circle cx="98.84" cy="160.8" r="1.05" fill="#34963a"/>
<circle cx="53.9" cy="164.03" r="1.05" fill="#c8c8c8"/>
<circle cx="66.74" cy="164.03" r="1.05" fill="#c8c8c8"/>
<circle cx="79.58" cy="164.03" r="1.05" fill="#34963a"/>
<circle cx="92.42" cy="164.03" r="1.05" fill="#c8c8c8"/>
<circle cx="53.9" cy="167.25" r="1.05" fill="#c8c8c8"/>
<circle cx="57.11" cy="167.25" r="1.05" fill="#c8c8c8"/>
<circle cx="60.32" cy="167.25" r="1.05" fill="#c8c8c8"/>
<circle cx="63.53" cy="167.25" r="1.05" fill="#c8c8c8"/>
<circle cx="66.74" cy="167.25" r="1.05" fill="#c8c8c8"/>
<circle cx="69.95" cy="167.25" r="1.05" fill="#c8c8c8"/>
<circle cx="73.16" cy="167.25" r="1.05" fill="#c8c8c8"/>
<circle cx="76.37" cy="167.25" r="1.05" fill="#c8c8c8"/>
<circle cx="79.58" cy="167.25" r="1.05" fill="#34963a"/>
<circle cx="82.79" cy="167.25" r="1.05" fill="#34963a"/>
<circle cx="86" cy="167.25" r="1.05" fill="#34963a"/>
<circle cx="89.21" cy="167.25" r="1.05" fill="#c8c8c8"/>
<circle cx="92.42" cy="167.25" r="1.05" fill="#c8c8c8"/>
<circle cx="95.63" cy="167.25" r="1.05" fill="#c8c8c8"/>
<circle cx="98.84" cy="167.25" r="1.05" fill="#c8c8c8"/>
<circle cx="60.32" cy="170.47" r="1.05" fill="#c8c8c8"/>
<circle cx="73.16" cy="170.47" r="1.05" fill="#c8c8c8"/>
<circle cx="86" cy="170.47" r="1.05" fill="#c81414"/>
<circle cx="98.84" cy="170.47" r="1.05" fill="#c8c8c8"/>
<circle cx="57.11" cy="173.7" r="1.05" fill="#c8c8c8"/>
<circle cx="60.32" cy="173.7" r="1.05" fill="#c8c8c8"/>
<circle cx="63.53" cy="173.7" r="1.05" fill="#34963a"/>
<circle cx="66.74" cy="173.7" r="1.05" fill="#34963a"/>
<circle cx="69.95" cy="173.7" r="1.05" fill="#34963a"/>
<circle cx="73.16" cy="173.7" r="1.05" fill="#34963a"/>
<circle cx="76.37" cy="173.7" r="1.05" fill="#34963a"/>
<circle cx="79.58" cy="173.7" r="1.05" fill="#34963a"/>
<circle cx="82.79" cy="173.7" r="1.05" fill="#34963a"/>
<circle cx="86" cy="173.7" r="1.05" fill="#34963a"/>
<circle cx="89.21" cy="173.7" r="1.05" fill="#c8c8c8"/>
<circle cx="92.42" cy="173.7" r="1.05" fill="#c8c8c8"/>
<circle cx="95.63" cy="173.7" r="1.05" fill="#c8c8c8"/>
<circle cx="98.84" cy="173.7" r="1.05" fill="#c8c8c8"/>
<line x1="53.6" y1="345.1" x2="56.83" y2="345.1" stroke="#4a924a" stroke-width="0.7" />
<line x1="56.83" y1="345.1" x2="60.06" y2="345.1" stroke="#4a924a" stroke-width="0.7" />
<line x1="60.06" y1="345.1" x2="63.29" y2="345.1" stroke="#4a924a" stroke-width="0.7" />
<line x1="63.29" y1="345.1" x2="66.52" y2="345.1" stroke="#4a924a" stroke-width="0.7" />
<line x1="66.52" y1="345.1" x2="69.75" y2="345.1" stroke="#4a924a" stroke-width="0.7" />
<line x1="69.75" y1="345.1" x2="72.98" y2="345.1" stroke="#4a924a" stroke-width="0.7" />
<line x1="72.98" y1="345.1" x2="76.21" y2="345.1" stroke="#4a924a" stroke-width="0.7" />
<line x1="76.21" y1="345.1" x2="79.44" y2="345.1" stroke="#4a924a" stroke-width="0.7" />
<line x1="79.44" y1="345.1" x2="82.67" y2="345.1" stroke="#4a924a" stroke-width="0.7" />
<line x1="82.67" y1="345.1" x2="85.9" y2="345.1" stroke="#4a924a" stroke-width="0.7" />
<line x1="85.9" y1="345.1" x2="89.13" y2="345.1" stroke="#4a924a" stroke-width="0.7" />
<line x1="89.13" y1="345.1" x2="92.36" y2="345.1" stroke="#4a924a" stroke-width="0.7" />
<line x1="92.36" y1="345.1" x2="95.59" y2="345.1" stroke="#4a924a" stroke-width="0.7" />
<line x1="53.6" y1="345.1" x2="53.6" y2="348.35" stroke="#4a924a" stroke-width="0.7" />
<line x1="53.6" y1="348.35" x2="53.6" y2="351.6" stroke="#4a924a" stroke-width="0.7" />
<line x1="66.52" y1="345.1" x2="66.52" y2="348.35" stroke="#4a924a" stroke-width="0.7" />
<line x1="66.52" y1="348.35" x2="66.52" y2="351.6" stroke="#4a924a" stroke-width="0.7" />
<line x1="79.44" y1="345.1" x2="79.44" y2="348.35" stroke="#4a924a" stroke-width="0.7" />
<line x1="79.44" y1="348.35" x2="79.44" y2="351.6" stroke="#4a924a" stroke-width="0.7" />
<line x1="92.36" y1="345.1" x2="92.36" y2="348.35" stroke="#4a924a" stroke-width="0.7" />
<line x1="92.36" y1="348.35" x2="92.36" y2="351.6" stroke="#4a924a" stroke-width="0.7" />
<line x1="53.6" y1="351.6" x2="56.83" y2="351.6" stroke="#4a924a" stroke-width="0.7" />
<line x1="56.83" y1="351.6" x2="60.06" y2="351.6" stroke="#4a924a" stroke-width="0.7" />
<line x1="60.06" y1="351.6" x2="63.29" y2="351.6" stroke="#4a924a" stroke-width="0.7" />
<line x1="63.29" y1="351.6" x2="66.52" y2="351.6" stroke="#4a924a" stroke-width="0.7" />
<line x1="66.52" y1="351.6" x2="69.75" y2="351.6" stroke="#4a924a" stroke-width="0.7" />
<line x1="69.75" y1="351.6" x2="72.98" y2="351.6" stroke="#4a924a" stroke-width="0.7" />
<line x1="72.98" y1="351.6" x2="76.21" y2="351.6" stroke="#4a924a" stroke-width="0.7" />
<line x1="76.21" y1="351.6" x2="79.44" y2="351.6" stroke="#4a924a" stroke-width="0.7" />
<line x1="79.44" y1="351.6" x2="82.67" y2="351.6" stroke="#4a924a" stroke-width="0.7" />
<line x1="82.67" y1="351.6" x2="85.9" y2="351.6" stroke="#4a924a" stroke-width="0.7" />
<line x1="85.9" y1="351.6" x2="89.13" y2="351.6" stroke="#4a924a" stroke-width="0.7" />
<line x1="89.13" y1="351.6" x2="92.36" y2="351.6" stroke="#4a924a" stroke-width="0.7" />
<line x1="92.36" y1="351.6" x2="95.59" y2="351.6" stroke="#4a924a" stroke-width="0.7" />
<line x1="95.59" y1="351.6" x2="98.82" y2="351.6" stroke="#4a924a" stroke-width="0.7" />
<line x1="60.06" y1="351.6" x2="60.06" y2="354.85" stroke="#4a924a" stroke-width="0.7" />
<line x1="60.06" y1="354.85" x2="60.06" y2="358.1" stroke="#4a924a" stroke-width="0.7" />
<line x1="72.98" y1="351.6" x2="72.98" y2="354.85" stroke="#4a924a" stroke-width="0.7" />
<line x1="72.98" y1="354.85" x2="72.98" y2="358.1" stroke="#4a924a" stroke-width="0.7" />
<line x1="85.9" y1="351.6" x2="85.9" y2="354.85" stroke="#4a924a" stroke-width="0.7" />
<line x1="85.9" y1="354.85" x2="85.9" y2="358.1" stroke="#4a924a" stroke-width="0.7" />
<line x1="98.82" y1="351.6" x2="98.82" y2="354.85" stroke="#4a924a" stroke-width="0.7" />
<line x1="98.82" y1="354.85" x2="98.82" y2="358.1" stroke="#4a924a" stroke-width="0.7" />
<line x1="53.6" y1="358.1" x2="56.83" y2="358.1" stroke="#4a924a" stroke-width="0.7" />
<line x1="56.83" y1="358.1" x2="60.06" y2="358.1" stroke="#4a924a" stroke-width="0.7" />
<line x1="60.06" y1="358.1" x2="63.29" y2="358.1" stroke="#4a924a" stroke-width="0.7" />
<line x1="63.29" y1="358.1" x2="66.52" y2="358.1" stroke="#4a924a" stroke-width="0.7" />
<line x1="66.52" y1="358.1" x2="69.75" y2="358.1" stroke="#4a924a" stroke-width="0.7" />
<line x1="69.75" y1="358.1" x2="72.98" y2="358.1" stroke="#4a924a" stroke-width="0.7" />
<line x1="72.98" y1="358.1" x2="76.21" y2="358.1" stroke="#4a924a" stroke-width="0.7" />
<line x1="76.21" y1="358.1" x2="79.44" y2="358.1" stroke="#4a924a" stroke-width="0.7" />
<line x1="79.44" y1="358.1" x2="82.67" y2="358.1" stroke="#4a924a" stroke-width="0.7" />
<line x1="82.67" y1="358.1" x2="85.9" y2="358.1" stroke="#4a924a" stroke-width="0.7" />
<line x1="85.9" y1="358.1" x2="89.13" y2="358.1" stroke="#4a924a" stroke-width="0.7" />
<line x1="89.13" y1="358.1" x2="92.36" y2="358.1" stroke="#4a924a" stroke-width="0.7" />
<line x1="92.36" y1="358.1" x2="95.59" y2="358.1" stroke="#4a924a" stroke-width="0.7" />
<line x1="95.59" y1="358.1" x2="98.82" y2="358.1" stroke="#4a924a" stroke-width="0.7" />
<line x1="53.6" y1="358.1" x2="53.6" y2="361.35" stroke="#4a924a" stroke-width="0.7" />
<line x1="53.6" y1="361.35" x2="53.6" y2="364.6" stroke="#4a924a" stroke-width="0.7" />
<line x1="66.52" y1="358.1" x2="66.52" y2="361.35" stroke="#4a924a" stroke-width="0.7" />
<line x1="66.52" y1="361.35" x2="66.52" y2="364.6" stroke="#4a924a" stroke-width="0.7" />
<line x1="79.44" y1="358.1" x2="79.44" y2="361.35" stroke="#4a924a" stroke-width="0.7" />
<line x1="79.44" y1="361.35" x2="79.44" y2="364.6" stroke="#4a924a" stroke-width="0.7" />
<line x1="92.36" y1="358.1" x2="92.36" y2="361.35" stroke="#4a924a" stroke-width="0.7" />
<line x1="92.36" y1="361.35" x2="92.36" y2="364.6" stroke="#4a924a" stroke-width="0.7" />
<line x1="53.6" y1="364.6" x2="56.83" y2="364.6" stroke="#4a924a" stroke-width="0.7" />
<line x1="56.83" y1="364.6" x2="60.06" y2="364.6" stroke="#4a924a" stroke-width="0.7" />
<line x1="60.06" y1="364.6" x2="63.29" y2="364.6" stroke="#4a924a" stroke-width="0.7" />
<line x1="63.29" y1="364.6" x2="66.52" y2="364.6" stroke="#4a924a" stroke-width="0.7" />
<line x1="66.52" y1="364.6" x2="69.75" y2="364.6" stroke="#4a924a" stroke-width="0.7" />
<line x1="69.75" y1="364.6" x2="72.98" y2="364.6" stroke="#4a924a" stroke-width="0.7" />
<line x1="72.98" y1="364.6" x2="76.21" y2="364.6" stroke="#c82020" stroke-width="0.7" />
<line x1="76.21" y1="364.6" x2="79.44" y2="364.6" stroke="#c82020" stroke-width="0.7" />
<line x1="79.44" y1="364.6" x2="82.67" y2="364.6" stroke="#c82020" stroke-width="0.7" />
<line x1="82.67" y1="364.6" x2="85.9" y2="364.6" stroke="#c82020" stroke-width="0.7" />
<line x1="85.9" y1="364.6" x2="89.13" y2="364.6" stroke="#4a924a" stroke-width="0.7" />
<line x1="89.13" y1="364.6" x2="92.36" y2="364.6" stroke="#4a924a" stroke-width="0.7" />
<line x1="92.36" y1="364.6" x2="95.59" y2="364.6" stroke="#4a924a" stroke-width="0.7" />
<line x1="95.59" y1="364.6" x2="98.82" y2="364.6" stroke="#4a924a" stroke-width="0.7" />
<line x1="60.06" y1="364.6" x2="60.06" y2="367.85" stroke="#4a924a" stroke-width="0.7" />
<line x1="60.06" y1="367.85" x2="60.06" y2="371.1" stroke="#4a924a" stroke-width="0.7" />
<line x1="72.98" y1="364.6" x2="72.98" y2="367.85" stroke="#4a924a" stroke-width="0.7" />
<line x1="72.98" y1="367.85" x2="72.98" y2="371.1" stroke="#4a924a" stroke-width="0.7" />
<line x1="85.9" y1="364.6" x2="85.9" y2="367.85" stroke="#c82020" stroke-width="0.7" />
<line x1="85.9" y1="367.85" x2="85.9" y2="371.1" stroke="#4a924a" stroke-width="0.7" />
<line x1="98.82" y1="364.6" x2="98.82" y2="367.85" stroke="#4a924a" stroke-width="0.7" />
<line x1="98.82" y1="367.85" x2="98.82" y2="371.1" stroke="#4a924a" stroke-width="0.7" />
<line x1="53.6" y1="371.1" x2="56.83" y2="371.1" stroke="#4a924a" stroke-width="0.7" />
<line x1="56.83" y1="371.1" x2="60.06" y2="371.1" stroke="#4a924a" stroke-width="0.7" />
<line x1="60.06" y1="371.1" x2="63.29" y2="371.1" stroke="#4a924a" stroke-width="0.7" />
<line x1="63.29" y1="371.1" x2="66.52" y2="371.1" stroke="#4a924a" stroke-width="0.7" />
<line x1="66.52" y1="371.1" x2="69.75" y2="371.1" stroke="#4a924a" stroke-width="0.7" />
<line x1="69.75" y1="371.1" x2="72.98" y2="371.1" stroke="#4a924a" stroke-width="0.7" />
<line x1="72.98" y1="371.1" x2="76.21" y2="371.1" stroke="#4a924a" stroke-width="0.7" />
<line x1="76.21" y1="371.1" x2="79.44" y2="371.1" stroke="#4a924a" stroke-width="0.7" />
<line x1="79.44" y1="371.1" x2="82.67" y2="371.1" stroke="#4a924a" stroke-width="0.7" />
<line x1="82.67" y1="371.1" x2="85.9" y2="371.1" stroke="#4a924a" stroke-width="0.7" />
<line x1="85.9" y1="371.1" x2="89.13" y2="371.1" stroke="#4a924a" stroke-width="0.7" />
<line x1="89.13" y1="371.1" x2="92.36" y2="371.1" stroke="#4a924a" stroke-width="0.7" />
<line x1="92.36" y1="371.1" x2="95.59" y2="371.1" stroke="#4a924a" stroke-width="0.7" />
<line x1="95.59" y1="371.1" x2="98.82" y2="371.1" stroke="#4a924a" stroke-width="0.7" />
<line x1="53.6" y1="371.1" x2="53.6" y2="374.35" stroke="#4a924a" stroke-width="0.7" />
<line x1="53.6" y1="374.35" x2="53.6" y2="377.6" stroke="#4a924a" stroke-width="0.7" />
<line x1="66.52" y1="371.1" x2="66.52" y2="374.35" stroke="#4a924a" stroke-width="0.7" />
<line x1="66.52" y1="374.35" x2="66.52" y2="377.6" stroke="#4a924a" stroke-width="0.7" />
<line x1="79.44" y1="371.1" x2="79.44" y2="374.35" stroke="#4a924a" stroke-width="0.7" />
<line x1="79.44" y1="374.35" x2="79.44" y2="377.6" stroke="#4a924a" stroke-width="0.7" />
<line x1="92.36" y1="371.1" x2="92.36" y2="374.35" stroke="#4a924a" stroke-width="0.7" />
<line x1="92.36" y1="374.35" x2="92.36" y2="377.6" stroke="#4a924a" stroke-width="0.7" />
<line x1="53.6" y1="377.6" x2="56.83" y2="377.6" stroke="#4a924a" stroke-width="0.7" />
<line x1="56.83" y1="377.6" x2="60.06" y2="377.6" stroke="#4a924a" stroke-width="0.7" />
<line x1="60.06" y1="377.6" x2="63.29" y2="377.6" stroke="#4a924a" stroke-width="0.7" />
<line x1="63.29" y1="377.6" x2="66.52" y2="377.6" stroke="#4a924a" stroke-width="0.7" />
<line x1="66.52" y1="377.6" x2="69.75" y2="377.6" stroke="#4a924a" stroke-width="0.7" />
<line x1="69.75" y1="377.6" x2="72.98" y2="377.6" stroke="#4a924a" stroke-width="0.7" />
<line x1="72.98" y1="377.6" x2="76.21" y2="377.6" stroke="#4a924a" stroke-width="0.7" />
<line x1="76.21" y1="377.6" x2="79.44" y2="377.6" stroke="#4a924a" stroke-width="0.7" />
<line x1="79.44" y1="377.6" x2="82.67" y2="377.6" stroke="#4a924a" stroke-width="0.7" />
<line x1="82.67" y1="377.6" x2="85.9" y2="377.6" stroke="#4a924a" stroke-width="0.7" />
<line x1="85.9" y1="377.6" x2="89.13" y2="377.6" stroke="#4a924a" stroke-width="0.7" />
<line x1="89.13" y1="377.6" x2="92.36" y2="377.6" stroke="#4a924a" stroke-width="0.7" />
<line x1="92.36" y1="377.6" x2="95.59" y2="377.6" stroke="#4a924a" stroke-width="0.7" />
<line x1="95.59" y1="377.6" x2="98.82" y2="377.6" stroke="#4a924a" stroke-width="0.7" />
<line x1="60.06" y1="377.6" x2="60.06" y2="380.85" stroke="#4a924a" stroke-width="0.7" />
<line x1="60.06" y1="380.85" x2="60.06" y2="384.1" stroke="#4a924a" stroke-width="0.7" />
<line x1="72.98" y1="377.6" x2="72.98" y2="380.85" stroke="#4a924a" stroke-width="0.7" />
<line x1="72.98" y1="380.85" x2="72.98" y2="384.1" stroke="#4a924a" stroke-width="0.7" />
<line x1="85.9" y1="377.6" x2="85.9" y2="380.85" stroke="#4a924a" stroke-width="0.7" />
<line x1="85.9" y1="380.85" x2="85.9" y2="384.1" stroke="#4a924a" stroke-width="0.7" />
<line x1="98.82" y1="377.6" x2="98.82" y2="380.85" stroke="#4a924a" stroke-width="0.7" />
<line x1="98.82" y1="380.85" x2="98.82" y2="384.1" stroke="#4a924a" stroke-width="0.7" />
<line x1="56.83" y1="384.1" x2="60.06" y2="384.1" stroke="#4a924a" stroke-width="0.7" />
<line x1="60.06" y1="384.1" x2="63.29" y2="384.1" stroke="#4a924a" stroke-width="0.7" />
<line x1="63.29" y1="384.1" x2="66.52" y2="384.1" stroke="#4a924a" stroke-width="0.7" />
<line x1="66.52" y1="384.1" x2="69.75" y2="384.1" stroke="#4a924a" stroke-width="0.7" />
<line x1="69.75" y1="384.1" x2="72.98" y2="384.1" stroke="#4a924a" stroke-width="0.7" />
<line x1="72.98" y1="384.1" x2="76.21" y2="384.1" stroke="#4a924a" stroke-width="0.7" />
<line x1="76.21" y1="384.1" x2="79.44" y2="384.1" stroke="#4a924a" stroke-width="0.7" />
<line x1="79.44" y1="384.1" x2="82.67" y2="384.1" stroke="#4a924a" stroke-width="0.7" />
<line x1="82.67" y1="384.1" x2="85.9" y2="384.1" stroke="#4a924a" stroke-width="0.7" />
<line x1="85.9" y1="384.1" x2="89.13" y2="384.1" stroke="#4a924a" stroke-width="0.7" />
<line x1="89.13" y1="384.1" x2="92.36" y2="384.1" stroke="#4a924a" stroke-width="0.7" />
<line x1="92.36" y1="384.1" x2="95.59" y2="384.1" stroke="#4a924a" stroke-width="0.7" />
<line x1="95.59" y1="384.1" x2="98.82" y2="384.1" stroke="#4a924a" stroke-width="0.7" />
<circle cx="53.6" cy="345.1" r="1.05" fill="#34963a"/>
<circle cx="56.83" cy="345.1" r="1.05" fill="#34963a"/>
<circle cx="60.06" cy="345.1" r="1.05" fill="#34963a"/>
<circle cx="63.29" cy="345.1" r="1.05" fill="#34963a"/>
<circle cx="66.52" cy="345.1" r="1.05" fill="#34963a"/>
<circle cx="69.75" cy="345.1" r="1.05" fill="#34963a"/>
<circle cx="72.98" cy="345.1" r="1.05" fill="#34963a"/>
<circle cx="76.21" cy="345.1" r="1.05" fill="#34963a"/>
<circle cx="79.44" cy="345.1" r="1.05" fill="#34963a"/>
<circle cx="82.67" cy="345.1" r="1.05" fill="#34963a"/>
<circle cx="85.9" cy="345.1" r="1.05" fill="#34963a"/>
<circle cx="89.13" cy="345.1" r="1.05" fill="#34963a"/>
<circle cx="92.36" cy="345.1" r="1.05" fill="#34963a"/>
<circle cx="95.59" cy="345.1" r="1.05" fill="#34963a"/>
<circle cx="53.6" cy="348.35" r="1.05" fill="#34963a"/>
<circle cx="66.52" cy="348.35" r="1.05" fill="#34963a"/>
<circle cx="79.44" cy="348.35" r="1.05" fill="#34963a"/>
<circle cx="92.36" cy="348.35" r="1.05" fill="#34963a"/>
<circle cx="53.6" cy="351.6" r="1.05" fill="#34963a"/>
<circle cx="56.83" cy="351.6" r="1.05" fill="#34963a"/>
<circle cx="60.06" cy="351.6" r="1.05" fill="#34963a"/>
<circle cx="63.29" cy="351.6" r="1.05" fill="#34963a"/>
<circle cx="66.52" cy="351.6" r="1.05" fill="#34963a"/>
<circle cx="69.75" cy="351.6" r="1.05" fill="#34963a"/>
<circle cx="72.98" cy="351.6" r="1.05" fill="#34963a"/>
<circle cx="76.21" cy="351.6" r="1.05" fill="#34963a"/>
<circle cx="79.44" cy="351.6" r="1.05" fill="#34963a"/>
<circle cx="82.67" cy="351.6" r="1.05" fill="#34963a"/>
<circle cx="85.9" cy="351.6" r="1.05" fill="#34963a"/>
<circle cx="89.13" cy="351.6" r="1.05" fill="#34963a"/>
<circle cx="92.36" cy="351.6" r="1.05" fill="#34963a"/>
<circle cx="95.59" cy="351.6" r="1.05" fill="#34963a"/>
<circle cx="98.82" cy="351.6" r="1.05" fill="#34963a"/>
<circle cx="60.06" cy="354.85" r="1.05" fill="#34963a"/>
<circle cx="72.98" cy="354.85" r="1.05" fill="#34963a"/>
<circle cx="85.9" cy="354.85" r="1.05" fill="#34963a"/>
<circle cx="98.82" cy="354.85" r="1.05" fill="#34963a"/>
<circle cx="53.6" cy="358.1" r="1.05" fill="#34963a"/>
<circle cx="56.83" cy="358.1" r="1.05" fill="#34963a"/>
<circle cx="60.06" cy="358.1" r="1.05" fill="#34963a"/>
<circle cx="63.29" cy="358.1" r="1.05" fill="#34963a"/>
<circle cx="66.52" cy="358.1" r="1.05" fill="#34963a"/>
<circle cx="69.75" cy="358.1" r="1.05" fill="#34963a"/>
<circle cx="72.98" cy="358.1" r="1.05" fill="#34963a"/>
<circle cx="76.21" cy="358.1" r="1.05" fill="#34963a"/>
<circle cx="79.44" cy="358.1" r="1.05" fill="#34963a"/>
<circle cx="82.67" cy="358.1" r="1.05" fill="#34963a"/>
<circle cx="85.9" cy="358.1" r="1.05" fill="#34963a"/>
<circle cx="89.13" cy="358.1" r="1.05" fill="#34963a"/>
<circle cx="92.36" cy="358.1" r="1.05" fill="#34963a"/>
<circle cx="95.59" cy="358.1" r="1.05" fill="#34963a"/>
<circle cx="98.82" cy="358.1" r="1.05" fill="#34963a"/>
<circle cx="53.6" cy="361.35" r="1.05" fill="#34963a"/>
<circle cx="66.52" cy="361.35" r="1.05" fill="#34963a"/>
<circle cx="79.44" cy="361.35" r="1.05" fill="#34963a"/>
<circle cx="92.36" cy="361.35" r="1.05" fill="#c81414"/>
<circle cx="53.6" cy="364.6" r="1.05" fill="#34963a"/>
<circle cx="56.83" cy="364.6" r="1.05" fill="#34963a"/>
<circle cx="60.06" cy="364.6" r="1.05" fill="#34963a"/>
<circle cx="63.29" cy="364.6" r="1.05" fill="#34963a"/>
<circle cx="66.52" cy="364.6" r="1.05" fill="#34963a"/>
<circle cx="69.75" cy="364.6" r="1.05" fill="#34963a"/>
<circle cx="72.98" cy="364.6" r="1.05" fill="#c81414"/>
<circle cx="76.21" cy="364.6" r="1.05" fill="#c81414"/>
<circle cx="79.44" cy="364.6" r="1.05" fill="#c81414"/>
<circle cx="82.67" cy="364.6" r="1.05" fill="#c81414"/>
<circle cx="85.9" cy="364.6" r="1.05" fill="#c81414"/>
<circle cx="89.13" cy="364.6" r="1.05" fill="#34963a"/>
<circle cx="92.36" cy="364.6" r="1.05" fill="#34963a"/>
<circle cx="95.59" cy="364.6" r="1.05" fill="#34963a"/>
<circle cx="98.82" cy="364.6" r="1.05" fill="#34963a"/>
<circle cx="60.06" cy="367.85" r="1.05" fill="#34963a"/>
<circle cx="72.98" cy="367.85" r="1.05" fill="#34963a"/>
<circle cx="85.9" cy="367.85" r="1.05" fill="#c81414"/>
<circle cx="98.82" cy="367.85" r="1.05" fill="#34963a"/>
<circle cx="53.6" cy="371.1" r="1.05" fill="#34963a"/>
<circle cx="56.83" cy="371.1" r="1.05" fill="#34963a"/>
<circle cx="60.06" cy="371.1" r="1.05" fill="#34963a"/>
<circle cx="63.29" cy="371.1" r="1.05" fill="#34963a"/>
<circle cx="66.52" cy="371.1" r="1.05" fill="#34963a"/>
<circle cx="69.75" cy="371.1" r="1.05" fill="#34963a"/>
<circle cx="72.98" cy="371.1" r="1.05" fill="#34963a"/>
<circle cx="76.21" cy="371.1" r="1.05" fill="#34963a"/>
<circle cx="79.44" cy="371.1" r="1.05" fill="#34963a"/>
<circle cx="82.67" cy="371.1" r="1.05" fill="#34963a"/>
<circle cx="85.9" cy="371.1" r="1.05" fill="#34963a"/>
<circle cx="89.13" cy="371.1" r="1.05" fill="#34963a"/>
<circle cx="92.36" cy="371.1" r="1.05" fill="#34963a"/>
<circle cx="95.59" cy="371.1" r="1.05" fill="#34963a"/>
<circle cx="98.82" cy="371.1" r="1.05" fill="#34963a"/>
<circle cx="53.6" cy="374.35" r="1.05" fill="#34963a"/>
<circle cx="66.52" cy="374.35" r="1.05" fill="#34963a"/>
<circle cx="79.44" cy="374.35" r="1.05" fill="#34963a"/>
<circle cx="92.36" cy="374.35" r="1.05" fill="#34963a"/>
<circle cx="53.6" cy="377.6" r="1.05" fill="#34963a"/>
<circle cx="56.83" cy="377.6" r="1.05" fill="#34963a"/>
<circle cx="60.06" cy="377.6" r="1.05" fill="#34963a"/>
<circle cx="63.29" cy="377.6" r="1.05" fill="#34963a"/>
<circle cx="66.52" cy="377.6" r="1.05" fill="#34963a"/>
<circle cx="69.75" cy="377.6" r="1.05" fill="#34963a"/>
<circle cx="72.98" cy="377.6" r="1.05" fill="#34963a"/>
<circle cx="76.21" cy="377.6" r="1.05" fill="#34963a"/>
<circle cx="79.44" cy="377.6" r="1.05" fill="#34963a"/>
<circle cx="82.67" cy="377.6" r="1.05" fill="#34963a"/>
<circle cx="85.9" cy="377.6" r="1.05" fill="#34963a"/>
<circle cx="89.13" cy="377.6" r="1.05" fill="#34963a"/>
<circle cx="92.36" cy="377.6" r="1.05" fill="#34963a"/>
<circle cx="95.59" cy="377.6" r="1.05" fill="#34963a"/>
<circle cx="98.82" cy="377.6" r="1.05" fill="#34963a"/>
<circle cx="60.06" cy="380.85" r="1.05" fill="#34963a"/>
<circle cx="72.98" cy="380.85" r="1.05" fill="#34963a"/>
<circle cx="85.9" cy="380.85" r="1.05" fill="#34963a"/>
<circle cx="98.82" cy="380.85" r="1.05" fill="#34963a"/>
<circle cx="56.83" cy="384.1" r="1.05" fill="#34963a"/>
<circle cx="60.06" cy="384.1" r="1.05" fill="#34963a"/>
<circle cx="63.29" cy="384.1" r="1.05" fill="#34963a"/>
<circle cx="66.52" cy="384.1" r="1.05" fill="#34963a"/>
<circle cx="69.75" cy="384.1" r="1.05" fill="#34963a"/>
<circle cx="72.98" cy="384.1" r="1.05" fill="#34963a"/>
<circle cx="76.21" cy="384.1" r="1.05" fill="#34963a"/>
<circle cx="79.44" cy="384.1" r="1.05" fill="#34963a"/>
<circle cx="82.67" cy="384.1" r="1.05" fill="#34963a"/>
<circle cx="85.9" cy="384.1" r="1.05" fill="#34963a"/>
<circle cx="89.13" cy="384.1" r="1.05" fill="#34963a"/>
<circle cx="92.36" cy="384.1" r="1.05" fill="#34963a"/>
<circle cx="95.59" cy="384.1" r="1.05" fill="#34963a"/>
<circle cx="98.82" cy="384.1" r="1.05" fill="#34963a"/>
</svg>
</body></html>
